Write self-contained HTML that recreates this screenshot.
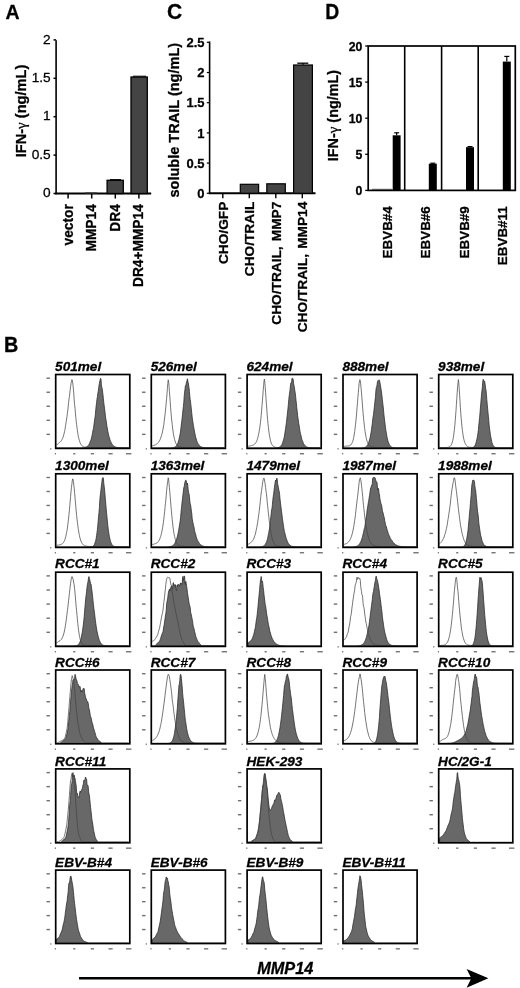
<!DOCTYPE html>
<html><head><meta charset="utf-8"><title>Figure</title>
<style>
html,body{margin:0;padding:0;background:#fff;}
body{width:520px;height:988px;overflow:hidden;}
svg{display:block;will-change:transform;}
svg text{font-family:"Liberation Sans",sans-serif;fill:#000;stroke:#000;stroke-width:0.28px;stroke-linejoin:round;}
</style></head><body>
<svg width="520" height="988" viewBox="0 0 520 988">
<rect width="520" height="988" fill="#fff"/>
<text x="0" y="0" font-size="19.5" font-weight="bold" font-style="normal" text-anchor="start" transform="translate(5.5 19.3) scale(1 1.0)" >A</text>
<text x="0" y="0" font-size="19.8" font-weight="bold" font-style="normal" text-anchor="start" transform="translate(3.9 352.2) scale(1 1.1)" >B</text>
<text x="0" y="0" font-size="21" font-weight="bold" font-style="normal" text-anchor="start" transform="translate(167 18.9) scale(1 1.07)" >C</text>
<text x="0" y="0" font-size="19.4" font-weight="bold" font-style="normal" text-anchor="start" transform="translate(325.2 18.7) scale(1 1.12)" >D</text>
<line x1="56.1" y1="40.2" x2="56.1" y2="194.25" stroke="#000" stroke-width="1.6" stroke-linecap="butt"/>
<line x1="55.300000000000004" y1="193.5" x2="151.2" y2="193.5" stroke="#000" stroke-width="1.9" stroke-linecap="butt"/>
<line x1="53.5" y1="193.5" x2="56.1" y2="193.5" stroke="#000" stroke-width="1.5" stroke-linecap="butt"/>
<text x="0" y="0" font-size="13.7" font-weight="normal" font-style="normal" text-anchor="end" transform="translate(50.7 197.2) scale(1 1.0)" fill="#111">0</text>
<line x1="53.5" y1="155.1" x2="56.1" y2="155.1" stroke="#000" stroke-width="1.5" stroke-linecap="butt"/>
<text x="0" y="0" font-size="13.7" font-weight="normal" font-style="normal" text-anchor="end" transform="translate(50.7 158.79999999999998) scale(1 1.0)" fill="#111">0.5</text>
<line x1="53.5" y1="116.7" x2="56.1" y2="116.7" stroke="#000" stroke-width="1.5" stroke-linecap="butt"/>
<text x="0" y="0" font-size="13.7" font-weight="normal" font-style="normal" text-anchor="end" transform="translate(50.7 120.4) scale(1 1.0)" fill="#111">1</text>
<line x1="53.5" y1="78.30000000000001" x2="56.1" y2="78.30000000000001" stroke="#000" stroke-width="1.5" stroke-linecap="butt"/>
<text x="0" y="0" font-size="13.7" font-weight="normal" font-style="normal" text-anchor="end" transform="translate(50.7 82.00000000000001) scale(1 1.0)" fill="#111">1.5</text>
<line x1="53.5" y1="39.900000000000006" x2="56.1" y2="39.900000000000006" stroke="#000" stroke-width="1.5" stroke-linecap="butt"/>
<text x="0" y="0" font-size="13.7" font-weight="normal" font-style="normal" text-anchor="end" transform="translate(50.7 43.60000000000001) scale(1 1.0)" fill="#111">2</text>
<line x1="68.1" y1="193.5" x2="68.1" y2="198.5" stroke="#000" stroke-width="1.5" stroke-linecap="butt"/>
<text x="0" y="0" font-size="13.75" font-weight="bold" font-style="normal" text-anchor="end" transform="rotate(-90 72.6 204.2) translate(72.6 204.2) scale(1 1.04)" >vector</text>
<line x1="91.69999999999999" y1="193.5" x2="91.69999999999999" y2="198.5" stroke="#000" stroke-width="1.5" stroke-linecap="butt"/>
<text x="0" y="0" font-size="13.75" font-weight="bold" font-style="normal" text-anchor="end" transform="rotate(-90 96.19999999999999 204.2) translate(96.19999999999999 204.2) scale(1 1.04)" >MMP14</text>
<line x1="115.3" y1="193.5" x2="115.3" y2="198.5" stroke="#000" stroke-width="1.5" stroke-linecap="butt"/>
<text x="0" y="0" font-size="13.75" font-weight="bold" font-style="normal" text-anchor="end" transform="rotate(-90 119.8 204.2) translate(119.8 204.2) scale(1 1.04)" >DR4</text>
<line x1="138.9" y1="193.5" x2="138.9" y2="198.5" stroke="#000" stroke-width="1.5" stroke-linecap="butt"/>
<text x="0" y="0" font-size="13.75" font-weight="bold" font-style="normal" text-anchor="end" transform="rotate(-90 143.4 204.2) translate(143.4 204.2) scale(1 1.04)" >DR4+MMP14</text>
<rect x="107.1" y="180.3" width="16.2" height="13.2" fill="#444" stroke="#000" stroke-width="1.3"/>
<line x1="110" y1="179.6" x2="121" y2="179.6" stroke="#000" stroke-width="1" stroke-linecap="butt"/>
<rect x="131.0" y="77" width="16.3" height="116.5" fill="#444" stroke="#000" stroke-width="1.3"/>
<line x1="133" y1="76.2" x2="146" y2="76.2" stroke="#000" stroke-width="1" stroke-linecap="butt"/>
<line x1="85" y1="193" x2="97" y2="193" stroke="#333" stroke-width="1.2" stroke-linecap="butt"/>
<text x="0" y="0" font-size="14.6" font-weight="bold" text-anchor="middle" transform="rotate(-90 25.9 111) translate(25.9 111) scale(1 1.03)">IFN-<tspan font-family="Liberation Serif, serif" font-weight="normal" font-size="15">γ</tspan> (ng/mL)</text>
<line x1="209.6" y1="41.5" x2="209.6" y2="194.05" stroke="#000" stroke-width="1.6" stroke-linecap="butt"/>
<line x1="208.79999999999998" y1="193.3" x2="315.5" y2="193.3" stroke="#000" stroke-width="1.9" stroke-linecap="butt"/>
<line x1="206.79999999999998" y1="193.3" x2="209.6" y2="193.3" stroke="#000" stroke-width="1.2" stroke-linecap="butt"/>
<text x="0" y="0" font-size="13" font-weight="bold" font-style="normal" text-anchor="end" transform="translate(204.6 198.0) scale(1 1.02)" >0</text>
<line x1="206.79999999999998" y1="163.10000000000002" x2="209.6" y2="163.10000000000002" stroke="#000" stroke-width="1.2" stroke-linecap="butt"/>
<text x="0" y="0" font-size="13" font-weight="bold" font-style="normal" text-anchor="end" transform="translate(204.6 167.8) scale(1 1.02)" >0.5</text>
<line x1="206.79999999999998" y1="132.9" x2="209.6" y2="132.9" stroke="#000" stroke-width="1.2" stroke-linecap="butt"/>
<text x="0" y="0" font-size="13" font-weight="bold" font-style="normal" text-anchor="end" transform="translate(204.6 137.6) scale(1 1.02)" >1</text>
<line x1="206.79999999999998" y1="102.70000000000002" x2="209.6" y2="102.70000000000002" stroke="#000" stroke-width="1.2" stroke-linecap="butt"/>
<text x="0" y="0" font-size="13" font-weight="bold" font-style="normal" text-anchor="end" transform="translate(204.6 107.40000000000002) scale(1 1.02)" >1.5</text>
<line x1="206.79999999999998" y1="72.50000000000001" x2="209.6" y2="72.50000000000001" stroke="#000" stroke-width="1.2" stroke-linecap="butt"/>
<text x="0" y="0" font-size="13" font-weight="bold" font-style="normal" text-anchor="end" transform="translate(204.6 77.20000000000002) scale(1 1.02)" >2</text>
<line x1="206.79999999999998" y1="42.30000000000001" x2="209.6" y2="42.30000000000001" stroke="#000" stroke-width="1.2" stroke-linecap="butt"/>
<text x="0" y="0" font-size="13" font-weight="bold" font-style="normal" text-anchor="end" transform="translate(204.6 47.000000000000014) scale(1 1.02)" >2.5</text>
<line x1="222.8" y1="193.3" x2="222.8" y2="198.3" stroke="#000" stroke-width="1.4" stroke-linecap="butt"/>
<text x="0" y="0" font-size="13.7" font-weight="bold" font-style="normal" text-anchor="end" transform="rotate(-90 227.60000000000002 201.7) translate(227.60000000000002 201.7) scale(1 1.0)" word-spacing="1.3">CHO/GFP</text>
<line x1="249.3" y1="193.3" x2="249.3" y2="198.3" stroke="#000" stroke-width="1.4" stroke-linecap="butt"/>
<text x="0" y="0" font-size="13.7" font-weight="bold" font-style="normal" text-anchor="end" transform="rotate(-90 254.10000000000002 201.7) translate(254.10000000000002 201.7) scale(1 1.0)" word-spacing="1.3">CHO/TRAIL</text>
<line x1="275.8" y1="193.3" x2="275.8" y2="198.3" stroke="#000" stroke-width="1.4" stroke-linecap="butt"/>
<text x="0" y="0" font-size="13.7" font-weight="bold" font-style="normal" text-anchor="end" transform="rotate(-90 280.6 201.7) translate(280.6 201.7) scale(1 1.0)" word-spacing="1.3">CHO/TRAIL, MMP7</text>
<line x1="302.3" y1="193.3" x2="302.3" y2="198.3" stroke="#000" stroke-width="1.4" stroke-linecap="butt"/>
<text x="0" y="0" font-size="13.7" font-weight="bold" font-style="normal" text-anchor="end" transform="rotate(-90 307.1 201.7) translate(307.1 201.7) scale(1 1.0)" word-spacing="1.3">CHO/TRAIL, MMP14</text>
<rect x="240.3" y="184.3" width="18.3" height="9.0" fill="#444" stroke="#000" stroke-width="1.2"/>
<rect x="266.8" y="183.8" width="18.5" height="9.5" fill="#444" stroke="#000" stroke-width="1.2"/>
<rect x="293.6" y="65" width="18.8" height="128.3" fill="#444" stroke="#000" stroke-width="1.2"/>
<line x1="297.3" y1="63.2" x2="308.3" y2="63.2" stroke="#000" stroke-width="1.3" stroke-linecap="butt"/>
<line x1="303" y1="63" x2="303" y2="65" stroke="#000" stroke-width="1" stroke-linecap="butt"/>
<text x="0" y="0" font-size="14.55" font-weight="bold" text-anchor="middle" transform="rotate(-90 178.6 120.2) translate(178.6 120.2) scale(1 1.04)">soluble TRAIL (ng/mL)</text>
<rect x="368.2" y="46" width="147.09999999999997" height="144.4" fill="none" stroke="#000" stroke-width="1.7"/>
<line x1="404.7" y1="46" x2="404.7" y2="190.4" stroke="#000" stroke-width="1.6" stroke-linecap="butt"/>
<line x1="441.6" y1="46" x2="441.6" y2="190.4" stroke="#000" stroke-width="1.6" stroke-linecap="butt"/>
<line x1="478.2" y1="46" x2="478.2" y2="190.4" stroke="#000" stroke-width="1.6" stroke-linecap="butt"/>
<line x1="365.2" y1="190.4" x2="368.2" y2="190.4" stroke="#000" stroke-width="1.3" stroke-linecap="butt"/>
<text x="0" y="0" font-size="12.3" font-weight="bold" font-style="normal" text-anchor="end" transform="translate(362.3 195.0) scale(1 1.06)" >0</text>
<line x1="365.2" y1="154.3" x2="368.2" y2="154.3" stroke="#000" stroke-width="1.3" stroke-linecap="butt"/>
<text x="0" y="0" font-size="12.3" font-weight="bold" font-style="normal" text-anchor="end" transform="translate(362.3 158.9) scale(1 1.06)" >5</text>
<line x1="365.2" y1="118.2" x2="368.2" y2="118.2" stroke="#000" stroke-width="1.3" stroke-linecap="butt"/>
<text x="0" y="0" font-size="12.3" font-weight="bold" font-style="normal" text-anchor="end" transform="translate(362.3 122.8) scale(1 1.06)" >10</text>
<line x1="365.2" y1="82.1" x2="368.2" y2="82.1" stroke="#000" stroke-width="1.3" stroke-linecap="butt"/>
<text x="0" y="0" font-size="12.3" font-weight="bold" font-style="normal" text-anchor="end" transform="translate(362.3 86.69999999999999) scale(1 1.06)" >15</text>
<line x1="365.2" y1="46.0" x2="368.2" y2="46.0" stroke="#000" stroke-width="1.3" stroke-linecap="butt"/>
<text x="0" y="0" font-size="12.3" font-weight="bold" font-style="normal" text-anchor="end" transform="translate(362.3 50.6) scale(1 1.06)" >20</text>
<rect x="392.7" y="135.3" width="7.900000000000034" height="55.099999999999994" fill="#000"/>
<line x1="396.65" y1="132.8" x2="396.65" y2="135.3" stroke="#000" stroke-width="1.2" stroke-linecap="butt"/>
<line x1="394.2" y1="132.8" x2="399.1" y2="132.8" stroke="#000" stroke-width="1.2" stroke-linecap="butt"/>
<rect x="428.8" y="163.7" width="8.0" height="26.700000000000017" fill="#000"/>
<line x1="432.8" y1="163.2" x2="432.8" y2="163.7" stroke="#000" stroke-width="1.2" stroke-linecap="butt"/>
<line x1="430.3" y1="163.2" x2="435.3" y2="163.2" stroke="#000" stroke-width="1.2" stroke-linecap="butt"/>
<rect x="466" y="147.2" width="8" height="43.20000000000002" fill="#000"/>
<line x1="470.0" y1="146.6" x2="470.0" y2="147.2" stroke="#000" stroke-width="1.2" stroke-linecap="butt"/>
<line x1="467.5" y1="146.6" x2="472.5" y2="146.6" stroke="#000" stroke-width="1.2" stroke-linecap="butt"/>
<rect x="502.8" y="61.6" width="8.0" height="128.8" fill="#000"/>
<line x1="506.8" y1="56.4" x2="506.8" y2="61.6" stroke="#000" stroke-width="1.2" stroke-linecap="butt"/>
<line x1="504.3" y1="56.4" x2="509.3" y2="56.4" stroke="#000" stroke-width="1.2" stroke-linecap="butt"/>
<line x1="372" y1="189.3" x2="392" y2="189.3" stroke="#222" stroke-width="0.7" stroke-linecap="butt"/>
<text x="0" y="0" font-size="13.45" font-weight="bold" font-style="normal" text-anchor="end" transform="rotate(-90 392.1 206.2) translate(392.1 206.2) scale(1 1.0)" >EBVB#4</text>
<text x="0" y="0" font-size="13.45" font-weight="bold" font-style="normal" text-anchor="end" transform="rotate(-90 430.35 206.2) translate(430.35 206.2) scale(1 1.0)" >EBVB#6</text>
<text x="0" y="0" font-size="13.45" font-weight="bold" font-style="normal" text-anchor="end" transform="rotate(-90 468.6 206.2) translate(468.6 206.2) scale(1 1.0)" >EBVB#9</text>
<text x="0" y="0" font-size="13.45" font-weight="bold" font-style="normal" text-anchor="end" transform="rotate(-90 506.85 206.2) translate(506.85 206.2) scale(1 1.0)" >EBVB#11</text>
<text x="0" y="0" font-size="14.35" font-weight="bold" text-anchor="middle" transform="rotate(-90 337.7 115.6) translate(337.7 115.6) scale(1 1.0)">IFN-<tspan font-family="Liberation Serif, serif" font-weight="normal" font-size="15">γ</tspan> (ng/mL)</text>
<clipPath id="cl00"><rect x="55.7" y="374.5" width="74.1" height="73.9"/></clipPath>
<g clip-path="url(#cl00)">
<path d="M56.6,448.4 L56.6,447.9 L57.0,447.9 L57.4,447.9 L57.8,447.9 L58.2,447.9 L58.6,447.9 L59.0,447.9 L59.4,447.9 L59.8,447.9 L60.2,447.9 L60.6,447.9 L61.0,447.9 L61.4,447.9 L61.8,447.9 L62.2,447.9 L62.6,447.9 L63.0,447.9 L63.4,447.9 L63.8,447.9 L64.2,447.9 L64.6,447.9 L65.0,447.9 L65.4,447.9 L65.8,447.9 L66.2,447.9 L66.6,447.9 L67.0,447.9 L67.4,447.9 L67.8,447.9 L68.2,447.9 L68.6,447.9 L69.0,447.9 L69.4,447.9 L69.8,447.9 L70.2,447.9 L70.6,447.9 L71.0,447.9 L71.4,447.9 L71.8,447.9 L72.2,447.9 L72.6,447.9 L73.0,447.9 L73.4,447.9 L73.8,447.9 L74.2,447.9 L74.6,447.9 L75.0,447.9 L75.4,447.9 L75.8,447.9 L76.2,447.9 L76.6,447.9 L77.0,447.9 L77.4,447.9 L77.8,447.9 L78.2,447.9 L78.6,447.9 L79.0,447.9 L79.4,447.9 L79.8,447.9 L80.2,447.9 L80.6,447.9 L81.0,447.9 L81.4,447.9 L81.8,447.8 L82.2,447.8 L82.6,447.8 L83.0,447.8 L83.4,447.7 L83.8,447.7 L84.2,447.6 L84.6,447.6 L85.0,447.5 L85.4,447.3 L85.8,447.2 L86.2,447.0 L86.6,446.8 L87.0,446.5 L87.4,446.2 L87.8,445.9 L88.2,445.4 L88.6,445.0 L89.0,444.5 L89.4,443.6 L89.8,442.8 L90.2,441.7 L90.6,440.6 L91.0,439.7 L91.4,438.3 L91.8,436.7 L92.2,434.9 L92.6,432.5 L93.0,430.3 L93.4,428.7 L93.8,426.2 L94.2,423.0 L94.6,420.1 L95.0,417.5 L95.4,414.4 L95.8,409.3 L96.2,405.8 L96.6,402.5 L97.0,399.1 L97.4,396.8 L97.8,393.5 L98.2,391.5 L98.6,388.8 L99.0,385.3 L99.4,383.6 L99.8,381.0 L100.2,380.0 L100.6,378.2 L101.0,379.4 L101.4,384.8 L101.8,387.4 L102.2,388.7 L102.6,392.0 L103.0,395.1 L103.4,398.7 L103.8,402.7 L104.2,406.0 L104.6,408.8 L105.0,412.2 L105.4,416.1 L105.8,418.9 L106.2,421.1 L106.6,424.0 L107.0,426.8 L107.4,429.0 L107.8,431.2 L108.2,433.1 L108.6,435.0 L109.0,436.6 L109.4,437.8 L109.8,439.2 L110.2,440.3 L110.6,441.4 L111.0,442.2 L111.4,443.0 L111.8,443.7 L112.2,444.3 L112.6,444.9 L113.0,445.3 L113.4,445.7 L113.8,446.0 L114.2,446.3 L114.6,446.5 L115.0,446.7 L115.4,446.9 L115.8,447.1 L116.2,447.2 L116.6,447.4 L117.0,447.4 L117.4,447.5 L117.8,447.6 L118.2,447.6 L118.6,447.7 L119.0,447.7 L119.4,447.8 L119.8,447.8 L120.2,447.8 L120.6,447.8 L121.0,447.8 L121.4,447.8 L121.8,447.9 L122.2,447.9 L122.6,447.9 L123.0,447.9 L123.4,447.9 L123.8,447.9 L124.2,447.9 L124.6,447.9 L125.0,447.9 L125.4,447.9 L125.8,447.9 L126.2,447.9 L126.6,447.9 L127.0,447.9 L127.4,447.9 L127.8,447.9 L128.2,447.9 L128.6,447.9 L128.6,448.4 Z" fill="#686868" stroke="#2e2e2e" stroke-width="0.8" stroke-linejoin="round"/>
<path d="M56.6,445.1 L57.0,444.7 L57.4,444.3 L57.8,443.9 L58.2,443.6 L58.6,443.2 L59.0,442.9 L59.4,442.6 L59.8,442.3 L60.2,442.0 L60.6,441.6 L61.0,441.2 L61.4,440.6 L61.8,439.9 L62.2,439.2 L62.6,438.3 L63.0,437.4 L63.4,436.1 L63.8,434.6 L64.2,433.0 L64.6,431.4 L65.0,429.5 L65.4,426.7 L65.8,424.3 L66.2,421.7 L66.6,418.9 L67.0,416.5 L67.4,413.4 L67.8,410.2 L68.2,406.7 L68.6,402.7 L69.0,399.1 L69.4,396.5 L69.8,393.1 L70.2,389.7 L70.6,386.7 L71.0,383.7 L71.4,381.6 L71.8,379.7 L72.2,379.9 L72.6,381.9 L73.0,385.4 L73.4,389.1 L73.8,393.8 L74.2,399.8 L74.6,404.6 L75.0,408.3 L75.4,412.8 L75.8,417.3 L76.2,421.2 L76.6,424.5 L77.0,427.7 L77.4,430.7 L77.8,433.2 L78.2,435.7 L78.6,437.6 L79.0,439.2 L79.4,440.6 L79.8,441.9 L80.2,442.9 L80.6,443.8 L81.0,444.5 L81.4,445.1 L81.8,445.5 L82.2,445.9 L82.6,446.2 L83.0,446.5 L83.4,446.7 L83.8,446.9 L84.2,447.0 L84.6,447.1 L85.0,447.2 L85.4,447.3 L85.8,447.3 L86.2,447.4 L86.6,447.4 L87.0,447.4 L87.4,447.4 L87.8,447.5 L88.2,447.5 L88.6,447.5 L89.0,447.5 L89.4,447.5 L89.8,447.5 L90.2,447.5 L90.6,447.5 L91.0,447.5 L91.4,447.5 L91.8,447.5 L92.2,447.5 L92.6,447.5 L93.0,447.5 L93.4,447.5 L93.8,447.5 L94.2,447.5 L94.6,447.5 L95.0,447.5 L95.4,447.5 L95.8,447.5 L96.2,447.5 L96.6,447.5 L97.0,447.5 L97.4,447.5 L97.8,447.5 L98.2,447.5 L98.6,447.5 L99.0,447.5 L99.4,447.5 L99.8,447.5 L100.2,447.5 L100.6,447.5 L101.0,447.5 L101.4,447.5 L101.8,447.5 L102.2,447.5 L102.6,447.5 L103.0,447.5 L103.4,447.5 L103.8,447.5 L104.2,447.5 L104.6,447.5 L105.0,447.5 L105.4,447.5 L105.8,447.5 L106.2,447.5 L106.6,447.5 L107.0,447.5 L107.4,447.5 L107.8,447.5 L108.2,447.5 L108.6,447.5 L109.0,447.5 L109.4,447.5 L109.8,447.5 L110.2,447.5 L110.6,447.5 L111.0,447.5 L111.4,447.5 L111.8,447.5 L112.2,447.5 L112.6,447.5 L113.0,447.5 L113.4,447.5 L113.8,447.5 L114.2,447.5 L114.6,447.5 L115.0,447.5 L115.4,447.5 L115.8,447.5 L116.2,447.5 L116.6,447.5 L117.0,447.5 L117.4,447.5 L117.8,447.5 L118.2,447.5 L118.6,447.5 L119.0,447.5 L119.4,447.5 L119.8,447.5 L120.2,447.5 L120.6,447.5 L121.0,447.5 L121.4,447.5 L121.8,447.5 L122.2,447.5 L122.6,447.5 L123.0,447.5 L123.4,447.5 L123.8,447.5 L124.2,447.5 L124.6,447.5 L125.0,447.5 L125.4,447.5 L125.8,447.5 L126.2,447.5 L126.6,447.5 L127.0,447.5 L127.4,447.5 L127.8,447.5 L128.2,447.5 L128.6,447.5" fill="none" stroke="#474747" stroke-width="0.75" stroke-linejoin="round"/>
</g>
<rect x="55.7" y="374.5" width="74.1" height="73.9" fill="none" stroke="#000" stroke-width="1.7"/>
<text x="0" y="0" font-size="13.6" font-weight="bold" font-style="italic" text-anchor="start" transform="translate(55.1 370.6) scale(1 0.98)" >501mel</text>
<rect x="46.5" y="377.50" width="3.4" height="1.4" fill="#6e6e6e"/>
<rect x="46.5" y="391.54" width="3.4" height="1.4" fill="#6e6e6e"/>
<rect x="46.5" y="405.58" width="3.4" height="1.4" fill="#6e6e6e"/>
<rect x="46.5" y="419.62" width="3.4" height="1.4" fill="#6e6e6e"/>
<rect x="46.5" y="433.66" width="3.4" height="1.4" fill="#6e6e6e"/>
<rect x="50.1" y="448.20" width="1.3" height="1.3" fill="#777"/>
<rect x="54.80" y="453.10" width="1.2" height="1.3" fill="#6a6a6a"/>
<rect x="73.15" y="453.10" width="2.2" height="1.3" fill="#6a6a6a"/>
<rect x="90.80" y="453.10" width="3.2" height="1.3" fill="#6a6a6a"/>
<rect x="108.45" y="453.10" width="4.2" height="1.3" fill="#6a6a6a"/>
<rect x="126.00" y="453.10" width="5.4" height="1.3" fill="#6a6a6a"/>
<clipPath id="cl01"><rect x="151.3" y="374.5" width="74.1" height="73.9"/></clipPath>
<g clip-path="url(#cl01)">
<path d="M152.2,448.4 L152.2,447.9 L152.6,447.9 L153.0,447.9 L153.4,447.9 L153.8,447.9 L154.2,447.9 L154.6,447.9 L155.0,447.9 L155.4,447.9 L155.8,447.9 L156.2,447.9 L156.6,447.9 L157.0,447.9 L157.4,447.9 L157.8,447.9 L158.2,447.9 L158.6,447.9 L159.0,447.9 L159.4,447.9 L159.8,447.9 L160.2,447.9 L160.6,447.9 L161.0,447.9 L161.4,447.9 L161.8,447.9 L162.2,447.9 L162.6,447.9 L163.0,447.9 L163.4,447.9 L163.8,447.9 L164.2,447.9 L164.6,447.9 L165.0,447.9 L165.4,447.9 L165.8,447.9 L166.2,447.9 L166.6,447.9 L167.0,447.9 L167.4,447.9 L167.8,447.9 L168.2,447.9 L168.6,447.9 L169.0,447.9 L169.4,447.9 L169.8,447.9 L170.2,447.9 L170.6,447.9 L171.0,447.9 L171.4,447.8 L171.8,447.8 L172.2,447.8 L172.6,447.7 L173.0,447.7 L173.4,447.6 L173.8,447.5 L174.2,447.4 L174.6,447.2 L175.0,447.0 L175.4,446.8 L175.8,446.4 L176.2,446.0 L176.6,445.5 L177.0,444.9 L177.4,444.1 L177.8,443.2 L178.2,442.1 L178.6,440.8 L179.0,439.2 L179.4,437.5 L179.8,435.5 L180.2,433.6 L180.6,431.0 L181.0,427.3 L181.4,424.0 L181.8,421.1 L182.2,417.4 L182.6,413.6 L183.0,409.6 L183.4,406.4 L183.8,402.5 L184.2,396.4 L184.6,392.2 L185.0,389.3 L185.4,385.7 L185.8,385.8 L186.2,383.8 L186.6,381.4 L187.0,380.7 L187.4,378.8 L187.8,380.8 L188.2,382.5 L188.6,385.2 L189.0,387.7 L189.4,391.3 L189.8,396.2 L190.2,399.7 L190.6,402.3 L191.0,406.1 L191.4,410.0 L191.8,413.4 L192.2,417.4 L192.6,420.3 L193.0,422.8 L193.4,425.6 L193.8,427.7 L194.2,430.0 L194.6,432.2 L195.0,434.1 L195.4,436.1 L195.8,437.6 L196.2,438.9 L196.6,440.2 L197.0,441.5 L197.4,442.4 L197.8,443.2 L198.2,443.9 L198.6,444.4 L199.0,444.9 L199.4,445.5 L199.8,445.9 L200.2,446.2 L200.6,446.5 L201.0,446.7 L201.4,446.9 L201.8,447.1 L202.2,447.2 L202.6,447.4 L203.0,447.5 L203.4,447.5 L203.8,447.6 L204.2,447.7 L204.6,447.7 L205.0,447.7 L205.4,447.8 L205.8,447.8 L206.2,447.8 L206.6,447.8 L207.0,447.9 L207.4,447.9 L207.8,447.9 L208.2,447.9 L208.6,447.9 L209.0,447.9 L209.4,447.9 L209.8,447.9 L210.2,447.9 L210.6,447.9 L211.0,447.9 L211.4,447.9 L211.8,447.9 L212.2,447.9 L212.6,447.9 L213.0,447.9 L213.4,447.9 L213.8,447.9 L214.2,447.9 L214.6,447.9 L215.0,447.9 L215.4,447.9 L215.8,447.9 L216.2,447.9 L216.6,447.9 L217.0,447.9 L217.4,447.9 L217.8,447.9 L218.2,447.9 L218.6,447.9 L219.0,447.9 L219.4,447.9 L219.8,447.9 L220.2,447.9 L220.6,447.9 L221.0,447.9 L221.4,447.9 L221.8,447.9 L222.2,447.9 L222.6,447.9 L223.0,447.9 L223.4,447.9 L223.8,447.9 L224.2,447.9 L224.2,448.4 Z" fill="#686868" stroke="#2e2e2e" stroke-width="0.8" stroke-linejoin="round"/>
<path d="M152.2,446.0 L152.6,445.8 L153.0,445.7 L153.4,445.6 L153.8,445.4 L154.2,445.3 L154.6,445.1 L155.0,445.0 L155.4,444.8 L155.8,444.6 L156.2,444.3 L156.6,444.1 L157.0,443.8 L157.4,443.5 L157.8,443.1 L158.2,442.7 L158.6,442.2 L159.0,441.6 L159.4,440.9 L159.8,440.1 L160.2,439.4 L160.6,438.4 L161.0,437.0 L161.4,435.8 L161.8,434.7 L162.2,433.1 L162.6,431.2 L163.0,429.2 L163.4,427.0 L163.8,424.5 L164.2,421.1 L164.6,418.0 L165.0,414.9 L165.4,411.2 L165.8,407.1 L166.2,402.9 L166.6,398.5 L167.0,393.7 L167.4,388.4 L167.8,383.5 L168.2,379.8 L168.6,381.1 L169.0,385.8 L169.4,391.2 L169.8,396.2 L170.2,401.7 L170.6,407.2 L171.0,412.3 L171.4,417.1 L171.8,421.1 L172.2,424.5 L172.6,427.9 L173.0,431.0 L173.4,433.7 L173.8,435.9 L174.2,437.8 L174.6,439.5 L175.0,440.9 L175.4,442.2 L175.8,443.1 L176.2,444.0 L176.6,444.6 L177.0,445.2 L177.4,445.7 L177.8,446.0 L178.2,446.3 L178.6,446.6 L179.0,446.8 L179.4,446.9 L179.8,447.0 L180.2,447.1 L180.6,447.2 L181.0,447.3 L181.4,447.3 L181.8,447.4 L182.2,447.4 L182.6,447.4 L183.0,447.4 L183.4,447.5 L183.8,447.5 L184.2,447.5 L184.6,447.5 L185.0,447.5 L185.4,447.5 L185.8,447.5 L186.2,447.5 L186.6,447.5 L187.0,447.5 L187.4,447.5 L187.8,447.5 L188.2,447.5 L188.6,447.5 L189.0,447.5 L189.4,447.5 L189.8,447.5 L190.2,447.5 L190.6,447.5 L191.0,447.5 L191.4,447.5 L191.8,447.5 L192.2,447.5 L192.6,447.5 L193.0,447.5 L193.4,447.5 L193.8,447.5 L194.2,447.5 L194.6,447.5 L195.0,447.5 L195.4,447.5 L195.8,447.5 L196.2,447.5 L196.6,447.5 L197.0,447.5 L197.4,447.5 L197.8,447.5 L198.2,447.5 L198.6,447.5 L199.0,447.5 L199.4,447.5 L199.8,447.5 L200.2,447.5 L200.6,447.5 L201.0,447.5 L201.4,447.5 L201.8,447.5 L202.2,447.5 L202.6,447.5 L203.0,447.5 L203.4,447.5 L203.8,447.5 L204.2,447.5 L204.6,447.5 L205.0,447.5 L205.4,447.5 L205.8,447.5 L206.2,447.5 L206.6,447.5 L207.0,447.5 L207.4,447.5 L207.8,447.5 L208.2,447.5 L208.6,447.5 L209.0,447.5 L209.4,447.5 L209.8,447.5 L210.2,447.5 L210.6,447.5 L211.0,447.5 L211.4,447.5 L211.8,447.5 L212.2,447.5 L212.6,447.5 L213.0,447.5 L213.4,447.5 L213.8,447.5 L214.2,447.5 L214.6,447.5 L215.0,447.5 L215.4,447.5 L215.8,447.5 L216.2,447.5 L216.6,447.5 L217.0,447.5 L217.4,447.5 L217.8,447.5 L218.2,447.5 L218.6,447.5 L219.0,447.5 L219.4,447.5 L219.8,447.5 L220.2,447.5 L220.6,447.5 L221.0,447.5 L221.4,447.5 L221.8,447.5 L222.2,447.5 L222.6,447.5 L223.0,447.5 L223.4,447.5 L223.8,447.5 L224.2,447.5" fill="none" stroke="#474747" stroke-width="0.75" stroke-linejoin="round"/>
</g>
<rect x="151.3" y="374.5" width="74.1" height="73.9" fill="none" stroke="#000" stroke-width="1.7"/>
<text x="0" y="0" font-size="13.6" font-weight="bold" font-style="italic" text-anchor="start" transform="translate(150.70000000000002 370.6) scale(1 0.98)" >526mel</text>
<rect x="142.1" y="377.50" width="3.4" height="1.4" fill="#6e6e6e"/>
<rect x="142.1" y="391.54" width="3.4" height="1.4" fill="#6e6e6e"/>
<rect x="142.1" y="405.58" width="3.4" height="1.4" fill="#6e6e6e"/>
<rect x="142.1" y="419.62" width="3.4" height="1.4" fill="#6e6e6e"/>
<rect x="142.1" y="433.66" width="3.4" height="1.4" fill="#6e6e6e"/>
<rect x="145.7" y="448.20" width="1.3" height="1.3" fill="#777"/>
<rect x="150.40" y="453.10" width="1.2" height="1.3" fill="#6a6a6a"/>
<rect x="168.75" y="453.10" width="2.2" height="1.3" fill="#6a6a6a"/>
<rect x="186.40" y="453.10" width="3.2" height="1.3" fill="#6a6a6a"/>
<rect x="204.05" y="453.10" width="4.2" height="1.3" fill="#6a6a6a"/>
<rect x="221.60" y="453.10" width="5.4" height="1.3" fill="#6a6a6a"/>
<clipPath id="cl02"><rect x="247.1" y="374.5" width="74.1" height="73.9"/></clipPath>
<g clip-path="url(#cl02)">
<path d="M248.0,448.4 L248.0,447.9 L248.4,447.9 L248.8,447.9 L249.2,447.9 L249.6,447.9 L250.0,447.9 L250.4,447.9 L250.8,447.9 L251.2,447.9 L251.6,447.9 L252.0,447.9 L252.4,447.9 L252.8,447.9 L253.2,447.9 L253.6,447.9 L254.0,447.9 L254.4,447.9 L254.8,447.9 L255.2,447.9 L255.6,447.9 L256.0,447.9 L256.4,447.9 L256.8,447.9 L257.2,447.9 L257.6,447.9 L258.0,447.9 L258.4,447.9 L258.8,447.9 L259.2,447.9 L259.6,447.9 L260.0,447.9 L260.4,447.9 L260.8,447.9 L261.2,447.9 L261.6,447.9 L262.0,447.9 L262.4,447.9 L262.8,447.9 L263.2,447.9 L263.6,447.9 L264.0,447.9 L264.4,447.9 L264.8,447.9 L265.2,447.9 L265.6,447.9 L266.0,447.9 L266.4,447.9 L266.8,447.9 L267.2,447.9 L267.6,447.9 L268.0,447.9 L268.4,447.9 L268.8,447.9 L269.2,447.9 L269.6,447.9 L270.0,447.9 L270.4,447.9 L270.8,447.9 L271.2,447.9 L271.6,447.9 L272.0,447.9 L272.4,447.9 L272.8,447.9 L273.2,447.9 L273.6,447.9 L274.0,447.9 L274.4,447.9 L274.8,447.9 L275.2,447.9 L275.6,447.9 L276.0,447.9 L276.4,447.8 L276.8,447.8 L277.2,447.8 L277.6,447.7 L278.0,447.6 L278.4,447.6 L278.8,447.4 L279.2,447.3 L279.6,447.1 L280.0,446.8 L280.4,446.5 L280.8,446.1 L281.2,445.6 L281.6,445.0 L282.0,444.3 L282.4,443.3 L282.8,442.2 L283.2,440.9 L283.6,439.4 L284.0,438.1 L284.4,436.2 L284.8,433.6 L285.2,431.1 L285.6,428.4 L286.0,425.4 L286.4,422.6 L286.8,419.2 L287.2,415.5 L287.6,412.0 L288.0,408.1 L288.4,404.3 L288.8,399.4 L289.2,395.7 L289.6,393.2 L290.0,390.2 L290.4,386.0 L290.8,383.2 L291.2,383.1 L291.6,381.8 L292.0,378.2 L292.4,378.2 L292.8,378.6 L293.2,379.4 L293.6,383.3 L294.0,385.5 L294.4,387.5 L294.8,390.6 L295.2,393.0 L295.6,396.2 L296.0,400.3 L296.4,403.8 L296.8,408.0 L297.2,411.3 L297.6,415.3 L298.0,418.3 L298.4,421.1 L298.8,423.8 L299.2,426.1 L299.6,428.5 L300.0,431.4 L300.4,433.4 L300.8,434.7 L301.2,436.4 L301.6,438.3 L302.0,439.7 L302.4,440.6 L302.8,441.7 L303.2,442.8 L303.6,443.6 L304.0,444.2 L304.4,444.8 L304.8,445.3 L305.2,445.8 L305.6,446.2 L306.0,446.5 L306.4,446.7 L306.8,447.0 L307.2,447.1 L307.6,447.3 L308.0,447.4 L308.4,447.5 L308.8,447.6 L309.2,447.6 L309.6,447.7 L310.0,447.7 L310.4,447.8 L310.8,447.8 L311.2,447.8 L311.6,447.8 L312.0,447.9 L312.4,447.9 L312.8,447.9 L313.2,447.9 L313.6,447.9 L314.0,447.9 L314.4,447.9 L314.8,447.9 L315.2,447.9 L315.6,447.9 L316.0,447.9 L316.4,447.9 L316.8,447.9 L317.2,447.9 L317.6,447.9 L318.0,447.9 L318.4,447.9 L318.8,447.9 L319.2,447.9 L319.6,447.9 L320.0,447.9 L320.0,448.4 Z" fill="#686868" stroke="#2e2e2e" stroke-width="0.8" stroke-linejoin="round"/>
<path d="M248.0,446.3 L248.4,446.2 L248.8,446.1 L249.2,446.1 L249.6,446.0 L250.0,445.9 L250.4,445.8 L250.8,445.8 L251.2,445.7 L251.6,445.6 L252.0,445.5 L252.4,445.4 L252.8,445.2 L253.2,445.1 L253.6,444.9 L254.0,444.6 L254.4,444.4 L254.8,444.0 L255.2,443.5 L255.6,443.0 L256.0,442.4 L256.4,441.6 L256.8,440.7 L257.2,439.7 L257.6,438.3 L258.0,436.9 L258.4,435.3 L258.8,433.3 L259.2,431.2 L259.6,428.8 L260.0,426.0 L260.4,422.8 L260.8,419.3 L261.2,415.6 L261.6,410.6 L262.0,405.7 L262.4,401.1 L262.8,395.8 L263.2,390.6 L263.6,385.6 L264.0,381.2 L264.4,379.1 L264.8,382.3 L265.2,387.0 L265.6,392.6 L266.0,398.4 L266.4,403.7 L266.8,409.3 L267.2,414.9 L267.6,419.6 L268.0,423.6 L268.4,427.4 L268.8,430.8 L269.2,433.8 L269.6,436.3 L270.0,438.4 L270.4,440.3 L270.8,441.8 L271.2,443.0 L271.6,443.9 L272.0,444.7 L272.4,445.3 L272.8,445.8 L273.2,446.2 L273.6,446.5 L274.0,446.8 L274.4,446.9 L274.8,447.1 L275.2,447.2 L275.6,447.3 L276.0,447.3 L276.4,447.4 L276.8,447.4 L277.2,447.4 L277.6,447.5 L278.0,447.5 L278.4,447.5 L278.8,447.5 L279.2,447.5 L279.6,447.5 L280.0,447.5 L280.4,447.5 L280.8,447.5 L281.2,447.5 L281.6,447.5 L282.0,447.5 L282.4,447.5 L282.8,447.5 L283.2,447.5 L283.6,447.5 L284.0,447.5 L284.4,447.5 L284.8,447.5 L285.2,447.5 L285.6,447.5 L286.0,447.5 L286.4,447.5 L286.8,447.5 L287.2,447.5 L287.6,447.5 L288.0,447.5 L288.4,447.5 L288.8,447.5 L289.2,447.5 L289.6,447.5 L290.0,447.5 L290.4,447.5 L290.8,447.5 L291.2,447.5 L291.6,447.5 L292.0,447.5 L292.4,447.5 L292.8,447.5 L293.2,447.5 L293.6,447.5 L294.0,447.5 L294.4,447.5 L294.8,447.5 L295.2,447.5 L295.6,447.5 L296.0,447.5 L296.4,447.5 L296.8,447.5 L297.2,447.5 L297.6,447.5 L298.0,447.5 L298.4,447.5 L298.8,447.5 L299.2,447.5 L299.6,447.5 L300.0,447.5 L300.4,447.5 L300.8,447.5 L301.2,447.5 L301.6,447.5 L302.0,447.5 L302.4,447.5 L302.8,447.5 L303.2,447.5 L303.6,447.5 L304.0,447.5 L304.4,447.5 L304.8,447.5 L305.2,447.5 L305.6,447.5 L306.0,447.5 L306.4,447.5 L306.8,447.5 L307.2,447.5 L307.6,447.5 L308.0,447.5 L308.4,447.5 L308.8,447.5 L309.2,447.5 L309.6,447.5 L310.0,447.5 L310.4,447.5 L310.8,447.5 L311.2,447.5 L311.6,447.5 L312.0,447.5 L312.4,447.5 L312.8,447.5 L313.2,447.5 L313.6,447.5 L314.0,447.5 L314.4,447.5 L314.8,447.5 L315.2,447.5 L315.6,447.5 L316.0,447.5 L316.4,447.5 L316.8,447.5 L317.2,447.5 L317.6,447.5 L318.0,447.5 L318.4,447.5 L318.8,447.5 L319.2,447.5 L319.6,447.5 L320.0,447.5" fill="none" stroke="#474747" stroke-width="0.75" stroke-linejoin="round"/>
</g>
<rect x="247.1" y="374.5" width="74.1" height="73.9" fill="none" stroke="#000" stroke-width="1.7"/>
<text x="0" y="0" font-size="13.6" font-weight="bold" font-style="italic" text-anchor="start" transform="translate(246.5 370.6) scale(1 0.98)" >624mel</text>
<rect x="237.9" y="377.50" width="3.4" height="1.4" fill="#6e6e6e"/>
<rect x="237.9" y="391.54" width="3.4" height="1.4" fill="#6e6e6e"/>
<rect x="237.9" y="405.58" width="3.4" height="1.4" fill="#6e6e6e"/>
<rect x="237.9" y="419.62" width="3.4" height="1.4" fill="#6e6e6e"/>
<rect x="237.9" y="433.66" width="3.4" height="1.4" fill="#6e6e6e"/>
<rect x="241.5" y="448.20" width="1.3" height="1.3" fill="#777"/>
<rect x="246.20" y="453.10" width="1.2" height="1.3" fill="#6a6a6a"/>
<rect x="264.55" y="453.10" width="2.2" height="1.3" fill="#6a6a6a"/>
<rect x="282.20" y="453.10" width="3.2" height="1.3" fill="#6a6a6a"/>
<rect x="299.85" y="453.10" width="4.2" height="1.3" fill="#6a6a6a"/>
<rect x="317.40" y="453.10" width="5.4" height="1.3" fill="#6a6a6a"/>
<clipPath id="cl03"><rect x="343.0" y="374.5" width="74.1" height="73.9"/></clipPath>
<g clip-path="url(#cl03)">
<path d="M343.9,448.4 L343.9,447.9 L344.3,447.9 L344.7,447.9 L345.1,447.9 L345.5,447.9 L345.9,447.9 L346.3,447.9 L346.7,447.9 L347.1,447.9 L347.5,447.9 L347.9,447.9 L348.3,447.9 L348.7,447.9 L349.1,447.9 L349.5,447.9 L349.9,447.9 L350.3,447.9 L350.7,447.9 L351.1,447.9 L351.5,447.9 L351.9,447.9 L352.3,447.9 L352.7,447.9 L353.1,447.9 L353.5,447.9 L353.9,447.9 L354.3,447.9 L354.7,447.9 L355.1,447.9 L355.5,447.9 L355.9,447.9 L356.3,447.9 L356.7,447.9 L357.1,447.9 L357.5,447.9 L357.9,447.9 L358.3,447.9 L358.7,447.9 L359.1,447.9 L359.5,447.9 L359.9,447.9 L360.3,447.9 L360.7,447.9 L361.1,447.9 L361.5,447.9 L361.9,447.8 L362.3,447.8 L362.7,447.8 L363.1,447.8 L363.5,447.7 L363.9,447.7 L364.3,447.6 L364.7,447.4 L365.1,447.3 L365.5,447.1 L365.9,446.9 L366.3,446.5 L366.7,446.1 L367.1,445.6 L367.5,445.1 L367.9,444.4 L368.3,443.5 L368.7,442.4 L369.1,441.2 L369.5,440.0 L369.9,438.5 L370.3,436.4 L370.7,434.3 L371.1,432.3 L371.5,429.8 L371.9,426.4 L372.3,423.4 L372.7,420.1 L373.1,416.7 L373.5,414.5 L373.9,410.9 L374.3,407.4 L374.7,403.8 L375.1,399.8 L375.5,396.4 L375.9,390.5 L376.3,387.7 L376.7,387.0 L377.1,384.6 L377.5,381.6 L377.9,380.5 L378.3,380.9 L378.7,380.5 L379.1,379.8 L379.5,380.6 L379.9,382.2 L380.3,384.5 L380.7,387.1 L381.1,389.4 L381.5,391.8 L381.9,395.3 L382.3,399.2 L382.7,402.8 L383.1,405.9 L383.5,410.1 L383.9,414.2 L384.3,417.9 L384.7,421.0 L385.1,424.4 L385.5,427.6 L385.9,430.4 L386.3,432.9 L386.7,435.2 L387.1,437.4 L387.5,439.1 L387.9,440.9 L388.3,442.2 L388.7,443.0 L389.1,444.0 L389.5,444.7 L389.9,445.4 L390.3,445.9 L390.7,446.4 L391.1,446.7 L391.5,447.0 L391.9,447.2 L392.3,447.4 L392.7,447.5 L393.1,447.6 L393.5,447.7 L393.9,447.7 L394.3,447.8 L394.7,447.8 L395.1,447.8 L395.5,447.9 L395.9,447.9 L396.3,447.9 L396.7,447.9 L397.1,447.9 L397.5,447.9 L397.9,447.9 L398.3,447.9 L398.7,447.9 L399.1,447.9 L399.5,447.9 L399.9,447.9 L400.3,447.9 L400.7,447.9 L401.1,447.9 L401.5,447.9 L401.9,447.9 L402.3,447.9 L402.7,447.9 L403.1,447.9 L403.5,447.9 L403.9,447.9 L404.3,447.9 L404.7,447.9 L405.1,447.9 L405.5,447.9 L405.9,447.9 L406.3,447.9 L406.7,447.9 L407.1,447.9 L407.5,447.9 L407.9,447.9 L408.3,447.9 L408.7,447.9 L409.1,447.9 L409.5,447.9 L409.9,447.9 L410.3,447.9 L410.7,447.9 L411.1,447.9 L411.5,447.9 L411.9,447.9 L412.3,447.9 L412.7,447.9 L413.1,447.9 L413.5,447.9 L413.9,447.9 L414.3,447.9 L414.7,447.9 L415.1,447.9 L415.5,447.9 L415.9,447.9 L415.9,448.4 Z" fill="#686868" stroke="#2e2e2e" stroke-width="0.8" stroke-linejoin="round"/>
<path d="M343.9,446.3 L344.3,446.3 L344.7,446.3 L345.1,446.2 L345.5,446.2 L345.9,446.1 L346.3,446.1 L346.7,446.1 L347.1,446.1 L347.5,446.0 L347.9,446.0 L348.3,445.9 L348.7,445.9 L349.1,445.8 L349.5,445.7 L349.9,445.5 L350.3,445.3 L350.7,445.0 L351.1,444.5 L351.5,444.0 L351.9,443.3 L352.3,442.4 L352.7,441.4 L353.1,440.1 L353.5,438.5 L353.9,436.5 L354.3,434.1 L354.7,431.5 L355.1,428.1 L355.5,424.4 L355.9,421.1 L356.3,416.9 L356.7,412.1 L357.1,407.2 L357.5,402.3 L357.9,397.6 L358.3,392.6 L358.7,388.3 L359.1,383.6 L359.5,380.7 L359.9,379.6 L360.3,380.9 L360.7,383.9 L361.1,388.4 L361.5,392.9 L361.9,397.8 L362.3,403.1 L362.7,408.2 L363.1,413.3 L363.5,417.8 L363.9,421.4 L364.3,425.2 L364.7,428.6 L365.1,431.6 L365.5,434.0 L365.9,436.3 L366.3,438.4 L366.7,440.0 L367.1,441.3 L367.5,442.5 L367.9,443.4 L368.3,444.2 L368.7,444.8 L369.1,445.4 L369.5,445.8 L369.9,446.2 L370.3,446.5 L370.7,446.7 L371.1,446.9 L371.5,447.0 L371.9,447.1 L372.3,447.2 L372.7,447.3 L373.1,447.3 L373.5,447.4 L373.9,447.4 L374.3,447.4 L374.7,447.4 L375.1,447.5 L375.5,447.5 L375.9,447.5 L376.3,447.5 L376.7,447.5 L377.1,447.5 L377.5,447.5 L377.9,447.5 L378.3,447.5 L378.7,447.5 L379.1,447.5 L379.5,447.5 L379.9,447.5 L380.3,447.5 L380.7,447.5 L381.1,447.5 L381.5,447.5 L381.9,447.5 L382.3,447.5 L382.7,447.5 L383.1,447.5 L383.5,447.5 L383.9,447.5 L384.3,447.5 L384.7,447.5 L385.1,447.5 L385.5,447.5 L385.9,447.5 L386.3,447.5 L386.7,447.5 L387.1,447.5 L387.5,447.5 L387.9,447.5 L388.3,447.5 L388.7,447.5 L389.1,447.5 L389.5,447.5 L389.9,447.5 L390.3,447.5 L390.7,447.5 L391.1,447.5 L391.5,447.5 L391.9,447.5 L392.3,447.5 L392.7,447.5 L393.1,447.5 L393.5,447.5 L393.9,447.5 L394.3,447.5 L394.7,447.5 L395.1,447.5 L395.5,447.5 L395.9,447.5 L396.3,447.5 L396.7,447.5 L397.1,447.5 L397.5,447.5 L397.9,447.5 L398.3,447.5 L398.7,447.5 L399.1,447.5 L399.5,447.5 L399.9,447.5 L400.3,447.5 L400.7,447.5 L401.1,447.5 L401.5,447.5 L401.9,447.5 L402.3,447.5 L402.7,447.5 L403.1,447.5 L403.5,447.5 L403.9,447.5 L404.3,447.5 L404.7,447.5 L405.1,447.5 L405.5,447.5 L405.9,447.5 L406.3,447.5 L406.7,447.5 L407.1,447.5 L407.5,447.5 L407.9,447.5 L408.3,447.5 L408.7,447.5 L409.1,447.5 L409.5,447.5 L409.9,447.5 L410.3,447.5 L410.7,447.5 L411.1,447.5 L411.5,447.5 L411.9,447.5 L412.3,447.5 L412.7,447.5 L413.1,447.5 L413.5,447.5 L413.9,447.5 L414.3,447.5 L414.7,447.5 L415.1,447.5 L415.5,447.5 L415.9,447.5" fill="none" stroke="#474747" stroke-width="0.75" stroke-linejoin="round"/>
</g>
<rect x="343.0" y="374.5" width="74.1" height="73.9" fill="none" stroke="#000" stroke-width="1.7"/>
<text x="0" y="0" font-size="13.6" font-weight="bold" font-style="italic" text-anchor="start" transform="translate(342.4 370.6) scale(1 0.98)" >888mel</text>
<rect x="333.8" y="377.50" width="3.4" height="1.4" fill="#6e6e6e"/>
<rect x="333.8" y="391.54" width="3.4" height="1.4" fill="#6e6e6e"/>
<rect x="333.8" y="405.58" width="3.4" height="1.4" fill="#6e6e6e"/>
<rect x="333.8" y="419.62" width="3.4" height="1.4" fill="#6e6e6e"/>
<rect x="333.8" y="433.66" width="3.4" height="1.4" fill="#6e6e6e"/>
<rect x="337.4" y="448.20" width="1.3" height="1.3" fill="#777"/>
<rect x="342.10" y="453.10" width="1.2" height="1.3" fill="#6a6a6a"/>
<rect x="360.45" y="453.10" width="2.2" height="1.3" fill="#6a6a6a"/>
<rect x="378.10" y="453.10" width="3.2" height="1.3" fill="#6a6a6a"/>
<rect x="395.75" y="453.10" width="4.2" height="1.3" fill="#6a6a6a"/>
<rect x="413.30" y="453.10" width="5.4" height="1.3" fill="#6a6a6a"/>
<clipPath id="cl04"><rect x="438.7" y="374.5" width="74.1" height="73.9"/></clipPath>
<g clip-path="url(#cl04)">
<path d="M439.6,448.4 L439.6,447.9 L440.0,447.9 L440.4,447.9 L440.8,447.9 L441.2,447.9 L441.6,447.9 L442.0,447.9 L442.4,447.9 L442.8,447.9 L443.2,447.9 L443.6,447.9 L444.0,447.9 L444.4,447.9 L444.8,447.9 L445.2,447.9 L445.6,447.9 L446.0,447.9 L446.4,447.9 L446.8,447.9 L447.2,447.9 L447.6,447.9 L448.0,447.9 L448.4,447.9 L448.8,447.9 L449.2,447.9 L449.6,447.9 L450.0,447.9 L450.4,447.9 L450.8,447.9 L451.2,447.9 L451.6,447.9 L452.0,447.9 L452.4,447.9 L452.8,447.9 L453.2,447.9 L453.6,447.9 L454.0,447.9 L454.4,447.9 L454.8,447.9 L455.2,447.9 L455.6,447.9 L456.0,447.9 L456.4,447.9 L456.8,447.9 L457.2,447.9 L457.6,447.9 L458.0,447.9 L458.4,447.9 L458.8,447.9 L459.2,447.9 L459.6,447.9 L460.0,447.9 L460.4,447.9 L460.8,447.9 L461.2,447.9 L461.6,447.9 L462.0,447.9 L462.4,447.9 L462.8,447.9 L463.2,447.9 L463.6,447.9 L464.0,447.9 L464.4,447.9 L464.8,447.9 L465.2,447.9 L465.6,447.9 L466.0,447.9 L466.4,447.9 L466.8,447.9 L467.2,447.9 L467.6,447.9 L468.0,447.9 L468.4,447.9 L468.8,447.9 L469.2,447.9 L469.6,447.9 L470.0,447.9 L470.4,447.9 L470.8,447.8 L471.2,447.8 L471.6,447.8 L472.0,447.7 L472.4,447.6 L472.8,447.5 L473.2,447.3 L473.6,447.1 L474.0,446.7 L474.4,446.3 L474.8,445.8 L475.2,445.1 L475.6,444.1 L476.0,443.0 L476.4,441.3 L476.8,439.6 L477.2,437.9 L477.6,435.6 L478.0,432.7 L478.4,429.6 L478.8,425.2 L479.2,421.2 L479.6,417.6 L480.0,413.0 L480.4,408.0 L480.8,403.2 L481.2,398.4 L481.6,394.0 L482.0,390.2 L482.4,386.8 L482.8,381.6 L483.2,379.3 L483.6,381.0 L484.0,380.9 L484.4,380.9 L484.8,381.9 L485.2,385.0 L485.6,388.4 L486.0,390.1 L486.4,394.2 L486.8,399.5 L487.2,404.1 L487.6,408.5 L488.0,412.9 L488.4,416.5 L488.8,420.9 L489.2,425.5 L489.6,428.9 L490.0,431.8 L490.4,434.7 L490.8,436.9 L491.2,439.1 L491.6,441.2 L492.0,442.7 L492.4,443.8 L492.8,444.8 L493.2,445.5 L493.6,446.1 L494.0,446.6 L494.4,446.9 L494.8,447.2 L495.2,447.4 L495.6,447.6 L496.0,447.7 L496.4,447.7 L496.8,447.8 L497.2,447.8 L497.6,447.9 L498.0,447.9 L498.4,447.9 L498.8,447.9 L499.2,447.9 L499.6,447.9 L500.0,447.9 L500.4,447.9 L500.8,447.9 L501.2,447.9 L501.6,447.9 L502.0,447.9 L502.4,447.9 L502.8,447.9 L503.2,447.9 L503.6,447.9 L504.0,447.9 L504.4,447.9 L504.8,447.9 L505.2,447.9 L505.6,447.9 L506.0,447.9 L506.4,447.9 L506.8,447.9 L507.2,447.9 L507.6,447.9 L508.0,447.9 L508.4,447.9 L508.8,447.9 L509.2,447.9 L509.6,447.9 L510.0,447.9 L510.4,447.9 L510.8,447.9 L511.2,447.9 L511.6,447.9 L511.6,448.4 Z" fill="#686868" stroke="#2e2e2e" stroke-width="0.8" stroke-linejoin="round"/>
<path d="M439.6,447.5 L440.0,447.5 L440.4,447.5 L440.8,447.5 L441.2,447.5 L441.6,447.5 L442.0,447.5 L442.4,447.5 L442.8,447.5 L443.2,447.5 L443.6,447.5 L444.0,447.5 L444.4,447.5 L444.8,447.5 L445.2,447.5 L445.6,447.5 L446.0,447.5 L446.4,447.5 L446.8,447.4 L447.2,447.4 L447.6,447.4 L448.0,447.3 L448.4,447.2 L448.8,447.1 L449.2,447.0 L449.6,446.7 L450.0,446.5 L450.4,446.1 L450.8,445.6 L451.2,444.9 L451.6,444.2 L452.0,443.1 L452.4,441.8 L452.8,440.2 L453.2,438.3 L453.6,435.9 L454.0,432.8 L454.4,429.4 L454.8,425.5 L455.2,420.9 L455.6,415.9 L456.0,410.6 L456.4,404.6 L456.8,398.6 L457.2,392.3 L457.6,386.9 L458.0,382.6 L458.4,379.6 L458.8,382.8 L459.2,388.7 L459.6,394.7 L460.0,401.1 L460.4,407.9 L460.8,413.6 L461.2,418.3 L461.6,422.9 L462.0,426.9 L462.4,430.4 L462.8,433.3 L463.2,435.9 L463.6,438.2 L464.0,439.9 L464.4,441.3 L464.8,442.6 L465.2,443.5 L465.6,444.3 L466.0,445.0 L466.4,445.5 L466.8,445.9 L467.2,446.3 L467.6,446.6 L468.0,446.8 L468.4,446.9 L468.8,447.0 L469.2,447.2 L469.6,447.2 L470.0,447.3 L470.4,447.3 L470.8,447.4 L471.2,447.4 L471.6,447.4 L472.0,447.4 L472.4,447.5 L472.8,447.5 L473.2,447.5 L473.6,447.5 L474.0,447.5 L474.4,447.5 L474.8,447.5 L475.2,447.5 L475.6,447.5 L476.0,447.5 L476.4,447.5 L476.8,447.5 L477.2,447.5 L477.6,447.5 L478.0,447.5 L478.4,447.5 L478.8,447.5 L479.2,447.5 L479.6,447.5 L480.0,447.5 L480.4,447.5 L480.8,447.5 L481.2,447.5 L481.6,447.5 L482.0,447.5 L482.4,447.5 L482.8,447.5 L483.2,447.5 L483.6,447.5 L484.0,447.5 L484.4,447.5 L484.8,447.5 L485.2,447.5 L485.6,447.5 L486.0,447.5 L486.4,447.5 L486.8,447.5 L487.2,447.5 L487.6,447.5 L488.0,447.5 L488.4,447.5 L488.8,447.5 L489.2,447.5 L489.6,447.5 L490.0,447.5 L490.4,447.5 L490.8,447.5 L491.2,447.5 L491.6,447.5 L492.0,447.5 L492.4,447.5 L492.8,447.5 L493.2,447.5 L493.6,447.5 L494.0,447.5 L494.4,447.5 L494.8,447.5 L495.2,447.5 L495.6,447.5 L496.0,447.5 L496.4,447.5 L496.8,447.5 L497.2,447.5 L497.6,447.5 L498.0,447.5 L498.4,447.5 L498.8,447.5 L499.2,447.5 L499.6,447.5 L500.0,447.5 L500.4,447.5 L500.8,447.5 L501.2,447.5 L501.6,447.5 L502.0,447.5 L502.4,447.5 L502.8,447.5 L503.2,447.5 L503.6,447.5 L504.0,447.5 L504.4,447.5 L504.8,447.5 L505.2,447.5 L505.6,447.5 L506.0,447.5 L506.4,447.5 L506.8,447.5 L507.2,447.5 L507.6,447.5 L508.0,447.5 L508.4,447.5 L508.8,447.5 L509.2,447.5 L509.6,447.5 L510.0,447.5 L510.4,447.5 L510.8,447.5 L511.2,447.5 L511.6,447.5" fill="none" stroke="#474747" stroke-width="0.75" stroke-linejoin="round"/>
</g>
<rect x="438.7" y="374.5" width="74.1" height="73.9" fill="none" stroke="#000" stroke-width="1.7"/>
<text x="0" y="0" font-size="13.6" font-weight="bold" font-style="italic" text-anchor="start" transform="translate(438.09999999999997 370.6) scale(1 0.98)" >938mel</text>
<rect x="429.5" y="377.50" width="3.4" height="1.4" fill="#6e6e6e"/>
<rect x="429.5" y="391.54" width="3.4" height="1.4" fill="#6e6e6e"/>
<rect x="429.5" y="405.58" width="3.4" height="1.4" fill="#6e6e6e"/>
<rect x="429.5" y="419.62" width="3.4" height="1.4" fill="#6e6e6e"/>
<rect x="429.5" y="433.66" width="3.4" height="1.4" fill="#6e6e6e"/>
<rect x="433.1" y="448.20" width="1.3" height="1.3" fill="#777"/>
<rect x="437.80" y="453.10" width="1.2" height="1.3" fill="#6a6a6a"/>
<rect x="456.15" y="453.10" width="2.2" height="1.3" fill="#6a6a6a"/>
<rect x="473.80" y="453.10" width="3.2" height="1.3" fill="#6a6a6a"/>
<rect x="491.45" y="453.10" width="4.2" height="1.3" fill="#6a6a6a"/>
<rect x="509.00" y="453.10" width="5.4" height="1.3" fill="#6a6a6a"/>
<clipPath id="cl10"><rect x="55.7" y="473.8" width="74.1" height="73.6"/></clipPath>
<g clip-path="url(#cl10)">
<path d="M56.6,547.4 L56.6,546.9 L57.0,546.9 L57.4,546.9 L57.8,546.9 L58.2,546.9 L58.6,546.9 L59.0,546.9 L59.4,546.9 L59.8,546.9 L60.2,546.9 L60.6,546.9 L61.0,546.9 L61.4,546.9 L61.8,546.9 L62.2,546.9 L62.6,546.9 L63.0,546.9 L63.4,546.9 L63.8,546.9 L64.2,546.9 L64.6,546.9 L65.0,546.9 L65.4,546.9 L65.8,546.9 L66.2,546.9 L66.6,546.9 L67.0,546.9 L67.4,546.9 L67.8,546.9 L68.2,546.9 L68.6,546.9 L69.0,546.9 L69.4,546.9 L69.8,546.9 L70.2,546.9 L70.6,546.9 L71.0,546.9 L71.4,546.9 L71.8,546.9 L72.2,546.9 L72.6,546.9 L73.0,546.9 L73.4,546.9 L73.8,546.9 L74.2,546.9 L74.6,546.9 L75.0,546.9 L75.4,546.9 L75.8,546.9 L76.2,546.9 L76.6,546.9 L77.0,546.9 L77.4,546.9 L77.8,546.9 L78.2,546.9 L78.6,546.9 L79.0,546.9 L79.4,546.9 L79.8,546.9 L80.2,546.9 L80.6,546.9 L81.0,546.9 L81.4,546.9 L81.8,546.9 L82.2,546.9 L82.6,546.9 L83.0,546.9 L83.4,546.9 L83.8,546.9 L84.2,546.9 L84.6,546.9 L85.0,546.9 L85.4,546.9 L85.8,546.9 L86.2,546.9 L86.6,546.9 L87.0,546.9 L87.4,546.9 L87.8,546.9 L88.2,546.9 L88.6,546.9 L89.0,546.9 L89.4,546.9 L89.8,546.9 L90.2,546.9 L90.6,546.8 L91.0,546.8 L91.4,546.8 L91.8,546.7 L92.2,546.6 L92.6,546.4 L93.0,546.2 L93.4,545.9 L93.8,545.4 L94.2,544.9 L94.6,544.1 L95.0,543.0 L95.4,541.6 L95.8,540.2 L96.2,538.3 L96.6,535.5 L97.0,532.6 L97.4,529.4 L97.8,525.6 L98.2,521.1 L98.6,516.3 L99.0,512.4 L99.4,507.7 L99.8,500.8 L100.2,495.9 L100.6,493.2 L101.0,489.3 L101.4,485.8 L101.8,483.2 L102.2,478.9 L102.6,478.0 L103.0,477.5 L103.4,478.5 L103.8,483.4 L104.2,486.4 L104.6,490.2 L105.0,494.8 L105.4,499.7 L105.8,504.3 L106.2,508.7 L106.6,513.2 L107.0,517.2 L107.4,521.2 L107.8,525.4 L108.2,528.8 L108.6,531.8 L109.0,534.4 L109.4,536.5 L109.8,538.4 L110.2,540.2 L110.6,541.6 L111.0,542.6 L111.4,543.6 L111.8,544.3 L112.2,544.9 L112.6,545.4 L113.0,545.8 L113.4,546.1 L113.8,546.3 L114.2,546.5 L114.6,546.6 L115.0,546.7 L115.4,546.7 L115.8,546.8 L116.2,546.8 L116.6,546.8 L117.0,546.9 L117.4,546.9 L117.8,546.9 L118.2,546.9 L118.6,546.9 L119.0,546.9 L119.4,546.9 L119.8,546.9 L120.2,546.9 L120.6,546.9 L121.0,546.9 L121.4,546.9 L121.8,546.9 L122.2,546.9 L122.6,546.9 L123.0,546.9 L123.4,546.9 L123.8,546.9 L124.2,546.9 L124.6,546.9 L125.0,546.9 L125.4,546.9 L125.8,546.9 L126.2,546.9 L126.6,546.9 L127.0,546.9 L127.4,546.9 L127.8,546.9 L128.2,546.9 L128.6,546.9 L128.6,547.4 Z" fill="#686868" stroke="#2e2e2e" stroke-width="0.8" stroke-linejoin="round"/>
<path d="M56.6,545.3 L57.0,545.2 L57.4,545.2 L57.8,545.1 L58.2,545.1 L58.6,545.0 L59.0,544.9 L59.4,544.9 L59.8,544.8 L60.2,544.7 L60.6,544.6 L61.0,544.5 L61.4,544.3 L61.8,544.1 L62.2,543.8 L62.6,543.5 L63.0,543.1 L63.4,542.6 L63.8,542.0 L64.2,541.2 L64.6,540.4 L65.0,539.3 L65.4,537.8 L65.8,536.3 L66.2,534.6 L66.6,532.5 L67.0,530.5 L67.4,527.9 L67.8,524.7 L68.2,521.5 L68.6,518.0 L69.0,514.2 L69.4,510.2 L69.8,505.7 L70.2,501.0 L70.6,496.7 L71.0,491.9 L71.4,487.6 L71.8,484.6 L72.2,481.3 L72.6,479.0 L73.0,479.1 L73.4,481.2 L73.8,484.9 L74.2,488.1 L74.6,492.6 L75.0,497.3 L75.4,501.9 L75.8,506.6 L76.2,511.0 L76.6,515.4 L77.0,519.1 L77.4,522.3 L77.8,525.5 L78.2,528.4 L78.6,530.9 L79.0,533.3 L79.4,535.3 L79.8,537.3 L80.2,538.8 L80.6,540.0 L81.0,541.1 L81.4,542.1 L81.8,542.9 L82.2,543.5 L82.6,544.0 L83.0,544.5 L83.4,544.9 L83.8,545.2 L84.2,545.5 L84.6,545.7 L85.0,545.8 L85.4,546.0 L85.8,546.1 L86.2,546.2 L86.6,546.2 L87.0,546.3 L87.4,546.3 L87.8,546.4 L88.2,546.4 L88.6,546.4 L89.0,546.4 L89.4,546.5 L89.8,546.5 L90.2,546.5 L90.6,546.5 L91.0,546.5 L91.4,546.5 L91.8,546.5 L92.2,546.5 L92.6,546.5 L93.0,546.5 L93.4,546.5 L93.8,546.5 L94.2,546.5 L94.6,546.5 L95.0,546.5 L95.4,546.5 L95.8,546.5 L96.2,546.5 L96.6,546.5 L97.0,546.5 L97.4,546.5 L97.8,546.5 L98.2,546.5 L98.6,546.5 L99.0,546.5 L99.4,546.5 L99.8,546.5 L100.2,546.5 L100.6,546.5 L101.0,546.5 L101.4,546.5 L101.8,546.5 L102.2,546.5 L102.6,546.5 L103.0,546.5 L103.4,546.5 L103.8,546.5 L104.2,546.5 L104.6,546.5 L105.0,546.5 L105.4,546.5 L105.8,546.5 L106.2,546.5 L106.6,546.5 L107.0,546.5 L107.4,546.5 L107.8,546.5 L108.2,546.5 L108.6,546.5 L109.0,546.5 L109.4,546.5 L109.8,546.5 L110.2,546.5 L110.6,546.5 L111.0,546.5 L111.4,546.5 L111.8,546.5 L112.2,546.5 L112.6,546.5 L113.0,546.5 L113.4,546.5 L113.8,546.5 L114.2,546.5 L114.6,546.5 L115.0,546.5 L115.4,546.5 L115.8,546.5 L116.2,546.5 L116.6,546.5 L117.0,546.5 L117.4,546.5 L117.8,546.5 L118.2,546.5 L118.6,546.5 L119.0,546.5 L119.4,546.5 L119.8,546.5 L120.2,546.5 L120.6,546.5 L121.0,546.5 L121.4,546.5 L121.8,546.5 L122.2,546.5 L122.6,546.5 L123.0,546.5 L123.4,546.5 L123.8,546.5 L124.2,546.5 L124.6,546.5 L125.0,546.5 L125.4,546.5 L125.8,546.5 L126.2,546.5 L126.6,546.5 L127.0,546.5 L127.4,546.5 L127.8,546.5 L128.2,546.5 L128.6,546.5" fill="none" stroke="#474747" stroke-width="0.75" stroke-linejoin="round"/>
</g>
<rect x="55.7" y="473.8" width="74.1" height="73.6" fill="none" stroke="#000" stroke-width="1.7"/>
<text x="0" y="0" font-size="13.6" font-weight="bold" font-style="italic" text-anchor="start" transform="translate(55.1 469.9) scale(1 0.98)" >1300mel</text>
<rect x="46.5" y="476.80" width="3.4" height="1.4" fill="#6e6e6e"/>
<rect x="46.5" y="490.78" width="3.4" height="1.4" fill="#6e6e6e"/>
<rect x="46.5" y="504.76" width="3.4" height="1.4" fill="#6e6e6e"/>
<rect x="46.5" y="518.74" width="3.4" height="1.4" fill="#6e6e6e"/>
<rect x="46.5" y="532.72" width="3.4" height="1.4" fill="#6e6e6e"/>
<rect x="50.1" y="547.20" width="1.3" height="1.3" fill="#777"/>
<rect x="54.80" y="552.10" width="1.2" height="1.3" fill="#6a6a6a"/>
<rect x="73.15" y="552.10" width="2.2" height="1.3" fill="#6a6a6a"/>
<rect x="90.80" y="552.10" width="3.2" height="1.3" fill="#6a6a6a"/>
<rect x="108.45" y="552.10" width="4.2" height="1.3" fill="#6a6a6a"/>
<rect x="126.00" y="552.10" width="5.4" height="1.3" fill="#6a6a6a"/>
<clipPath id="cl11"><rect x="151.3" y="473.8" width="74.1" height="73.6"/></clipPath>
<g clip-path="url(#cl11)">
<path d="M152.2,547.4 L152.2,546.9 L152.6,546.9 L153.0,546.9 L153.4,546.9 L153.8,546.9 L154.2,546.9 L154.6,546.9 L155.0,546.9 L155.4,546.9 L155.8,546.9 L156.2,546.9 L156.6,546.9 L157.0,546.9 L157.4,546.9 L157.8,546.9 L158.2,546.9 L158.6,546.9 L159.0,546.9 L159.4,546.9 L159.8,546.9 L160.2,546.9 L160.6,546.9 L161.0,546.9 L161.4,546.9 L161.8,546.9 L162.2,546.9 L162.6,546.9 L163.0,546.9 L163.4,546.9 L163.8,546.9 L164.2,546.9 L164.6,546.9 L165.0,546.9 L165.4,546.9 L165.8,546.9 L166.2,546.9 L166.6,546.9 L167.0,546.9 L167.4,546.8 L167.8,546.8 L168.2,546.8 L168.6,546.8 L169.0,546.7 L169.4,546.7 L169.8,546.6 L170.2,546.6 L170.6,546.5 L171.0,546.4 L171.4,546.3 L171.8,546.1 L172.2,545.9 L172.6,545.7 L173.0,545.5 L173.4,545.2 L173.8,544.7 L174.2,544.2 L174.6,543.7 L175.0,543.0 L175.4,542.1 L175.8,541.2 L176.2,540.4 L176.6,539.2 L177.0,537.8 L177.4,536.2 L177.8,534.7 L178.2,532.8 L178.6,530.6 L179.0,528.2 L179.4,526.0 L179.8,523.2 L180.2,520.8 L180.6,517.4 L181.0,512.6 L181.4,508.8 L181.8,505.0 L182.2,501.1 L182.6,497.9 L183.0,494.2 L183.4,491.0 L183.8,487.5 L184.2,486.7 L184.6,483.8 L185.0,482.0 L185.4,480.5 L185.8,480.2 L186.2,480.5 L186.6,482.9 L187.0,484.7 L187.4,483.1 L187.8,485.7 L188.2,489.8 L188.6,492.4 L189.0,493.7 L189.4,496.3 L189.8,500.8 L190.2,503.8 L190.6,504.9 L191.0,508.1 L191.4,511.1 L191.8,514.0 L192.2,518.7 L192.6,521.0 L193.0,523.1 L193.4,525.1 L193.8,526.3 L194.2,528.2 L194.6,530.7 L195.0,532.4 L195.4,533.4 L195.8,534.9 L196.2,536.7 L196.6,537.9 L197.0,539.2 L197.4,540.2 L197.8,540.7 L198.2,541.5 L198.6,542.1 L199.0,542.8 L199.4,543.4 L199.8,543.9 L200.2,544.4 L200.6,544.7 L201.0,545.0 L201.4,545.3 L201.8,545.5 L202.2,545.7 L202.6,545.9 L203.0,546.0 L203.4,546.2 L203.8,546.3 L204.2,546.4 L204.6,546.5 L205.0,546.6 L205.4,546.6 L205.8,546.7 L206.2,546.7 L206.6,546.7 L207.0,546.8 L207.4,546.8 L207.8,546.8 L208.2,546.8 L208.6,546.8 L209.0,546.9 L209.4,546.9 L209.8,546.9 L210.2,546.9 L210.6,546.9 L211.0,546.9 L211.4,546.9 L211.8,546.9 L212.2,546.9 L212.6,546.9 L213.0,546.9 L213.4,546.9 L213.8,546.9 L214.2,546.9 L214.6,546.9 L215.0,546.9 L215.4,546.9 L215.8,546.9 L216.2,546.9 L216.6,546.9 L217.0,546.9 L217.4,546.9 L217.8,546.9 L218.2,546.9 L218.6,546.9 L219.0,546.9 L219.4,546.9 L219.8,546.9 L220.2,546.9 L220.6,546.9 L221.0,546.9 L221.4,546.9 L221.8,546.9 L222.2,546.9 L222.6,546.9 L223.0,546.9 L223.4,546.9 L223.8,546.9 L224.2,546.9 L224.2,547.4 Z" fill="#686868" stroke="#2e2e2e" stroke-width="0.8" stroke-linejoin="round"/>
<path d="M152.2,544.7 L152.6,544.5 L153.0,544.4 L153.4,544.3 L153.8,544.2 L154.2,544.0 L154.6,543.9 L155.0,543.8 L155.4,543.6 L155.8,543.5 L156.2,543.3 L156.6,543.0 L157.0,542.8 L157.4,542.5 L157.8,542.1 L158.2,541.7 L158.6,541.1 L159.0,540.5 L159.4,539.8 L159.8,538.9 L160.2,537.8 L160.6,536.6 L161.0,535.3 L161.4,533.7 L161.8,531.9 L162.2,529.9 L162.6,527.7 L163.0,525.0 L163.4,522.3 L163.8,519.2 L164.2,515.4 L164.6,511.8 L165.0,507.6 L165.4,503.7 L165.8,500.2 L166.2,495.9 L166.6,490.8 L167.0,486.8 L167.4,483.9 L167.8,480.9 L168.2,477.8 L168.6,478.9 L169.0,483.4 L169.4,487.6 L169.8,491.7 L170.2,496.7 L170.6,501.9 L171.0,506.7 L171.4,510.8 L171.8,515.2 L172.2,519.4 L172.6,523.2 L173.0,526.9 L173.4,529.8 L173.8,532.4 L174.2,534.7 L174.6,536.5 L175.0,538.2 L175.4,539.7 L175.8,541.0 L176.2,542.0 L176.6,542.8 L177.0,543.5 L177.4,544.1 L177.8,544.6 L178.2,545.0 L178.6,545.3 L179.0,545.6 L179.4,545.8 L179.8,545.9 L180.2,546.0 L180.6,546.1 L181.0,546.2 L181.4,546.3 L181.8,546.3 L182.2,546.4 L182.6,546.4 L183.0,546.4 L183.4,546.4 L183.8,546.5 L184.2,546.5 L184.6,546.5 L185.0,546.5 L185.4,546.5 L185.8,546.5 L186.2,546.5 L186.6,546.5 L187.0,546.5 L187.4,546.5 L187.8,546.5 L188.2,546.5 L188.6,546.5 L189.0,546.5 L189.4,546.5 L189.8,546.5 L190.2,546.5 L190.6,546.5 L191.0,546.5 L191.4,546.5 L191.8,546.5 L192.2,546.5 L192.6,546.5 L193.0,546.5 L193.4,546.5 L193.8,546.5 L194.2,546.5 L194.6,546.5 L195.0,546.5 L195.4,546.5 L195.8,546.5 L196.2,546.5 L196.6,546.5 L197.0,546.5 L197.4,546.5 L197.8,546.5 L198.2,546.5 L198.6,546.5 L199.0,546.5 L199.4,546.5 L199.8,546.5 L200.2,546.5 L200.6,546.5 L201.0,546.5 L201.4,546.5 L201.8,546.5 L202.2,546.5 L202.6,546.5 L203.0,546.5 L203.4,546.5 L203.8,546.5 L204.2,546.5 L204.6,546.5 L205.0,546.5 L205.4,546.5 L205.8,546.5 L206.2,546.5 L206.6,546.5 L207.0,546.5 L207.4,546.5 L207.8,546.5 L208.2,546.5 L208.6,546.5 L209.0,546.5 L209.4,546.5 L209.8,546.5 L210.2,546.5 L210.6,546.5 L211.0,546.5 L211.4,546.5 L211.8,546.5 L212.2,546.5 L212.6,546.5 L213.0,546.5 L213.4,546.5 L213.8,546.5 L214.2,546.5 L214.6,546.5 L215.0,546.5 L215.4,546.5 L215.8,546.5 L216.2,546.5 L216.6,546.5 L217.0,546.5 L217.4,546.5 L217.8,546.5 L218.2,546.5 L218.6,546.5 L219.0,546.5 L219.4,546.5 L219.8,546.5 L220.2,546.5 L220.6,546.5 L221.0,546.5 L221.4,546.5 L221.8,546.5 L222.2,546.5 L222.6,546.5 L223.0,546.5 L223.4,546.5 L223.8,546.5 L224.2,546.5" fill="none" stroke="#474747" stroke-width="0.75" stroke-linejoin="round"/>
</g>
<rect x="151.3" y="473.8" width="74.1" height="73.6" fill="none" stroke="#000" stroke-width="1.7"/>
<text x="0" y="0" font-size="13.6" font-weight="bold" font-style="italic" text-anchor="start" transform="translate(150.70000000000002 469.9) scale(1 0.98)" >1363mel</text>
<rect x="142.1" y="476.80" width="3.4" height="1.4" fill="#6e6e6e"/>
<rect x="142.1" y="490.78" width="3.4" height="1.4" fill="#6e6e6e"/>
<rect x="142.1" y="504.76" width="3.4" height="1.4" fill="#6e6e6e"/>
<rect x="142.1" y="518.74" width="3.4" height="1.4" fill="#6e6e6e"/>
<rect x="142.1" y="532.72" width="3.4" height="1.4" fill="#6e6e6e"/>
<rect x="145.7" y="547.20" width="1.3" height="1.3" fill="#777"/>
<rect x="150.40" y="552.10" width="1.2" height="1.3" fill="#6a6a6a"/>
<rect x="168.75" y="552.10" width="2.2" height="1.3" fill="#6a6a6a"/>
<rect x="186.40" y="552.10" width="3.2" height="1.3" fill="#6a6a6a"/>
<rect x="204.05" y="552.10" width="4.2" height="1.3" fill="#6a6a6a"/>
<rect x="221.60" y="552.10" width="5.4" height="1.3" fill="#6a6a6a"/>
<clipPath id="cl12"><rect x="247.1" y="473.8" width="74.1" height="73.6"/></clipPath>
<g clip-path="url(#cl12)">
<path d="M248.0,547.4 L248.0,546.9 L248.4,546.9 L248.8,546.9 L249.2,546.9 L249.6,546.9 L250.0,546.9 L250.4,546.9 L250.8,546.9 L251.2,546.9 L251.6,546.9 L252.0,546.9 L252.4,546.9 L252.8,546.9 L253.2,546.9 L253.6,546.9 L254.0,546.9 L254.4,546.9 L254.8,546.9 L255.2,546.9 L255.6,546.9 L256.0,546.9 L256.4,546.9 L256.8,546.9 L257.2,546.9 L257.6,546.9 L258.0,546.9 L258.4,546.9 L258.8,546.9 L259.2,546.9 L259.6,546.9 L260.0,546.8 L260.4,546.8 L260.8,546.8 L261.2,546.7 L261.6,546.7 L262.0,546.6 L262.4,546.5 L262.8,546.4 L263.2,546.2 L263.6,546.0 L264.0,545.7 L264.4,545.4 L264.8,544.9 L265.2,544.4 L265.6,543.7 L266.0,542.9 L266.4,542.2 L266.8,541.2 L267.2,539.9 L267.6,538.5 L268.0,536.4 L268.4,534.4 L268.8,532.5 L269.2,530.1 L269.6,528.0 L270.0,525.1 L270.4,520.6 L270.8,517.3 L271.2,513.7 L271.6,510.0 L272.0,508.3 L272.4,504.6 L272.8,500.2 L273.2,496.8 L273.6,494.2 L274.0,491.1 L274.4,487.3 L274.8,485.0 L275.2,481.8 L275.6,480.1 L276.0,481.1 L276.4,480.3 L276.8,478.1 L277.2,479.3 L277.6,483.6 L278.0,485.5 L278.4,487.5 L278.8,490.1 L279.2,491.2 L279.6,494.5 L280.0,499.0 L280.4,502.2 L280.8,505.6 L281.2,508.9 L281.6,511.8 L282.0,515.1 L282.4,518.5 L282.8,521.2 L283.2,524.1 L283.6,526.6 L284.0,529.2 L284.4,531.4 L284.8,532.7 L285.2,534.5 L285.6,535.9 L286.0,537.5 L286.4,538.7 L286.8,539.9 L287.2,541.1 L287.6,541.9 L288.0,542.8 L288.4,543.4 L288.8,544.0 L289.2,544.5 L289.6,544.8 L290.0,545.2 L290.4,545.5 L290.8,545.7 L291.2,546.0 L291.6,546.2 L292.0,546.3 L292.4,546.4 L292.8,546.5 L293.2,546.6 L293.6,546.6 L294.0,546.7 L294.4,546.7 L294.8,546.8 L295.2,546.8 L295.6,546.8 L296.0,546.8 L296.4,546.9 L296.8,546.9 L297.2,546.9 L297.6,546.9 L298.0,546.9 L298.4,546.9 L298.8,546.9 L299.2,546.9 L299.6,546.9 L300.0,546.9 L300.4,546.9 L300.8,546.9 L301.2,546.9 L301.6,546.9 L302.0,546.9 L302.4,546.9 L302.8,546.9 L303.2,546.9 L303.6,546.9 L304.0,546.9 L304.4,546.9 L304.8,546.9 L305.2,546.9 L305.6,546.9 L306.0,546.9 L306.4,546.9 L306.8,546.9 L307.2,546.9 L307.6,546.9 L308.0,546.9 L308.4,546.9 L308.8,546.9 L309.2,546.9 L309.6,546.9 L310.0,546.9 L310.4,546.9 L310.8,546.9 L311.2,546.9 L311.6,546.9 L312.0,546.9 L312.4,546.9 L312.8,546.9 L313.2,546.9 L313.6,546.9 L314.0,546.9 L314.4,546.9 L314.8,546.9 L315.2,546.9 L315.6,546.9 L316.0,546.9 L316.4,546.9 L316.8,546.9 L317.2,546.9 L317.6,546.9 L318.0,546.9 L318.4,546.9 L318.8,546.9 L319.2,546.9 L319.6,546.9 L320.0,546.9 L320.0,547.4 Z" fill="#686868" stroke="#2e2e2e" stroke-width="0.8" stroke-linejoin="round"/>
<path d="M248.0,544.3 L248.4,544.2 L248.8,544.0 L249.2,543.7 L249.6,543.5 L250.0,543.2 L250.4,543.0 L250.8,542.6 L251.2,542.3 L251.6,541.8 L252.0,541.4 L252.4,540.9 L252.8,540.4 L253.2,539.7 L253.6,538.9 L254.0,538.0 L254.4,536.9 L254.8,535.8 L255.2,534.5 L255.6,533.0 L256.0,531.1 L256.4,529.2 L256.8,527.3 L257.2,525.0 L257.6,522.7 L258.0,520.1 L258.4,517.4 L258.8,514.3 L259.2,511.3 L259.6,508.0 L260.0,504.1 L260.4,500.5 L260.8,496.5 L261.2,492.9 L261.6,490.7 L262.0,487.6 L262.4,484.2 L262.8,481.6 L263.2,479.7 L263.6,478.4 L264.0,478.1 L264.4,479.2 L264.8,482.0 L265.2,484.4 L265.6,487.5 L266.0,490.9 L266.4,493.5 L266.8,497.2 L267.2,501.9 L267.6,505.7 L268.0,509.3 L268.4,513.1 L268.8,516.6 L269.2,520.1 L269.6,523.7 L270.0,526.7 L270.4,529.3 L270.8,531.8 L271.2,534.0 L271.6,536.1 L272.0,538.0 L272.4,539.4 L272.8,540.7 L273.2,541.7 L273.6,542.6 L274.0,543.4 L274.4,544.0 L274.8,544.5 L275.2,545.0 L275.6,545.3 L276.0,545.5 L276.4,545.8 L276.8,545.9 L277.2,546.1 L277.6,546.2 L278.0,546.3 L278.4,546.3 L278.8,546.4 L279.2,546.4 L279.6,546.4 L280.0,546.4 L280.4,546.5 L280.8,546.5 L281.2,546.5 L281.6,546.5 L282.0,546.5 L282.4,546.5 L282.8,546.5 L283.2,546.5 L283.6,546.5 L284.0,546.5 L284.4,546.5 L284.8,546.5 L285.2,546.5 L285.6,546.5 L286.0,546.5 L286.4,546.5 L286.8,546.5 L287.2,546.5 L287.6,546.5 L288.0,546.5 L288.4,546.5 L288.8,546.5 L289.2,546.5 L289.6,546.5 L290.0,546.5 L290.4,546.5 L290.8,546.5 L291.2,546.5 L291.6,546.5 L292.0,546.5 L292.4,546.5 L292.8,546.5 L293.2,546.5 L293.6,546.5 L294.0,546.5 L294.4,546.5 L294.8,546.5 L295.2,546.5 L295.6,546.5 L296.0,546.5 L296.4,546.5 L296.8,546.5 L297.2,546.5 L297.6,546.5 L298.0,546.5 L298.4,546.5 L298.8,546.5 L299.2,546.5 L299.6,546.5 L300.0,546.5 L300.4,546.5 L300.8,546.5 L301.2,546.5 L301.6,546.5 L302.0,546.5 L302.4,546.5 L302.8,546.5 L303.2,546.5 L303.6,546.5 L304.0,546.5 L304.4,546.5 L304.8,546.5 L305.2,546.5 L305.6,546.5 L306.0,546.5 L306.4,546.5 L306.8,546.5 L307.2,546.5 L307.6,546.5 L308.0,546.5 L308.4,546.5 L308.8,546.5 L309.2,546.5 L309.6,546.5 L310.0,546.5 L310.4,546.5 L310.8,546.5 L311.2,546.5 L311.6,546.5 L312.0,546.5 L312.4,546.5 L312.8,546.5 L313.2,546.5 L313.6,546.5 L314.0,546.5 L314.4,546.5 L314.8,546.5 L315.2,546.5 L315.6,546.5 L316.0,546.5 L316.4,546.5 L316.8,546.5 L317.2,546.5 L317.6,546.5 L318.0,546.5 L318.4,546.5 L318.8,546.5 L319.2,546.5 L319.6,546.5 L320.0,546.5" fill="none" stroke="#474747" stroke-width="0.75" stroke-linejoin="round"/>
</g>
<rect x="247.1" y="473.8" width="74.1" height="73.6" fill="none" stroke="#000" stroke-width="1.7"/>
<text x="0" y="0" font-size="13.6" font-weight="bold" font-style="italic" text-anchor="start" transform="translate(246.5 469.9) scale(1 0.98)" >1479mel</text>
<rect x="237.9" y="476.80" width="3.4" height="1.4" fill="#6e6e6e"/>
<rect x="237.9" y="490.78" width="3.4" height="1.4" fill="#6e6e6e"/>
<rect x="237.9" y="504.76" width="3.4" height="1.4" fill="#6e6e6e"/>
<rect x="237.9" y="518.74" width="3.4" height="1.4" fill="#6e6e6e"/>
<rect x="237.9" y="532.72" width="3.4" height="1.4" fill="#6e6e6e"/>
<rect x="241.5" y="547.20" width="1.3" height="1.3" fill="#777"/>
<rect x="246.20" y="552.10" width="1.2" height="1.3" fill="#6a6a6a"/>
<rect x="264.55" y="552.10" width="2.2" height="1.3" fill="#6a6a6a"/>
<rect x="282.20" y="552.10" width="3.2" height="1.3" fill="#6a6a6a"/>
<rect x="299.85" y="552.10" width="4.2" height="1.3" fill="#6a6a6a"/>
<rect x="317.40" y="552.10" width="5.4" height="1.3" fill="#6a6a6a"/>
<clipPath id="cl13"><rect x="343.0" y="473.8" width="74.1" height="73.6"/></clipPath>
<g clip-path="url(#cl13)">
<path d="M343.9,547.4 L343.9,546.9 L344.3,546.9 L344.7,546.9 L345.1,546.9 L345.5,546.9 L345.9,546.9 L346.3,546.9 L346.7,546.9 L347.1,546.9 L347.5,546.9 L347.9,546.9 L348.3,546.9 L348.7,546.9 L349.1,546.9 L349.5,546.9 L349.9,546.9 L350.3,546.9 L350.7,546.9 L351.1,546.9 L351.5,546.9 L351.9,546.9 L352.3,546.9 L352.7,546.9 L353.1,546.8 L353.5,546.8 L353.9,546.8 L354.3,546.7 L354.7,546.7 L355.1,546.6 L355.5,546.6 L355.9,546.5 L356.3,546.4 L356.7,546.3 L357.1,546.1 L357.5,545.9 L357.9,545.6 L358.3,545.4 L358.7,545.0 L359.1,544.4 L359.5,543.9 L359.9,543.3 L360.3,542.6 L360.7,541.9 L361.1,540.9 L361.5,539.9 L361.9,538.6 L362.3,537.4 L362.7,536.1 L363.1,534.1 L363.5,532.4 L363.9,530.6 L364.3,528.5 L364.7,527.6 L365.1,525.3 L365.5,521.3 L365.9,518.8 L366.3,516.9 L366.7,514.5 L367.1,510.3 L367.5,507.8 L367.9,505.6 L368.3,502.7 L368.7,500.9 L369.1,498.1 L369.5,495.7 L369.9,493.2 L370.3,490.1 L370.7,487.8 L371.1,487.6 L371.5,485.4 L371.9,485.7 L372.3,483.8 L372.7,478.3 L373.1,477.5 L373.5,477.5 L373.9,477.5 L374.3,477.5 L374.7,477.5 L375.1,477.8 L375.5,479.3 L375.9,480.9 L376.3,482.0 L376.7,481.9 L377.1,482.8 L377.5,489.0 L377.9,490.1 L378.3,488.3 L378.7,489.9 L379.1,493.5 L379.5,495.0 L379.9,498.8 L380.3,500.6 L380.7,502.4 L381.1,504.2 L381.5,504.6 L381.9,507.2 L382.3,510.3 L382.7,511.9 L383.1,512.9 L383.5,514.9 L383.9,516.4 L384.3,517.9 L384.7,520.6 L385.1,522.3 L385.5,524.6 L385.9,526.1 L386.3,526.5 L386.7,528.1 L387.1,529.8 L387.5,531.0 L387.9,532.2 L388.3,533.4 L388.7,534.6 L389.1,535.5 L389.5,536.2 L389.9,537.2 L390.3,538.4 L390.7,539.0 L391.1,539.3 L391.5,540.0 L391.9,540.4 L392.3,541.0 L392.7,541.9 L393.1,542.4 L393.5,542.7 L393.9,543.1 L394.3,543.4 L394.7,543.8 L395.1,544.4 L395.5,544.6 L395.9,544.9 L396.3,545.1 L396.7,545.2 L397.1,545.4 L397.5,545.5 L397.9,545.7 L398.3,545.9 L398.7,546.0 L399.1,546.1 L399.5,546.2 L399.9,546.3 L400.3,546.4 L400.7,546.4 L401.1,546.5 L401.5,546.5 L401.9,546.6 L402.3,546.6 L402.7,546.7 L403.1,546.7 L403.5,546.7 L403.9,546.7 L404.3,546.8 L404.7,546.8 L405.1,546.8 L405.5,546.8 L405.9,546.8 L406.3,546.8 L406.7,546.9 L407.1,546.9 L407.5,546.9 L407.9,546.9 L408.3,546.9 L408.7,546.9 L409.1,546.9 L409.5,546.9 L409.9,546.9 L410.3,546.9 L410.7,546.9 L411.1,546.9 L411.5,546.9 L411.9,546.9 L412.3,546.9 L412.7,546.9 L413.1,546.9 L413.5,546.9 L413.9,546.9 L414.3,546.9 L414.7,546.9 L415.1,546.9 L415.5,546.9 L415.9,546.9 L415.9,547.4 Z" fill="#686868" stroke="#2e2e2e" stroke-width="0.8" stroke-linejoin="round"/>
<path d="M343.9,544.6 L344.3,544.4 L344.7,544.2 L345.1,544.1 L345.5,543.9 L345.9,543.7 L346.3,543.6 L346.7,543.4 L347.1,543.1 L347.5,542.8 L347.9,542.5 L348.3,542.2 L348.7,541.6 L349.1,541.2 L349.5,540.6 L349.9,539.9 L350.3,539.3 L350.7,538.4 L351.1,537.3 L351.5,536.2 L351.9,534.9 L352.3,533.4 L352.7,531.9 L353.1,530.0 L353.5,527.9 L353.9,525.6 L354.3,523.2 L354.7,520.5 L355.1,517.5 L355.5,514.4 L355.9,510.6 L356.3,507.1 L356.7,503.9 L357.1,500.2 L357.5,497.4 L357.9,494.0 L358.3,490.1 L358.7,486.7 L359.1,482.6 L359.5,480.1 L359.9,478.6 L360.3,477.8 L360.7,479.5 L361.1,482.0 L361.5,485.3 L361.9,488.8 L362.3,492.6 L362.7,496.7 L363.1,501.5 L363.5,505.4 L363.9,508.7 L364.3,512.5 L364.7,516.1 L365.1,519.2 L365.5,522.3 L365.9,525.1 L366.3,527.3 L366.7,529.7 L367.1,532.1 L367.5,533.9 L367.9,535.5 L368.3,537.0 L368.7,538.2 L369.1,539.4 L369.5,540.3 L369.9,541.3 L370.3,542.1 L370.7,542.8 L371.1,543.3 L371.5,543.8 L371.9,544.3 L372.3,544.6 L372.7,545.0 L373.1,545.2 L373.5,545.4 L373.9,545.6 L374.3,545.8 L374.7,545.9 L375.1,546.0 L375.5,546.1 L375.9,546.2 L376.3,546.2 L376.7,546.3 L377.1,546.3 L377.5,546.4 L377.9,546.4 L378.3,546.4 L378.7,546.4 L379.1,546.4 L379.5,546.5 L379.9,546.5 L380.3,546.5 L380.7,546.5 L381.1,546.5 L381.5,546.5 L381.9,546.5 L382.3,546.5 L382.7,546.5 L383.1,546.5 L383.5,546.5 L383.9,546.5 L384.3,546.5 L384.7,546.5 L385.1,546.5 L385.5,546.5 L385.9,546.5 L386.3,546.5 L386.7,546.5 L387.1,546.5 L387.5,546.5 L387.9,546.5 L388.3,546.5 L388.7,546.5 L389.1,546.5 L389.5,546.5 L389.9,546.5 L390.3,546.5 L390.7,546.5 L391.1,546.5 L391.5,546.5 L391.9,546.5 L392.3,546.5 L392.7,546.5 L393.1,546.5 L393.5,546.5 L393.9,546.5 L394.3,546.5 L394.7,546.5 L395.1,546.5 L395.5,546.5 L395.9,546.5 L396.3,546.5 L396.7,546.5 L397.1,546.5 L397.5,546.5 L397.9,546.5 L398.3,546.5 L398.7,546.5 L399.1,546.5 L399.5,546.5 L399.9,546.5 L400.3,546.5 L400.7,546.5 L401.1,546.5 L401.5,546.5 L401.9,546.5 L402.3,546.5 L402.7,546.5 L403.1,546.5 L403.5,546.5 L403.9,546.5 L404.3,546.5 L404.7,546.5 L405.1,546.5 L405.5,546.5 L405.9,546.5 L406.3,546.5 L406.7,546.5 L407.1,546.5 L407.5,546.5 L407.9,546.5 L408.3,546.5 L408.7,546.5 L409.1,546.5 L409.5,546.5 L409.9,546.5 L410.3,546.5 L410.7,546.5 L411.1,546.5 L411.5,546.5 L411.9,546.5 L412.3,546.5 L412.7,546.5 L413.1,546.5 L413.5,546.5 L413.9,546.5 L414.3,546.5 L414.7,546.5 L415.1,546.5 L415.5,546.5 L415.9,546.5" fill="none" stroke="#474747" stroke-width="0.75" stroke-linejoin="round"/>
</g>
<rect x="343.0" y="473.8" width="74.1" height="73.6" fill="none" stroke="#000" stroke-width="1.7"/>
<text x="0" y="0" font-size="13.6" font-weight="bold" font-style="italic" text-anchor="start" transform="translate(342.4 469.9) scale(1 0.98)" >1987mel</text>
<rect x="333.8" y="476.80" width="3.4" height="1.4" fill="#6e6e6e"/>
<rect x="333.8" y="490.78" width="3.4" height="1.4" fill="#6e6e6e"/>
<rect x="333.8" y="504.76" width="3.4" height="1.4" fill="#6e6e6e"/>
<rect x="333.8" y="518.74" width="3.4" height="1.4" fill="#6e6e6e"/>
<rect x="333.8" y="532.72" width="3.4" height="1.4" fill="#6e6e6e"/>
<rect x="337.4" y="547.20" width="1.3" height="1.3" fill="#777"/>
<rect x="342.10" y="552.10" width="1.2" height="1.3" fill="#6a6a6a"/>
<rect x="360.45" y="552.10" width="2.2" height="1.3" fill="#6a6a6a"/>
<rect x="378.10" y="552.10" width="3.2" height="1.3" fill="#6a6a6a"/>
<rect x="395.75" y="552.10" width="4.2" height="1.3" fill="#6a6a6a"/>
<rect x="413.30" y="552.10" width="5.4" height="1.3" fill="#6a6a6a"/>
<clipPath id="cl14"><rect x="438.7" y="473.8" width="74.1" height="73.6"/></clipPath>
<g clip-path="url(#cl14)">
<path d="M439.6,547.4 L439.6,546.9 L440.0,546.9 L440.4,546.9 L440.8,546.9 L441.2,546.9 L441.6,546.9 L442.0,546.9 L442.4,546.9 L442.8,546.9 L443.2,546.9 L443.6,546.9 L444.0,546.9 L444.4,546.9 L444.8,546.9 L445.2,546.9 L445.6,546.9 L446.0,546.9 L446.4,546.9 L446.8,546.9 L447.2,546.9 L447.6,546.9 L448.0,546.9 L448.4,546.9 L448.8,546.9 L449.2,546.9 L449.6,546.9 L450.0,546.9 L450.4,546.9 L450.8,546.9 L451.2,546.9 L451.6,546.9 L452.0,546.9 L452.4,546.9 L452.8,546.9 L453.2,546.9 L453.6,546.9 L454.0,546.9 L454.4,546.9 L454.8,546.9 L455.2,546.9 L455.6,546.9 L456.0,546.9 L456.4,546.9 L456.8,546.9 L457.2,546.9 L457.6,546.9 L458.0,546.9 L458.4,546.9 L458.8,546.9 L459.2,546.9 L459.6,546.9 L460.0,546.9 L460.4,546.9 L460.8,546.9 L461.2,546.9 L461.6,546.8 L462.0,546.8 L462.4,546.7 L462.8,546.6 L463.2,546.5 L463.6,546.3 L464.0,546.0 L464.4,545.6 L464.8,545.0 L465.2,544.3 L465.6,543.3 L466.0,542.0 L466.4,540.4 L466.8,538.5 L467.2,536.1 L467.6,533.8 L468.0,530.5 L468.4,526.3 L468.8,522.1 L469.2,517.4 L469.6,512.8 L470.0,508.5 L470.4,503.7 L470.8,499.2 L471.2,494.5 L471.6,487.5 L472.0,484.1 L472.4,482.3 L472.8,480.0 L473.2,480.4 L473.6,480.2 L474.0,480.2 L474.4,481.6 L474.8,485.4 L475.2,488.2 L475.6,489.7 L476.0,493.9 L476.4,498.4 L476.8,502.8 L477.2,507.6 L477.6,511.6 L478.0,514.1 L478.4,518.0 L478.8,522.7 L479.2,525.9 L479.6,528.6 L480.0,531.2 L480.4,533.9 L480.8,535.9 L481.2,537.2 L481.6,538.9 L482.0,540.6 L482.4,541.7 L482.8,542.6 L483.2,543.4 L483.6,544.2 L484.0,544.8 L484.4,545.2 L484.8,545.6 L485.2,545.8 L485.6,546.1 L486.0,546.3 L486.4,546.4 L486.8,546.5 L487.2,546.6 L487.6,546.7 L488.0,546.8 L488.4,546.8 L488.8,546.8 L489.2,546.8 L489.6,546.9 L490.0,546.9 L490.4,546.9 L490.8,546.9 L491.2,546.9 L491.6,546.9 L492.0,546.9 L492.4,546.9 L492.8,546.9 L493.2,546.9 L493.6,546.9 L494.0,546.9 L494.4,546.9 L494.8,546.9 L495.2,546.9 L495.6,546.9 L496.0,546.9 L496.4,546.9 L496.8,546.9 L497.2,546.9 L497.6,546.9 L498.0,546.9 L498.4,546.9 L498.8,546.9 L499.2,546.9 L499.6,546.9 L500.0,546.9 L500.4,546.9 L500.8,546.9 L501.2,546.9 L501.6,546.9 L502.0,546.9 L502.4,546.9 L502.8,546.9 L503.2,546.9 L503.6,546.9 L504.0,546.9 L504.4,546.9 L504.8,546.9 L505.2,546.9 L505.6,546.9 L506.0,546.9 L506.4,546.9 L506.8,546.9 L507.2,546.9 L507.6,546.9 L508.0,546.9 L508.4,546.9 L508.8,546.9 L509.2,546.9 L509.6,546.9 L510.0,546.9 L510.4,546.9 L510.8,546.9 L511.2,546.9 L511.6,546.9 L511.6,547.4 Z" fill="#686868" stroke="#2e2e2e" stroke-width="0.8" stroke-linejoin="round"/>
<path d="M439.6,543.8 L440.0,543.5 L440.4,543.1 L440.8,542.7 L441.2,542.2 L441.6,541.7 L442.0,541.2 L442.4,540.5 L442.8,539.7 L443.2,538.9 L443.6,538.2 L444.0,537.2 L444.4,535.9 L444.8,534.6 L445.2,533.4 L445.6,531.9 L446.0,530.5 L446.4,528.7 L446.8,526.9 L447.2,524.9 L447.6,522.1 L448.0,519.6 L448.4,517.1 L448.8,514.3 L449.2,511.9 L449.6,508.9 L450.0,506.1 L450.4,503.0 L450.8,498.6 L451.2,495.4 L451.6,492.1 L452.0,489.1 L452.4,487.0 L452.8,484.1 L453.2,482.4 L453.6,480.4 L454.0,477.9 L454.4,477.9 L454.8,478.9 L455.2,481.2 L455.6,485.2 L456.0,488.1 L456.4,491.3 L456.8,494.8 L457.2,497.7 L457.6,501.4 L458.0,505.2 L458.4,508.6 L458.8,512.0 L459.2,515.2 L459.6,518.5 L460.0,521.5 L460.4,524.4 L460.8,526.9 L461.2,528.8 L461.6,530.9 L462.0,532.9 L462.4,534.6 L462.8,536.1 L463.2,537.5 L463.6,538.9 L464.0,539.9 L464.4,540.9 L464.8,541.7 L465.2,542.4 L465.6,543.0 L466.0,543.6 L466.4,544.0 L466.8,544.5 L467.2,544.8 L467.6,545.1 L468.0,545.3 L468.4,545.5 L468.8,545.7 L469.2,545.8 L469.6,546.0 L470.0,546.1 L470.4,546.1 L470.8,546.2 L471.2,546.3 L471.6,546.3 L472.0,546.3 L472.4,546.4 L472.8,546.4 L473.2,546.4 L473.6,546.4 L474.0,546.5 L474.4,546.5 L474.8,546.5 L475.2,546.5 L475.6,546.5 L476.0,546.5 L476.4,546.5 L476.8,546.5 L477.2,546.5 L477.6,546.5 L478.0,546.5 L478.4,546.5 L478.8,546.5 L479.2,546.5 L479.6,546.5 L480.0,546.5 L480.4,546.5 L480.8,546.5 L481.2,546.5 L481.6,546.5 L482.0,546.5 L482.4,546.5 L482.8,546.5 L483.2,546.5 L483.6,546.5 L484.0,546.5 L484.4,546.5 L484.8,546.5 L485.2,546.5 L485.6,546.5 L486.0,546.5 L486.4,546.5 L486.8,546.5 L487.2,546.5 L487.6,546.5 L488.0,546.5 L488.4,546.5 L488.8,546.5 L489.2,546.5 L489.6,546.5 L490.0,546.5 L490.4,546.5 L490.8,546.5 L491.2,546.5 L491.6,546.5 L492.0,546.5 L492.4,546.5 L492.8,546.5 L493.2,546.5 L493.6,546.5 L494.0,546.5 L494.4,546.5 L494.8,546.5 L495.2,546.5 L495.6,546.5 L496.0,546.5 L496.4,546.5 L496.8,546.5 L497.2,546.5 L497.6,546.5 L498.0,546.5 L498.4,546.5 L498.8,546.5 L499.2,546.5 L499.6,546.5 L500.0,546.5 L500.4,546.5 L500.8,546.5 L501.2,546.5 L501.6,546.5 L502.0,546.5 L502.4,546.5 L502.8,546.5 L503.2,546.5 L503.6,546.5 L504.0,546.5 L504.4,546.5 L504.8,546.5 L505.2,546.5 L505.6,546.5 L506.0,546.5 L506.4,546.5 L506.8,546.5 L507.2,546.5 L507.6,546.5 L508.0,546.5 L508.4,546.5 L508.8,546.5 L509.2,546.5 L509.6,546.5 L510.0,546.5 L510.4,546.5 L510.8,546.5 L511.2,546.5 L511.6,546.5" fill="none" stroke="#474747" stroke-width="0.75" stroke-linejoin="round"/>
</g>
<rect x="438.7" y="473.8" width="74.1" height="73.6" fill="none" stroke="#000" stroke-width="1.7"/>
<text x="0" y="0" font-size="13.6" font-weight="bold" font-style="italic" text-anchor="start" transform="translate(438.09999999999997 469.9) scale(1 0.98)" >1988mel</text>
<rect x="429.5" y="476.80" width="3.4" height="1.4" fill="#6e6e6e"/>
<rect x="429.5" y="490.78" width="3.4" height="1.4" fill="#6e6e6e"/>
<rect x="429.5" y="504.76" width="3.4" height="1.4" fill="#6e6e6e"/>
<rect x="429.5" y="518.74" width="3.4" height="1.4" fill="#6e6e6e"/>
<rect x="429.5" y="532.72" width="3.4" height="1.4" fill="#6e6e6e"/>
<rect x="433.1" y="547.20" width="1.3" height="1.3" fill="#777"/>
<rect x="437.80" y="552.10" width="1.2" height="1.3" fill="#6a6a6a"/>
<rect x="456.15" y="552.10" width="2.2" height="1.3" fill="#6a6a6a"/>
<rect x="473.80" y="552.10" width="3.2" height="1.3" fill="#6a6a6a"/>
<rect x="491.45" y="552.10" width="4.2" height="1.3" fill="#6a6a6a"/>
<rect x="509.00" y="552.10" width="5.4" height="1.3" fill="#6a6a6a"/>
<clipPath id="cl20"><rect x="55.7" y="572.2" width="74.1" height="74.2"/></clipPath>
<g clip-path="url(#cl20)">
<path d="M56.6,646.4 L56.6,645.9 L57.0,645.9 L57.4,645.9 L57.8,645.9 L58.2,645.9 L58.6,645.9 L59.0,645.9 L59.4,645.9 L59.8,645.9 L60.2,645.9 L60.6,645.9 L61.0,645.9 L61.4,645.9 L61.8,645.9 L62.2,645.9 L62.6,645.9 L63.0,645.9 L63.4,645.9 L63.8,645.9 L64.2,645.9 L64.6,645.9 L65.0,645.9 L65.4,645.9 L65.8,645.9 L66.2,645.9 L66.6,645.9 L67.0,645.9 L67.4,645.9 L67.8,645.9 L68.2,645.9 L68.6,645.9 L69.0,645.9 L69.4,645.9 L69.8,645.9 L70.2,645.9 L70.6,645.9 L71.0,645.9 L71.4,645.9 L71.8,645.9 L72.2,645.9 L72.6,645.9 L73.0,645.9 L73.4,645.9 L73.8,645.9 L74.2,645.9 L74.6,645.8 L75.0,645.8 L75.4,645.8 L75.8,645.7 L76.2,645.7 L76.6,645.6 L77.0,645.4 L77.4,645.3 L77.8,645.0 L78.2,644.7 L78.6,644.3 L79.0,643.8 L79.4,643.2 L79.8,642.3 L80.2,641.3 L80.6,640.2 L81.0,638.7 L81.4,636.8 L81.8,634.8 L82.2,632.7 L82.6,630.2 L83.0,627.2 L83.4,624.0 L83.8,620.4 L84.2,616.7 L84.6,611.3 L85.0,606.9 L85.4,602.0 L85.8,597.6 L86.2,594.9 L86.6,591.3 L87.0,587.6 L87.4,584.4 L87.8,582.7 L88.2,580.5 L88.6,577.3 L89.0,576.6 L89.4,578.7 L89.8,579.8 L90.2,581.8 L90.6,583.5 L91.0,584.0 L91.4,586.7 L91.8,589.8 L92.2,593.0 L92.6,596.7 L93.0,600.4 L93.4,604.5 L93.8,608.0 L94.2,610.5 L94.6,613.8 L95.0,617.4 L95.4,620.4 L95.8,623.6 L96.2,626.3 L96.6,629.0 L97.0,631.3 L97.4,632.8 L97.8,634.7 L98.2,636.4 L98.6,637.9 L99.0,639.3 L99.4,640.4 L99.8,641.3 L100.2,642.1 L100.6,642.9 L101.0,643.5 L101.4,644.0 L101.8,644.3 L102.2,644.7 L102.6,644.9 L103.0,645.1 L103.4,645.3 L103.8,645.4 L104.2,645.5 L104.6,645.6 L105.0,645.7 L105.4,645.7 L105.8,645.8 L106.2,645.8 L106.6,645.8 L107.0,645.9 L107.4,645.9 L107.8,645.9 L108.2,645.9 L108.6,645.9 L109.0,645.9 L109.4,645.9 L109.8,645.9 L110.2,645.9 L110.6,645.9 L111.0,645.9 L111.4,645.9 L111.8,645.9 L112.2,645.9 L112.6,645.9 L113.0,645.9 L113.4,645.9 L113.8,645.9 L114.2,645.9 L114.6,645.9 L115.0,645.9 L115.4,645.9 L115.8,645.9 L116.2,645.9 L116.6,645.9 L117.0,645.9 L117.4,645.9 L117.8,645.9 L118.2,645.9 L118.6,645.9 L119.0,645.9 L119.4,645.9 L119.8,645.9 L120.2,645.9 L120.6,645.9 L121.0,645.9 L121.4,645.9 L121.8,645.9 L122.2,645.9 L122.6,645.9 L123.0,645.9 L123.4,645.9 L123.8,645.9 L124.2,645.9 L124.6,645.9 L125.0,645.9 L125.4,645.9 L125.8,645.9 L126.2,645.9 L126.6,645.9 L127.0,645.9 L127.4,645.9 L127.8,645.9 L128.2,645.9 L128.6,645.9 L128.6,646.4 Z" fill="#686868" stroke="#2e2e2e" stroke-width="0.8" stroke-linejoin="round"/>
<path d="M56.6,642.9 L57.0,642.6 L57.4,642.4 L57.8,642.1 L58.2,641.8 L58.6,641.5 L59.0,641.3 L59.4,641.0 L59.8,640.8 L60.2,640.5 L60.6,640.1 L61.0,639.7 L61.4,639.4 L61.8,638.8 L62.2,637.9 L62.6,637.1 L63.0,636.2 L63.4,635.0 L63.8,633.6 L64.2,632.0 L64.6,630.1 L65.0,628.1 L65.4,625.6 L65.8,623.1 L66.2,620.1 L66.6,617.1 L67.0,614.1 L67.4,610.7 L67.8,607.8 L68.2,604.1 L68.6,600.8 L69.0,597.1 L69.4,593.3 L69.8,589.8 L70.2,586.5 L70.6,583.4 L71.0,580.3 L71.4,578.3 L71.8,576.8 L72.2,576.7 L72.6,577.9 L73.0,579.1 L73.4,580.8 L73.8,583.1 L74.2,584.9 L74.6,588.5 L75.0,592.9 L75.4,597.1 L75.8,602.4 L76.2,607.0 L76.6,610.7 L77.0,615.2 L77.4,619.7 L77.8,623.7 L78.2,627.3 L78.6,630.4 L79.0,633.1 L79.4,635.6 L79.8,637.7 L80.2,639.4 L80.6,640.8 L81.0,642.0 L81.4,642.9 L81.8,643.6 L82.2,644.1 L82.6,644.5 L83.0,644.8 L83.4,645.0 L83.8,645.2 L84.2,645.3 L84.6,645.4 L85.0,645.4 L85.4,645.4 L85.8,645.5 L86.2,645.5 L86.6,645.5 L87.0,645.5 L87.4,645.5 L87.8,645.5 L88.2,645.5 L88.6,645.5 L89.0,645.5 L89.4,645.5 L89.8,645.5 L90.2,645.5 L90.6,645.5 L91.0,645.5 L91.4,645.5 L91.8,645.5 L92.2,645.5 L92.6,645.5 L93.0,645.5 L93.4,645.5 L93.8,645.5 L94.2,645.5 L94.6,645.5 L95.0,645.5 L95.4,645.5 L95.8,645.5 L96.2,645.5 L96.6,645.5 L97.0,645.5 L97.4,645.5 L97.8,645.5 L98.2,645.5 L98.6,645.5 L99.0,645.5 L99.4,645.5 L99.8,645.5 L100.2,645.5 L100.6,645.5 L101.0,645.5 L101.4,645.5 L101.8,645.5 L102.2,645.5 L102.6,645.5 L103.0,645.5 L103.4,645.5 L103.8,645.5 L104.2,645.5 L104.6,645.5 L105.0,645.5 L105.4,645.5 L105.8,645.5 L106.2,645.5 L106.6,645.5 L107.0,645.5 L107.4,645.5 L107.8,645.5 L108.2,645.5 L108.6,645.5 L109.0,645.5 L109.4,645.5 L109.8,645.5 L110.2,645.5 L110.6,645.5 L111.0,645.5 L111.4,645.5 L111.8,645.5 L112.2,645.5 L112.6,645.5 L113.0,645.5 L113.4,645.5 L113.8,645.5 L114.2,645.5 L114.6,645.5 L115.0,645.5 L115.4,645.5 L115.8,645.5 L116.2,645.5 L116.6,645.5 L117.0,645.5 L117.4,645.5 L117.8,645.5 L118.2,645.5 L118.6,645.5 L119.0,645.5 L119.4,645.5 L119.8,645.5 L120.2,645.5 L120.6,645.5 L121.0,645.5 L121.4,645.5 L121.8,645.5 L122.2,645.5 L122.6,645.5 L123.0,645.5 L123.4,645.5 L123.8,645.5 L124.2,645.5 L124.6,645.5 L125.0,645.5 L125.4,645.5 L125.8,645.5 L126.2,645.5 L126.6,645.5 L127.0,645.5 L127.4,645.5 L127.8,645.5 L128.2,645.5 L128.6,645.5" fill="none" stroke="#474747" stroke-width="0.75" stroke-linejoin="round"/>
</g>
<rect x="55.7" y="572.2" width="74.1" height="74.2" fill="none" stroke="#000" stroke-width="1.7"/>
<text x="0" y="0" font-size="13.6" font-weight="bold" font-style="italic" text-anchor="start" transform="translate(55.1 568.4) scale(1 0.98)" >RCC#1</text>
<rect x="46.5" y="575.20" width="3.4" height="1.4" fill="#6e6e6e"/>
<rect x="46.5" y="589.30" width="3.4" height="1.4" fill="#6e6e6e"/>
<rect x="46.5" y="603.40" width="3.4" height="1.4" fill="#6e6e6e"/>
<rect x="46.5" y="617.50" width="3.4" height="1.4" fill="#6e6e6e"/>
<rect x="46.5" y="631.60" width="3.4" height="1.4" fill="#6e6e6e"/>
<rect x="50.1" y="646.20" width="1.3" height="1.3" fill="#777"/>
<rect x="54.80" y="651.10" width="1.2" height="1.3" fill="#6a6a6a"/>
<rect x="73.15" y="651.10" width="2.2" height="1.3" fill="#6a6a6a"/>
<rect x="90.80" y="651.10" width="3.2" height="1.3" fill="#6a6a6a"/>
<rect x="108.45" y="651.10" width="4.2" height="1.3" fill="#6a6a6a"/>
<rect x="126.00" y="651.10" width="5.4" height="1.3" fill="#6a6a6a"/>
<clipPath id="cl21"><rect x="151.3" y="572.2" width="74.1" height="74.2"/></clipPath>
<g clip-path="url(#cl21)">
<path d="M152.2,646.4 L152.2,645.9 L152.6,645.9 L153.0,645.9 L153.4,645.9 L153.8,645.9 L154.2,645.9 L154.6,645.9 L155.0,645.9 L155.4,645.7 L155.8,645.1 L156.2,644.4 L156.6,644.0 L157.0,643.6 L157.4,643.2 L157.8,642.9 L158.2,642.5 L158.6,642.1 L159.0,641.7 L159.4,641.3 L159.8,640.5 L160.2,639.6 L160.6,638.5 L161.0,637.1 L161.4,635.9 L161.8,634.6 L162.2,633.4 L162.6,633.1 L163.0,632.0 L163.4,629.1 L163.8,626.4 L164.2,624.6 L164.6,621.8 L165.0,618.9 L165.4,616.0 L165.8,613.6 L166.2,611.0 L166.6,604.4 L167.0,601.8 L167.4,599.8 L167.8,597.6 L168.2,593.9 L168.6,591.3 L169.0,591.4 L169.4,589.1 L169.8,591.0 L170.2,589.9 L170.6,587.6 L171.0,587.3 L171.4,586.0 L171.8,585.8 L172.2,588.4 L172.6,589.1 L173.0,583.5 L173.4,582.6 L173.8,585.3 L174.2,584.6 L174.6,586.9 L175.0,587.3 L175.4,584.6 L175.8,585.9 L176.2,590.1 L176.6,590.6 L177.0,585.6 L177.4,584.7 L177.8,586.2 L178.2,585.3 L178.6,584.4 L179.0,584.4 L179.4,586.0 L179.8,586.2 L180.2,584.0 L180.6,582.9 L181.0,584.1 L181.4,583.4 L181.8,584.5 L182.2,583.5 L182.6,577.8 L183.0,576.3 L183.4,580.4 L183.8,579.1 L184.2,575.9 L184.6,576.6 L185.0,582.5 L185.4,584.5 L185.8,581.4 L186.2,583.6 L186.6,585.8 L187.0,589.0 L187.4,592.3 L187.8,595.0 L188.2,597.3 L188.6,600.1 L189.0,602.7 L189.4,604.7 L189.8,605.8 L190.2,607.5 L190.6,611.9 L191.0,613.8 L191.4,615.1 L191.8,617.5 L192.2,619.3 L192.6,621.4 L193.0,624.9 L193.4,627.1 L193.8,627.7 L194.2,629.5 L194.6,631.4 L195.0,632.9 L195.4,635.0 L195.8,636.3 L196.2,637.5 L196.6,638.6 L197.0,639.4 L197.4,640.4 L197.8,641.3 L198.2,642.0 L198.6,642.2 L199.0,642.7 L199.4,643.3 L199.8,643.7 L200.2,644.2 L200.6,644.6 L201.0,645.1 L201.4,645.7 L201.8,645.9 L202.2,645.9 L202.6,645.9 L203.0,645.9 L203.4,645.9 L203.8,645.9 L204.2,645.9 L204.6,645.9 L205.0,645.9 L205.4,645.9 L205.8,645.9 L206.2,645.9 L206.6,645.9 L207.0,645.9 L207.4,645.9 L207.8,645.9 L208.2,645.9 L208.6,645.9 L209.0,645.9 L209.4,645.9 L209.8,645.9 L210.2,645.9 L210.6,645.9 L211.0,645.9 L211.4,645.9 L211.8,645.9 L212.2,645.9 L212.6,645.9 L213.0,645.9 L213.4,645.9 L213.8,645.9 L214.2,645.9 L214.6,645.9 L215.0,645.9 L215.4,645.9 L215.8,645.9 L216.2,645.9 L216.6,645.9 L217.0,645.9 L217.4,645.9 L217.8,645.9 L218.2,645.9 L218.6,645.9 L219.0,645.9 L219.4,645.9 L219.8,645.9 L220.2,645.9 L220.6,645.9 L221.0,645.9 L221.4,645.9 L221.8,645.9 L222.2,645.9 L222.6,645.9 L223.0,645.9 L223.4,645.9 L223.8,645.9 L224.2,645.9 L224.2,646.4 Z" fill="#686868" stroke="#2e2e2e" stroke-width="0.8" stroke-linejoin="round"/>
<path d="M152.2,641.4 L152.6,641.2 L153.0,641.0 L153.4,640.8 L153.8,640.7 L154.2,640.3 L154.6,639.7 L155.0,639.1 L155.4,638.6 L155.8,638.0 L156.2,637.4 L156.6,636.8 L157.0,636.0 L157.4,635.1 L157.8,634.2 L158.2,632.9 L158.6,631.2 L159.0,629.9 L159.4,628.7 L159.8,626.9 L160.2,624.6 L160.6,622.5 L161.0,620.0 L161.4,617.9 L161.8,616.0 L162.2,614.2 L162.6,612.5 L163.0,610.1 L163.4,606.5 L163.8,602.6 L164.2,600.0 L164.6,596.3 L165.0,592.0 L165.4,588.9 L165.8,584.6 L166.2,581.7 L166.6,579.7 L167.0,577.8 L167.4,577.5 L167.8,577.2 L168.2,577.5 L168.6,577.8 L169.0,577.3 L169.4,577.6 L169.8,578.4 L170.2,580.3 L170.6,583.0 L171.0,585.2 L171.4,585.5 L171.8,587.8 L172.2,590.9 L172.6,593.7 L173.0,596.7 L173.4,599.3 L173.8,602.4 L174.2,604.3 L174.6,606.5 L175.0,608.5 L175.4,610.4 L175.8,612.2 L176.2,614.2 L176.6,616.0 L177.0,617.7 L177.4,619.8 L177.8,621.8 L178.2,623.9 L178.6,625.7 L179.0,627.7 L179.4,629.7 L179.8,631.7 L180.2,633.9 L180.6,635.5 L181.0,636.8 L181.4,638.1 L181.8,639.2 L182.2,640.3 L182.6,641.3 L183.0,641.9 L183.4,642.4 L183.8,643.1 L184.2,643.6 L184.6,644.4 L185.0,645.2 L185.4,645.5 L185.8,645.5 L186.2,645.5 L186.6,645.5 L187.0,645.5 L187.4,645.5 L187.8,645.5 L188.2,645.5 L188.6,645.5 L189.0,645.5 L189.4,645.5 L189.8,645.5 L190.2,645.5 L190.6,645.5 L191.0,645.5 L191.4,645.5 L191.8,645.5 L192.2,645.5 L192.6,645.5 L193.0,645.5 L193.4,645.5 L193.8,645.5 L194.2,645.5 L194.6,645.5 L195.0,645.5 L195.4,645.5 L195.8,645.5 L196.2,645.5 L196.6,645.5 L197.0,645.5 L197.4,645.5 L197.8,645.5 L198.2,645.5 L198.6,645.5 L199.0,645.5 L199.4,645.5 L199.8,645.5 L200.2,645.5 L200.6,645.5 L201.0,645.5 L201.4,645.5 L201.8,645.5 L202.2,645.5 L202.6,645.5 L203.0,645.5 L203.4,645.5 L203.8,645.5 L204.2,645.5 L204.6,645.5 L205.0,645.5 L205.4,645.5 L205.8,645.5 L206.2,645.5 L206.6,645.5 L207.0,645.5 L207.4,645.5 L207.8,645.5 L208.2,645.5 L208.6,645.5 L209.0,645.5 L209.4,645.5 L209.8,645.5 L210.2,645.5 L210.6,645.5 L211.0,645.5 L211.4,645.5 L211.8,645.5 L212.2,645.5 L212.6,645.5 L213.0,645.5 L213.4,645.5 L213.8,645.5 L214.2,645.5 L214.6,645.5 L215.0,645.5 L215.4,645.5 L215.8,645.5 L216.2,645.5 L216.6,645.5 L217.0,645.5 L217.4,645.5 L217.8,645.5 L218.2,645.5 L218.6,645.5 L219.0,645.5 L219.4,645.5 L219.8,645.5 L220.2,645.5 L220.6,645.5 L221.0,645.5 L221.4,645.5 L221.8,645.5 L222.2,645.5 L222.6,645.5 L223.0,645.5 L223.4,645.5 L223.8,645.5 L224.2,645.5" fill="none" stroke="#474747" stroke-width="0.75" stroke-linejoin="round"/>
</g>
<rect x="151.3" y="572.2" width="74.1" height="74.2" fill="none" stroke="#000" stroke-width="1.7"/>
<text x="0" y="0" font-size="13.6" font-weight="bold" font-style="italic" text-anchor="start" transform="translate(150.70000000000002 568.4) scale(1 0.98)" >RCC#2</text>
<rect x="142.1" y="575.20" width="3.4" height="1.4" fill="#6e6e6e"/>
<rect x="142.1" y="589.30" width="3.4" height="1.4" fill="#6e6e6e"/>
<rect x="142.1" y="603.40" width="3.4" height="1.4" fill="#6e6e6e"/>
<rect x="142.1" y="617.50" width="3.4" height="1.4" fill="#6e6e6e"/>
<rect x="142.1" y="631.60" width="3.4" height="1.4" fill="#6e6e6e"/>
<rect x="145.7" y="646.20" width="1.3" height="1.3" fill="#777"/>
<rect x="150.40" y="651.10" width="1.2" height="1.3" fill="#6a6a6a"/>
<rect x="168.75" y="651.10" width="2.2" height="1.3" fill="#6a6a6a"/>
<rect x="186.40" y="651.10" width="3.2" height="1.3" fill="#6a6a6a"/>
<rect x="204.05" y="651.10" width="4.2" height="1.3" fill="#6a6a6a"/>
<rect x="221.60" y="651.10" width="5.4" height="1.3" fill="#6a6a6a"/>
<clipPath id="cl22"><rect x="247.1" y="572.2" width="74.1" height="74.2"/></clipPath>
<g clip-path="url(#cl22)">
<path d="M248.0,646.4 L248.0,642.7 L248.4,642.4 L248.8,642.4 L249.2,642.2 L249.6,641.9 L250.0,641.6 L250.4,641.0 L250.8,640.5 L251.2,640.3 L251.6,639.7 L252.0,639.1 L252.4,638.3 L252.8,637.2 L253.2,636.0 L253.6,635.0 L254.0,633.6 L254.4,631.6 L254.8,629.6 L255.2,628.3 L255.6,626.1 L256.0,622.6 L256.4,619.8 L256.8,617.6 L257.2,614.5 L257.6,610.4 L258.0,606.7 L258.4,601.8 L258.8,597.7 L259.2,594.1 L259.6,589.7 L260.0,584.7 L260.4,580.8 L260.8,578.8 L261.2,576.5 L261.6,579.9 L262.0,582.2 L262.4,581.2 L262.8,583.7 L263.2,587.7 L263.6,590.6 L264.0,594.6 L264.4,597.8 L264.8,601.3 L265.2,604.4 L265.6,605.8 L266.0,608.8 L266.4,612.1 L266.8,615.0 L267.2,616.8 L267.6,619.3 L268.0,622.1 L268.4,624.2 L268.8,626.0 L269.2,628.0 L269.6,630.1 L270.0,631.8 L270.4,633.0 L270.8,634.5 L271.2,635.7 L271.6,636.8 L272.0,638.0 L272.4,638.9 L272.8,639.5 L273.2,640.3 L273.6,641.1 L274.0,641.7 L274.4,642.1 L274.8,642.6 L275.2,643.0 L275.6,643.3 L276.0,643.7 L276.4,644.0 L276.8,644.3 L277.2,644.5 L277.6,644.7 L278.0,644.8 L278.4,645.0 L278.8,645.1 L279.2,645.3 L279.6,645.4 L280.0,645.4 L280.4,645.5 L280.8,645.6 L281.2,645.6 L281.6,645.7 L282.0,645.7 L282.4,645.7 L282.8,645.7 L283.2,645.8 L283.6,645.8 L284.0,645.8 L284.4,645.8 L284.8,645.8 L285.2,645.8 L285.6,645.9 L286.0,645.9 L286.4,645.9 L286.8,645.9 L287.2,645.9 L287.6,645.9 L288.0,645.9 L288.4,645.9 L288.8,645.9 L289.2,645.9 L289.6,645.9 L290.0,645.9 L290.4,645.9 L290.8,645.9 L291.2,645.9 L291.6,645.9 L292.0,645.9 L292.4,645.9 L292.8,645.9 L293.2,645.9 L293.6,645.9 L294.0,645.9 L294.4,645.9 L294.8,645.9 L295.2,645.9 L295.6,645.9 L296.0,645.9 L296.4,645.9 L296.8,645.9 L297.2,645.9 L297.6,645.9 L298.0,645.9 L298.4,645.9 L298.8,645.9 L299.2,645.9 L299.6,645.9 L300.0,645.9 L300.4,645.9 L300.8,645.9 L301.2,645.9 L301.6,645.9 L302.0,645.9 L302.4,645.9 L302.8,645.9 L303.2,645.9 L303.6,645.9 L304.0,645.9 L304.4,645.9 L304.8,645.9 L305.2,645.9 L305.6,645.9 L306.0,645.9 L306.4,645.9 L306.8,645.9 L307.2,645.9 L307.6,645.9 L308.0,645.9 L308.4,645.9 L308.8,645.9 L309.2,645.9 L309.6,645.9 L310.0,645.9 L310.4,645.9 L310.8,645.9 L311.2,645.9 L311.6,645.9 L312.0,645.9 L312.4,645.9 L312.8,645.9 L313.2,645.9 L313.6,645.9 L314.0,645.9 L314.4,645.9 L314.8,645.9 L315.2,645.9 L315.6,645.9 L316.0,645.9 L316.4,645.9 L316.8,645.9 L317.2,645.9 L317.6,645.9 L318.0,645.9 L318.4,645.9 L318.8,645.9 L319.2,645.9 L319.6,645.9 L320.0,645.9 L320.0,646.4 Z" fill="#686868" stroke="#2e2e2e" stroke-width="0.8" stroke-linejoin="round"/>
</g>
<rect x="247.1" y="572.2" width="74.1" height="74.2" fill="none" stroke="#000" stroke-width="1.7"/>
<text x="0" y="0" font-size="13.6" font-weight="bold" font-style="italic" text-anchor="start" transform="translate(246.5 568.4) scale(1 0.98)" >RCC#3</text>
<rect x="237.9" y="575.20" width="3.4" height="1.4" fill="#6e6e6e"/>
<rect x="237.9" y="589.30" width="3.4" height="1.4" fill="#6e6e6e"/>
<rect x="237.9" y="603.40" width="3.4" height="1.4" fill="#6e6e6e"/>
<rect x="237.9" y="617.50" width="3.4" height="1.4" fill="#6e6e6e"/>
<rect x="237.9" y="631.60" width="3.4" height="1.4" fill="#6e6e6e"/>
<rect x="241.5" y="646.20" width="1.3" height="1.3" fill="#777"/>
<rect x="246.20" y="651.10" width="1.2" height="1.3" fill="#6a6a6a"/>
<rect x="264.55" y="651.10" width="2.2" height="1.3" fill="#6a6a6a"/>
<rect x="282.20" y="651.10" width="3.2" height="1.3" fill="#6a6a6a"/>
<rect x="299.85" y="651.10" width="4.2" height="1.3" fill="#6a6a6a"/>
<rect x="317.40" y="651.10" width="5.4" height="1.3" fill="#6a6a6a"/>
<clipPath id="cl23"><rect x="343.0" y="572.2" width="74.1" height="74.2"/></clipPath>
<g clip-path="url(#cl23)">
<path d="M343.9,646.4 L343.9,645.9 L344.3,645.9 L344.7,645.9 L345.1,645.9 L345.5,645.9 L345.9,645.9 L346.3,645.9 L346.7,645.9 L347.1,645.9 L347.5,645.9 L347.9,645.9 L348.3,645.9 L348.7,645.9 L349.1,645.9 L349.5,645.9 L349.9,645.9 L350.3,645.9 L350.7,645.9 L351.1,645.9 L351.5,645.9 L351.9,645.9 L352.3,645.9 L352.7,645.9 L353.1,645.9 L353.5,645.9 L353.9,645.9 L354.3,645.9 L354.7,645.9 L355.1,645.9 L355.5,645.9 L355.9,645.9 L356.3,645.9 L356.7,645.9 L357.1,645.8 L357.5,645.8 L357.9,645.8 L358.3,645.8 L358.7,645.7 L359.1,645.7 L359.5,645.7 L359.9,645.6 L360.3,645.5 L360.7,645.4 L361.1,645.2 L361.5,645.0 L361.9,644.8 L362.3,644.6 L362.7,644.3 L363.1,643.8 L363.5,643.4 L363.9,643.0 L364.3,642.4 L364.7,641.6 L365.1,640.7 L365.5,639.9 L365.9,638.8 L366.3,637.4 L366.7,636.1 L367.1,634.4 L367.5,632.6 L367.9,631.0 L368.3,629.0 L368.7,627.0 L369.1,624.6 L369.5,621.4 L369.9,618.4 L370.3,615.1 L370.7,611.9 L371.1,609.0 L371.5,605.6 L371.9,602.8 L372.3,599.5 L372.7,595.8 L373.1,592.7 L373.5,591.6 L373.9,588.8 L374.3,586.3 L374.7,583.8 L375.1,581.5 L375.5,580.3 L375.9,576.6 L376.3,576.2 L376.7,578.7 L377.1,579.4 L377.5,580.7 L377.9,582.8 L378.3,584.7 L378.7,587.6 L379.1,590.2 L379.5,593.5 L379.9,596.2 L380.3,599.2 L380.7,602.0 L381.1,605.4 L381.5,608.4 L381.9,611.6 L382.3,616.2 L382.7,619.1 L383.1,622.0 L383.5,624.7 L383.9,627.4 L384.3,629.7 L384.7,631.7 L385.1,633.6 L385.5,635.0 L385.9,636.5 L386.3,638.1 L386.7,639.3 L387.1,640.5 L387.5,641.3 L387.9,642.2 L388.3,642.8 L388.7,643.2 L389.1,643.7 L389.5,644.1 L389.9,644.5 L390.3,644.7 L390.7,645.0 L391.1,645.2 L391.5,645.3 L391.9,645.5 L392.3,645.5 L392.7,645.6 L393.1,645.7 L393.5,645.7 L393.9,645.8 L394.3,645.8 L394.7,645.8 L395.1,645.8 L395.5,645.9 L395.9,645.9 L396.3,645.9 L396.7,645.9 L397.1,645.9 L397.5,645.9 L397.9,645.9 L398.3,645.9 L398.7,645.9 L399.1,645.9 L399.5,645.9 L399.9,645.9 L400.3,645.9 L400.7,645.9 L401.1,645.9 L401.5,645.9 L401.9,645.9 L402.3,645.9 L402.7,645.9 L403.1,645.9 L403.5,645.9 L403.9,645.9 L404.3,645.9 L404.7,645.9 L405.1,645.9 L405.5,645.9 L405.9,645.9 L406.3,645.9 L406.7,645.9 L407.1,645.9 L407.5,645.9 L407.9,645.9 L408.3,645.9 L408.7,645.9 L409.1,645.9 L409.5,645.9 L409.9,645.9 L410.3,645.9 L410.7,645.9 L411.1,645.9 L411.5,645.9 L411.9,645.9 L412.3,645.9 L412.7,645.9 L413.1,645.9 L413.5,645.9 L413.9,645.9 L414.3,645.9 L414.7,645.9 L415.1,645.9 L415.5,645.9 L415.9,645.9 L415.9,646.4 Z" fill="#686868" stroke="#2e2e2e" stroke-width="0.8" stroke-linejoin="round"/>
<path d="M343.9,640.3 L344.3,639.8 L344.7,639.4 L345.1,638.9 L345.5,638.3 L345.9,637.6 L346.3,637.2 L346.7,636.3 L347.1,634.7 L347.5,633.6 L347.9,632.9 L348.3,631.3 L348.7,628.9 L349.1,626.8 L349.5,625.0 L349.9,622.5 L350.3,619.0 L350.7,616.2 L351.1,614.8 L351.5,612.0 L351.9,608.2 L352.3,605.5 L352.7,602.3 L353.1,599.3 L353.5,596.9 L353.9,593.9 L354.3,592.0 L354.7,589.7 L355.1,585.9 L355.5,584.0 L355.9,583.2 L356.3,582.0 L356.7,578.3 L357.1,577.2 L357.5,579.4 L357.9,579.2 L358.3,577.8 L358.7,577.5 L359.1,577.8 L359.5,578.7 L359.9,578.4 L360.3,580.4 L360.7,586.4 L361.1,589.1 L361.5,591.3 L361.9,594.6 L362.3,595.0 L362.7,597.9 L363.1,603.5 L363.5,606.6 L363.9,607.0 L364.3,610.0 L364.7,613.8 L365.1,616.4 L365.5,619.7 L365.9,622.1 L366.3,623.5 L366.7,625.8 L367.1,627.9 L367.5,629.8 L367.9,631.9 L368.3,633.6 L368.7,634.6 L369.1,636.0 L369.5,637.4 L369.9,638.5 L370.3,639.3 L370.7,640.1 L371.1,640.9 L371.5,641.5 L371.9,642.0 L372.3,642.5 L372.7,643.1 L373.1,643.4 L373.5,643.8 L373.9,644.0 L374.3,644.2 L374.7,644.4 L375.1,644.6 L375.5,644.8 L375.9,644.9 L376.3,645.0 L376.7,645.1 L377.1,645.2 L377.5,645.2 L377.9,645.3 L378.3,645.3 L378.7,645.4 L379.1,645.4 L379.5,645.4 L379.9,645.4 L380.3,645.4 L380.7,645.5 L381.1,645.5 L381.5,645.5 L381.9,645.5 L382.3,645.5 L382.7,645.5 L383.1,645.5 L383.5,645.5 L383.9,645.5 L384.3,645.5 L384.7,645.5 L385.1,645.5 L385.5,645.5 L385.9,645.5 L386.3,645.5 L386.7,645.5 L387.1,645.5 L387.5,645.5 L387.9,645.5 L388.3,645.5 L388.7,645.5 L389.1,645.5 L389.5,645.5 L389.9,645.5 L390.3,645.5 L390.7,645.5 L391.1,645.5 L391.5,645.5 L391.9,645.5 L392.3,645.5 L392.7,645.5 L393.1,645.5 L393.5,645.5 L393.9,645.5 L394.3,645.5 L394.7,645.5 L395.1,645.5 L395.5,645.5 L395.9,645.5 L396.3,645.5 L396.7,645.5 L397.1,645.5 L397.5,645.5 L397.9,645.5 L398.3,645.5 L398.7,645.5 L399.1,645.5 L399.5,645.5 L399.9,645.5 L400.3,645.5 L400.7,645.5 L401.1,645.5 L401.5,645.5 L401.9,645.5 L402.3,645.5 L402.7,645.5 L403.1,645.5 L403.5,645.5 L403.9,645.5 L404.3,645.5 L404.7,645.5 L405.1,645.5 L405.5,645.5 L405.9,645.5 L406.3,645.5 L406.7,645.5 L407.1,645.5 L407.5,645.5 L407.9,645.5 L408.3,645.5 L408.7,645.5 L409.1,645.5 L409.5,645.5 L409.9,645.5 L410.3,645.5 L410.7,645.5 L411.1,645.5 L411.5,645.5 L411.9,645.5 L412.3,645.5 L412.7,645.5 L413.1,645.5 L413.5,645.5 L413.9,645.5 L414.3,645.5 L414.7,645.5 L415.1,645.5 L415.5,645.5 L415.9,645.5" fill="none" stroke="#474747" stroke-width="0.75" stroke-linejoin="round"/>
</g>
<rect x="343.0" y="572.2" width="74.1" height="74.2" fill="none" stroke="#000" stroke-width="1.7"/>
<text x="0" y="0" font-size="13.6" font-weight="bold" font-style="italic" text-anchor="start" transform="translate(342.4 568.4) scale(1 0.98)" >RCC#4</text>
<rect x="333.8" y="575.20" width="3.4" height="1.4" fill="#6e6e6e"/>
<rect x="333.8" y="589.30" width="3.4" height="1.4" fill="#6e6e6e"/>
<rect x="333.8" y="603.40" width="3.4" height="1.4" fill="#6e6e6e"/>
<rect x="333.8" y="617.50" width="3.4" height="1.4" fill="#6e6e6e"/>
<rect x="333.8" y="631.60" width="3.4" height="1.4" fill="#6e6e6e"/>
<rect x="337.4" y="646.20" width="1.3" height="1.3" fill="#777"/>
<rect x="342.10" y="651.10" width="1.2" height="1.3" fill="#6a6a6a"/>
<rect x="360.45" y="651.10" width="2.2" height="1.3" fill="#6a6a6a"/>
<rect x="378.10" y="651.10" width="3.2" height="1.3" fill="#6a6a6a"/>
<rect x="395.75" y="651.10" width="4.2" height="1.3" fill="#6a6a6a"/>
<rect x="413.30" y="651.10" width="5.4" height="1.3" fill="#6a6a6a"/>
<clipPath id="cl24"><rect x="438.7" y="572.2" width="74.1" height="74.2"/></clipPath>
<g clip-path="url(#cl24)">
<path d="M439.6,646.4 L439.6,645.9 L440.0,645.9 L440.4,645.9 L440.8,645.9 L441.2,645.9 L441.6,645.9 L442.0,645.9 L442.4,645.9 L442.8,645.9 L443.2,645.9 L443.6,645.9 L444.0,645.9 L444.4,645.9 L444.8,645.9 L445.2,645.9 L445.6,645.9 L446.0,645.9 L446.4,645.9 L446.8,645.9 L447.2,645.9 L447.6,645.9 L448.0,645.9 L448.4,645.9 L448.8,645.9 L449.2,645.9 L449.6,645.9 L450.0,645.9 L450.4,645.9 L450.8,645.9 L451.2,645.9 L451.6,645.9 L452.0,645.9 L452.4,645.9 L452.8,645.9 L453.2,645.9 L453.6,645.9 L454.0,645.9 L454.4,645.9 L454.8,645.9 L455.2,645.9 L455.6,645.9 L456.0,645.9 L456.4,645.9 L456.8,645.9 L457.2,645.9 L457.6,645.9 L458.0,645.9 L458.4,645.9 L458.8,645.9 L459.2,645.9 L459.6,645.9 L460.0,645.9 L460.4,645.9 L460.8,645.9 L461.2,645.9 L461.6,645.9 L462.0,645.9 L462.4,645.9 L462.8,645.9 L463.2,645.9 L463.6,645.9 L464.0,645.9 L464.4,645.9 L464.8,645.9 L465.2,645.9 L465.6,645.9 L466.0,645.9 L466.4,645.9 L466.8,645.9 L467.2,645.9 L467.6,645.9 L468.0,645.9 L468.4,645.9 L468.8,645.9 L469.2,645.9 L469.6,645.9 L470.0,645.9 L470.4,645.9 L470.8,645.8 L471.2,645.7 L471.6,645.6 L472.0,645.5 L472.4,645.2 L472.8,644.8 L473.2,644.2 L473.6,643.3 L474.0,642.1 L474.4,640.4 L474.8,638.6 L475.2,636.1 L475.6,632.5 L476.0,628.5 L476.4,624.3 L476.8,619.3 L477.2,613.8 L477.6,607.9 L478.0,601.1 L478.4,595.5 L478.8,589.6 L479.2,585.1 L479.6,580.1 L480.0,577.1 L480.4,579.3 L480.8,578.8 L481.2,577.8 L481.6,579.7 L482.0,580.6 L482.4,584.0 L482.8,588.9 L483.2,593.8 L483.6,599.9 L484.0,605.0 L484.4,610.8 L484.8,615.8 L485.2,619.9 L485.6,624.2 L486.0,628.5 L486.4,631.8 L486.8,634.5 L487.2,637.0 L487.6,639.0 L488.0,640.6 L488.4,642.0 L488.8,643.0 L489.2,643.8 L489.6,644.4 L490.0,644.9 L490.4,645.2 L490.8,645.4 L491.2,645.6 L491.6,645.7 L492.0,645.8 L492.4,645.8 L492.8,645.8 L493.2,645.9 L493.6,645.9 L494.0,645.9 L494.4,645.9 L494.8,645.9 L495.2,645.9 L495.6,645.9 L496.0,645.9 L496.4,645.9 L496.8,645.9 L497.2,645.9 L497.6,645.9 L498.0,645.9 L498.4,645.9 L498.8,645.9 L499.2,645.9 L499.6,645.9 L500.0,645.9 L500.4,645.9 L500.8,645.9 L501.2,645.9 L501.6,645.9 L502.0,645.9 L502.4,645.9 L502.8,645.9 L503.2,645.9 L503.6,645.9 L504.0,645.9 L504.4,645.9 L504.8,645.9 L505.2,645.9 L505.6,645.9 L506.0,645.9 L506.4,645.9 L506.8,645.9 L507.2,645.9 L507.6,645.9 L508.0,645.9 L508.4,645.9 L508.8,645.9 L509.2,645.9 L509.6,645.9 L510.0,645.9 L510.4,645.9 L510.8,645.9 L511.2,645.9 L511.6,645.9 L511.6,646.4 Z" fill="#686868" stroke="#2e2e2e" stroke-width="0.8" stroke-linejoin="round"/>
<path d="M439.6,645.5 L440.0,645.5 L440.4,645.5 L440.8,645.5 L441.2,645.4 L441.6,645.4 L442.0,645.4 L442.4,645.4 L442.8,645.3 L443.2,645.3 L443.6,645.2 L444.0,645.1 L444.4,645.0 L444.8,644.8 L445.2,644.6 L445.6,644.4 L446.0,644.0 L446.4,643.6 L446.8,643.1 L447.2,642.5 L447.6,641.9 L448.0,641.0 L448.4,639.9 L448.8,638.6 L449.2,637.1 L449.6,635.4 L450.0,633.4 L450.4,631.1 L450.8,628.5 L451.2,625.6 L451.6,622.1 L452.0,618.4 L452.4,614.6 L452.8,610.4 L453.2,605.8 L453.6,601.1 L454.0,595.3 L454.4,590.6 L454.8,587.0 L455.2,582.9 L455.6,579.6 L456.0,577.4 L456.4,577.4 L456.8,579.8 L457.2,584.1 L457.6,588.1 L458.0,591.5 L458.4,596.3 L458.8,601.7 L459.2,606.5 L459.6,610.9 L460.0,615.2 L460.4,618.9 L460.8,622.6 L461.2,626.4 L461.6,629.3 L462.0,631.6 L462.4,633.9 L462.8,635.9 L463.2,637.5 L463.6,638.9 L464.0,640.1 L464.4,641.1 L464.8,642.0 L465.2,642.7 L465.6,643.3 L466.0,643.7 L466.4,644.1 L466.8,644.4 L467.2,644.6 L467.6,644.8 L468.0,645.0 L468.4,645.1 L468.8,645.2 L469.2,645.3 L469.6,645.3 L470.0,645.4 L470.4,645.4 L470.8,645.4 L471.2,645.4 L471.6,645.5 L472.0,645.5 L472.4,645.5 L472.8,645.5 L473.2,645.5 L473.6,645.5 L474.0,645.5 L474.4,645.5 L474.8,645.5 L475.2,645.5 L475.6,645.5 L476.0,645.5 L476.4,645.5 L476.8,645.5 L477.2,645.5 L477.6,645.5 L478.0,645.5 L478.4,645.5 L478.8,645.5 L479.2,645.5 L479.6,645.5 L480.0,645.5 L480.4,645.5 L480.8,645.5 L481.2,645.5 L481.6,645.5 L482.0,645.5 L482.4,645.5 L482.8,645.5 L483.2,645.5 L483.6,645.5 L484.0,645.5 L484.4,645.5 L484.8,645.5 L485.2,645.5 L485.6,645.5 L486.0,645.5 L486.4,645.5 L486.8,645.5 L487.2,645.5 L487.6,645.5 L488.0,645.5 L488.4,645.5 L488.8,645.5 L489.2,645.5 L489.6,645.5 L490.0,645.5 L490.4,645.5 L490.8,645.5 L491.2,645.5 L491.6,645.5 L492.0,645.5 L492.4,645.5 L492.8,645.5 L493.2,645.5 L493.6,645.5 L494.0,645.5 L494.4,645.5 L494.8,645.5 L495.2,645.5 L495.6,645.5 L496.0,645.5 L496.4,645.5 L496.8,645.5 L497.2,645.5 L497.6,645.5 L498.0,645.5 L498.4,645.5 L498.8,645.5 L499.2,645.5 L499.6,645.5 L500.0,645.5 L500.4,645.5 L500.8,645.5 L501.2,645.5 L501.6,645.5 L502.0,645.5 L502.4,645.5 L502.8,645.5 L503.2,645.5 L503.6,645.5 L504.0,645.5 L504.4,645.5 L504.8,645.5 L505.2,645.5 L505.6,645.5 L506.0,645.5 L506.4,645.5 L506.8,645.5 L507.2,645.5 L507.6,645.5 L508.0,645.5 L508.4,645.5 L508.8,645.5 L509.2,645.5 L509.6,645.5 L510.0,645.5 L510.4,645.5 L510.8,645.5 L511.2,645.5 L511.6,645.5" fill="none" stroke="#474747" stroke-width="0.75" stroke-linejoin="round"/>
</g>
<rect x="438.7" y="572.2" width="74.1" height="74.2" fill="none" stroke="#000" stroke-width="1.7"/>
<text x="0" y="0" font-size="13.6" font-weight="bold" font-style="italic" text-anchor="start" transform="translate(438.09999999999997 568.4) scale(1 0.98)" >RCC#5</text>
<rect x="429.5" y="575.20" width="3.4" height="1.4" fill="#6e6e6e"/>
<rect x="429.5" y="589.30" width="3.4" height="1.4" fill="#6e6e6e"/>
<rect x="429.5" y="603.40" width="3.4" height="1.4" fill="#6e6e6e"/>
<rect x="429.5" y="617.50" width="3.4" height="1.4" fill="#6e6e6e"/>
<rect x="429.5" y="631.60" width="3.4" height="1.4" fill="#6e6e6e"/>
<rect x="433.1" y="646.20" width="1.3" height="1.3" fill="#777"/>
<rect x="437.80" y="651.10" width="1.2" height="1.3" fill="#6a6a6a"/>
<rect x="456.15" y="651.10" width="2.2" height="1.3" fill="#6a6a6a"/>
<rect x="473.80" y="651.10" width="3.2" height="1.3" fill="#6a6a6a"/>
<rect x="491.45" y="651.10" width="4.2" height="1.3" fill="#6a6a6a"/>
<rect x="509.00" y="651.10" width="5.4" height="1.3" fill="#6a6a6a"/>
<clipPath id="cl30"><rect x="55.7" y="670.0" width="74.1" height="73.8"/></clipPath>
<g clip-path="url(#cl30)">
<path d="M56.6,743.8 L56.6,743.3 L57.0,743.3 L57.4,743.3 L57.8,743.3 L58.2,743.3 L58.6,743.3 L59.0,743.3 L59.4,743.3 L59.8,743.3 L60.2,743.2 L60.6,742.8 L61.0,742.5 L61.4,742.1 L61.8,741.8 L62.2,741.5 L62.6,741.1 L63.0,740.7 L63.4,740.4 L63.8,740.2 L64.2,739.9 L64.6,739.4 L65.0,739.1 L65.4,738.7 L65.8,738.0 L66.2,737.1 L66.6,735.2 L67.0,733.6 L67.4,731.8 L67.8,729.8 L68.2,727.5 L68.6,722.7 L69.0,718.5 L69.4,715.2 L69.8,711.4 L70.2,706.1 L70.6,701.3 L71.0,696.6 L71.4,691.7 L71.8,688.5 L72.2,685.2 L72.6,682.7 L73.0,679.7 L73.4,680.0 L73.8,679.4 L74.2,679.0 L74.6,679.3 L75.0,674.3 L75.4,675.3 L75.8,677.6 L76.2,679.2 L76.6,680.1 L77.0,681.0 L77.4,683.5 L77.8,684.5 L78.2,684.3 L78.6,685.3 L79.0,686.7 L79.4,687.2 L79.8,686.3 L80.2,687.1 L80.6,691.4 L81.0,692.1 L81.4,690.5 L81.8,690.6 L82.2,691.8 L82.6,691.3 L83.0,688.6 L83.4,688.6 L83.8,688.2 L84.2,688.7 L84.6,692.8 L85.0,694.6 L85.4,696.8 L85.8,698.4 L86.2,698.6 L86.6,700.1 L87.0,701.2 L87.4,701.8 L87.8,701.7 L88.2,703.3 L88.6,706.3 L89.0,708.9 L89.4,709.9 L89.8,712.1 L90.2,715.3 L90.6,716.6 L91.0,717.4 L91.4,719.2 L91.8,721.3 L92.2,723.0 L92.6,723.7 L93.0,725.5 L93.4,727.3 L93.8,729.0 L94.2,730.0 L94.6,731.5 L95.0,732.7 L95.4,734.2 L95.8,735.7 L96.2,736.7 L96.6,737.7 L97.0,738.3 L97.4,738.6 L97.8,739.3 L98.2,739.9 L98.6,740.4 L99.0,740.8 L99.4,741.1 L99.8,741.5 L100.2,741.8 L100.6,742.0 L101.0,742.4 L101.4,742.8 L101.8,743.2 L102.2,743.3 L102.6,743.3 L103.0,743.3 L103.4,743.3 L103.8,743.3 L104.2,743.3 L104.6,743.3 L105.0,743.3 L105.4,743.3 L105.8,743.3 L106.2,743.3 L106.6,743.3 L107.0,743.3 L107.4,743.3 L107.8,743.3 L108.2,743.3 L108.6,743.3 L109.0,743.3 L109.4,743.3 L109.8,743.3 L110.2,743.3 L110.6,743.3 L111.0,743.3 L111.4,743.3 L111.8,743.3 L112.2,743.3 L112.6,743.3 L113.0,743.3 L113.4,743.3 L113.8,743.3 L114.2,743.3 L114.6,743.3 L115.0,743.3 L115.4,743.3 L115.8,743.3 L116.2,743.3 L116.6,743.3 L117.0,743.3 L117.4,743.3 L117.8,743.3 L118.2,743.3 L118.6,743.3 L119.0,743.3 L119.4,743.3 L119.8,743.3 L120.2,743.3 L120.6,743.3 L121.0,743.3 L121.4,743.3 L121.8,743.3 L122.2,743.3 L122.6,743.3 L123.0,743.3 L123.4,743.3 L123.8,743.3 L124.2,743.3 L124.6,743.3 L125.0,743.3 L125.4,743.3 L125.8,743.3 L126.2,743.3 L126.6,743.3 L127.0,743.3 L127.4,743.3 L127.8,743.3 L128.2,743.3 L128.6,743.3 L128.6,743.8 Z" fill="#686868" stroke="#2e2e2e" stroke-width="0.8" stroke-linejoin="round"/>
<path d="M56.6,742.9 L57.0,742.9 L57.4,742.9 L57.8,742.8 L58.2,742.5 L58.6,742.2 L59.0,742.0 L59.4,741.8 L59.8,741.6 L60.2,741.4 L60.6,741.2 L61.0,741.0 L61.4,740.8 L61.8,740.6 L62.2,740.4 L62.6,740.2 L63.0,739.8 L63.4,739.5 L63.8,739.1 L64.2,738.7 L64.6,738.3 L65.0,737.6 L65.4,736.2 L65.8,734.4 L66.2,732.7 L66.6,730.9 L67.0,728.8 L67.4,726.0 L67.8,721.8 L68.2,716.8 L68.6,712.2 L69.0,707.3 L69.4,702.2 L69.8,697.5 L70.2,692.7 L70.6,688.0 L71.0,683.2 L71.4,679.8 L71.8,677.7 L72.2,675.6 L72.6,676.5 L73.0,678.6 L73.4,679.4 L73.8,681.9 L74.2,684.8 L74.6,688.8 L75.0,694.1 L75.4,699.0 L75.8,703.1 L76.2,707.3 L76.6,711.2 L77.0,715.1 L77.4,719.2 L77.8,722.0 L78.2,724.2 L78.6,726.6 L79.0,729.1 L79.4,731.4 L79.8,733.2 L80.2,734.4 L80.6,735.3 L81.0,736.2 L81.4,737.0 L81.8,737.9 L82.2,738.8 L82.6,739.6 L83.0,740.2 L83.4,740.6 L83.8,741.0 L84.2,741.3 L84.6,741.6 L85.0,742.0 L85.4,742.4 L85.8,742.8 L86.2,742.9 L86.6,742.9 L87.0,742.9 L87.4,742.9 L87.8,742.9 L88.2,742.9 L88.6,742.9 L89.0,742.9 L89.4,742.9 L89.8,742.9 L90.2,742.9 L90.6,742.9 L91.0,742.9 L91.4,742.9 L91.8,742.9 L92.2,742.9 L92.6,742.9 L93.0,742.9 L93.4,742.9 L93.8,742.9 L94.2,742.9 L94.6,742.9 L95.0,742.9 L95.4,742.9 L95.8,742.9 L96.2,742.9 L96.6,742.9 L97.0,742.9 L97.4,742.9 L97.8,742.9 L98.2,742.9 L98.6,742.9 L99.0,742.9 L99.4,742.9 L99.8,742.9 L100.2,742.9 L100.6,742.9 L101.0,742.9 L101.4,742.9 L101.8,742.9 L102.2,742.9 L102.6,742.9 L103.0,742.9 L103.4,742.9 L103.8,742.9 L104.2,742.9 L104.6,742.9 L105.0,742.9 L105.4,742.9 L105.8,742.9 L106.2,742.9 L106.6,742.9 L107.0,742.9 L107.4,742.9 L107.8,742.9 L108.2,742.9 L108.6,742.9 L109.0,742.9 L109.4,742.9 L109.8,742.9 L110.2,742.9 L110.6,742.9 L111.0,742.9 L111.4,742.9 L111.8,742.9 L112.2,742.9 L112.6,742.9 L113.0,742.9 L113.4,742.9 L113.8,742.9 L114.2,742.9 L114.6,742.9 L115.0,742.9 L115.4,742.9 L115.8,742.9 L116.2,742.9 L116.6,742.9 L117.0,742.9 L117.4,742.9 L117.8,742.9 L118.2,742.9 L118.6,742.9 L119.0,742.9 L119.4,742.9 L119.8,742.9 L120.2,742.9 L120.6,742.9 L121.0,742.9 L121.4,742.9 L121.8,742.9 L122.2,742.9 L122.6,742.9 L123.0,742.9 L123.4,742.9 L123.8,742.9 L124.2,742.9 L124.6,742.9 L125.0,742.9 L125.4,742.9 L125.8,742.9 L126.2,742.9 L126.6,742.9 L127.0,742.9 L127.4,742.9 L127.8,742.9 L128.2,742.9 L128.6,742.9" fill="none" stroke="#474747" stroke-width="0.75" stroke-linejoin="round"/>
</g>
<rect x="55.7" y="670.0" width="74.1" height="73.8" fill="none" stroke="#000" stroke-width="1.7"/>
<text x="0" y="0" font-size="13.6" font-weight="bold" font-style="italic" text-anchor="start" transform="translate(55.1 667.2) scale(1 0.98)" >RCC#6</text>
<rect x="46.5" y="673.00" width="3.4" height="1.4" fill="#6e6e6e"/>
<rect x="46.5" y="687.02" width="3.4" height="1.4" fill="#6e6e6e"/>
<rect x="46.5" y="701.04" width="3.4" height="1.4" fill="#6e6e6e"/>
<rect x="46.5" y="715.06" width="3.4" height="1.4" fill="#6e6e6e"/>
<rect x="46.5" y="729.08" width="3.4" height="1.4" fill="#6e6e6e"/>
<rect x="50.1" y="743.60" width="1.3" height="1.3" fill="#777"/>
<rect x="54.80" y="748.50" width="1.2" height="1.3" fill="#6a6a6a"/>
<rect x="73.15" y="748.50" width="2.2" height="1.3" fill="#6a6a6a"/>
<rect x="90.80" y="748.50" width="3.2" height="1.3" fill="#6a6a6a"/>
<rect x="108.45" y="748.50" width="4.2" height="1.3" fill="#6a6a6a"/>
<rect x="126.00" y="748.50" width="5.4" height="1.3" fill="#6a6a6a"/>
<clipPath id="cl31"><rect x="151.3" y="670.0" width="74.1" height="73.8"/></clipPath>
<g clip-path="url(#cl31)">
<path d="M152.2,743.8 L152.2,743.3 L152.6,743.3 L153.0,743.3 L153.4,743.3 L153.8,743.3 L154.2,743.3 L154.6,743.3 L155.0,743.3 L155.4,743.3 L155.8,743.3 L156.2,743.3 L156.6,743.3 L157.0,743.3 L157.4,743.3 L157.8,743.3 L158.2,743.3 L158.6,743.3 L159.0,743.3 L159.4,743.3 L159.8,743.3 L160.2,743.3 L160.6,743.3 L161.0,743.3 L161.4,743.3 L161.8,743.3 L162.2,743.3 L162.6,743.3 L163.0,743.3 L163.4,743.3 L163.8,743.3 L164.2,743.3 L164.6,743.3 L165.0,743.3 L165.4,743.3 L165.8,743.3 L166.2,743.3 L166.6,743.3 L167.0,743.3 L167.4,743.3 L167.8,743.2 L168.2,743.2 L168.6,743.2 L169.0,743.1 L169.4,743.0 L169.8,742.9 L170.2,742.7 L170.6,742.5 L171.0,742.2 L171.4,741.9 L171.8,741.5 L172.2,740.9 L172.6,740.1 L173.0,739.1 L173.4,737.9 L173.8,736.5 L174.2,734.7 L174.6,732.3 L175.0,729.8 L175.4,727.0 L175.8,723.5 L176.2,720.4 L176.6,716.3 L177.0,712.0 L177.4,707.4 L177.8,701.0 L178.2,695.8 L178.6,690.1 L179.0,685.0 L179.4,684.2 L179.8,680.5 L180.2,675.6 L180.6,674.3 L181.0,675.3 L181.4,678.5 L181.8,683.0 L182.2,687.0 L182.6,693.1 L183.0,697.4 L183.4,700.3 L183.8,704.5 L184.2,708.8 L184.6,712.6 L185.0,717.2 L185.4,720.4 L185.8,722.7 L186.2,725.4 L186.6,728.3 L187.0,730.3 L187.4,732.4 L187.8,734.0 L188.2,735.3 L188.6,736.6 L189.0,737.6 L189.4,738.5 L189.8,739.3 L190.2,740.0 L190.6,740.6 L191.0,741.0 L191.4,741.4 L191.8,741.8 L192.2,742.0 L192.6,742.3 L193.0,742.5 L193.4,742.6 L193.8,742.8 L194.2,742.9 L194.6,743.0 L195.0,743.0 L195.4,743.1 L195.8,743.1 L196.2,743.2 L196.6,743.2 L197.0,743.2 L197.4,743.2 L197.8,743.3 L198.2,743.3 L198.6,743.3 L199.0,743.3 L199.4,743.3 L199.8,743.3 L200.2,743.3 L200.6,743.3 L201.0,743.3 L201.4,743.3 L201.8,743.3 L202.2,743.3 L202.6,743.3 L203.0,743.3 L203.4,743.3 L203.8,743.3 L204.2,743.3 L204.6,743.3 L205.0,743.3 L205.4,743.3 L205.8,743.3 L206.2,743.3 L206.6,743.3 L207.0,743.3 L207.4,743.3 L207.8,743.3 L208.2,743.3 L208.6,743.3 L209.0,743.3 L209.4,743.3 L209.8,743.3 L210.2,743.3 L210.6,743.3 L211.0,743.3 L211.4,743.3 L211.8,743.3 L212.2,743.3 L212.6,743.3 L213.0,743.3 L213.4,743.3 L213.8,743.3 L214.2,743.3 L214.6,743.3 L215.0,743.3 L215.4,743.3 L215.8,743.3 L216.2,743.3 L216.6,743.3 L217.0,743.3 L217.4,743.3 L217.8,743.3 L218.2,743.3 L218.6,743.3 L219.0,743.3 L219.4,743.3 L219.8,743.3 L220.2,743.3 L220.6,743.3 L221.0,743.3 L221.4,743.3 L221.8,743.3 L222.2,743.3 L222.6,743.3 L223.0,743.3 L223.4,743.3 L223.8,743.3 L224.2,743.3 L224.2,743.8 Z" fill="#686868" stroke="#2e2e2e" stroke-width="0.8" stroke-linejoin="round"/>
<path d="M152.2,740.6 L152.6,740.4 L153.0,740.2 L153.4,739.9 L153.8,739.7 L154.2,739.4 L154.6,739.1 L155.0,738.8 L155.4,738.4 L155.8,737.9 L156.2,737.4 L156.6,736.8 L157.0,736.3 L157.4,735.6 L157.8,734.7 L158.2,733.8 L158.6,732.9 L159.0,731.7 L159.4,730.4 L159.8,729.0 L160.2,727.2 L160.6,725.4 L161.0,723.5 L161.4,721.4 L161.8,718.9 L162.2,716.4 L162.6,713.9 L163.0,711.1 L163.4,708.1 L163.8,705.0 L164.2,702.2 L164.6,698.9 L165.0,695.6 L165.4,692.1 L165.8,689.3 L166.2,686.0 L166.6,683.0 L167.0,680.3 L167.4,677.3 L167.8,675.6 L168.2,674.3 L168.6,674.5 L169.0,675.3 L169.4,677.0 L169.8,679.5 L170.2,682.2 L170.6,684.8 L171.0,688.0 L171.4,691.4 L171.8,694.8 L172.2,699.3 L172.6,702.5 L173.0,704.9 L173.4,708.3 L173.8,711.8 L174.2,714.8 L174.6,717.8 L175.0,720.4 L175.4,723.1 L175.8,725.4 L176.2,727.5 L176.6,729.4 L177.0,731.2 L177.4,732.7 L177.8,734.0 L178.2,735.3 L178.6,736.2 L179.0,737.2 L179.4,738.2 L179.8,738.9 L180.2,739.5 L180.6,740.0 L181.0,740.5 L181.4,740.9 L181.8,741.3 L182.2,741.6 L182.6,741.8 L183.0,742.0 L183.4,742.2 L183.8,742.3 L184.2,742.4 L184.6,742.5 L185.0,742.6 L185.4,742.7 L185.8,742.7 L186.2,742.7 L186.6,742.8 L187.0,742.8 L187.4,742.8 L187.8,742.8 L188.2,742.9 L188.6,742.9 L189.0,742.9 L189.4,742.9 L189.8,742.9 L190.2,742.9 L190.6,742.9 L191.0,742.9 L191.4,742.9 L191.8,742.9 L192.2,742.9 L192.6,742.9 L193.0,742.9 L193.4,742.9 L193.8,742.9 L194.2,742.9 L194.6,742.9 L195.0,742.9 L195.4,742.9 L195.8,742.9 L196.2,742.9 L196.6,742.9 L197.0,742.9 L197.4,742.9 L197.8,742.9 L198.2,742.9 L198.6,742.9 L199.0,742.9 L199.4,742.9 L199.8,742.9 L200.2,742.9 L200.6,742.9 L201.0,742.9 L201.4,742.9 L201.8,742.9 L202.2,742.9 L202.6,742.9 L203.0,742.9 L203.4,742.9 L203.8,742.9 L204.2,742.9 L204.6,742.9 L205.0,742.9 L205.4,742.9 L205.8,742.9 L206.2,742.9 L206.6,742.9 L207.0,742.9 L207.4,742.9 L207.8,742.9 L208.2,742.9 L208.6,742.9 L209.0,742.9 L209.4,742.9 L209.8,742.9 L210.2,742.9 L210.6,742.9 L211.0,742.9 L211.4,742.9 L211.8,742.9 L212.2,742.9 L212.6,742.9 L213.0,742.9 L213.4,742.9 L213.8,742.9 L214.2,742.9 L214.6,742.9 L215.0,742.9 L215.4,742.9 L215.8,742.9 L216.2,742.9 L216.6,742.9 L217.0,742.9 L217.4,742.9 L217.8,742.9 L218.2,742.9 L218.6,742.9 L219.0,742.9 L219.4,742.9 L219.8,742.9 L220.2,742.9 L220.6,742.9 L221.0,742.9 L221.4,742.9 L221.8,742.9 L222.2,742.9 L222.6,742.9 L223.0,742.9 L223.4,742.9 L223.8,742.9 L224.2,742.9" fill="none" stroke="#474747" stroke-width="0.75" stroke-linejoin="round"/>
</g>
<rect x="151.3" y="670.0" width="74.1" height="73.8" fill="none" stroke="#000" stroke-width="1.7"/>
<text x="0" y="0" font-size="13.6" font-weight="bold" font-style="italic" text-anchor="start" transform="translate(150.70000000000002 667.2) scale(1 0.98)" >RCC#7</text>
<rect x="142.1" y="673.00" width="3.4" height="1.4" fill="#6e6e6e"/>
<rect x="142.1" y="687.02" width="3.4" height="1.4" fill="#6e6e6e"/>
<rect x="142.1" y="701.04" width="3.4" height="1.4" fill="#6e6e6e"/>
<rect x="142.1" y="715.06" width="3.4" height="1.4" fill="#6e6e6e"/>
<rect x="142.1" y="729.08" width="3.4" height="1.4" fill="#6e6e6e"/>
<rect x="145.7" y="743.60" width="1.3" height="1.3" fill="#777"/>
<rect x="150.40" y="748.50" width="1.2" height="1.3" fill="#6a6a6a"/>
<rect x="168.75" y="748.50" width="2.2" height="1.3" fill="#6a6a6a"/>
<rect x="186.40" y="748.50" width="3.2" height="1.3" fill="#6a6a6a"/>
<rect x="204.05" y="748.50" width="4.2" height="1.3" fill="#6a6a6a"/>
<rect x="221.60" y="748.50" width="5.4" height="1.3" fill="#6a6a6a"/>
<clipPath id="cl32"><rect x="247.1" y="670.0" width="74.1" height="73.8"/></clipPath>
<g clip-path="url(#cl32)">
<path d="M248.0,743.8 L248.0,743.3 L248.4,743.3 L248.8,743.3 L249.2,743.3 L249.6,743.3 L250.0,743.3 L250.4,743.3 L250.8,743.3 L251.2,743.3 L251.6,743.3 L252.0,743.3 L252.4,743.3 L252.8,743.3 L253.2,743.3 L253.6,743.3 L254.0,743.3 L254.4,743.3 L254.8,743.3 L255.2,743.3 L255.6,743.3 L256.0,743.3 L256.4,743.3 L256.8,743.3 L257.2,743.3 L257.6,743.3 L258.0,743.3 L258.4,743.3 L258.8,743.3 L259.2,743.3 L259.6,743.3 L260.0,743.3 L260.4,743.3 L260.8,743.3 L261.2,743.3 L261.6,743.3 L262.0,743.3 L262.4,743.3 L262.8,743.3 L263.2,743.3 L263.6,743.3 L264.0,743.3 L264.4,743.3 L264.8,743.3 L265.2,743.3 L265.6,743.3 L266.0,743.3 L266.4,743.3 L266.8,743.3 L267.2,743.3 L267.6,743.3 L268.0,743.3 L268.4,743.3 L268.8,743.3 L269.2,743.3 L269.6,743.3 L270.0,743.3 L270.4,743.3 L270.8,743.3 L271.2,743.3 L271.6,743.2 L272.0,743.2 L272.4,743.2 L272.8,743.1 L273.2,743.1 L273.6,743.0 L274.0,742.9 L274.4,742.7 L274.8,742.5 L275.2,742.2 L275.6,741.9 L276.0,741.4 L276.4,740.8 L276.8,740.2 L277.2,739.3 L277.6,738.4 L278.0,737.1 L278.4,735.7 L278.8,734.0 L279.2,731.9 L279.6,729.8 L280.0,727.5 L280.4,724.6 L280.8,722.0 L281.2,718.8 L281.6,715.2 L282.0,711.4 L282.4,707.7 L282.8,703.9 L283.2,699.6 L283.6,695.5 L284.0,690.1 L284.4,686.1 L284.8,684.8 L285.2,682.3 L285.6,681.0 L286.0,679.3 L286.4,676.0 L286.8,675.4 L287.2,674.1 L287.6,674.0 L288.0,676.6 L288.4,678.1 L288.8,679.1 L289.2,681.7 L289.6,686.0 L290.0,689.3 L290.4,692.4 L290.8,695.6 L291.2,697.4 L291.6,701.1 L292.0,705.8 L292.4,709.3 L292.8,712.1 L293.2,715.2 L293.6,718.2 L294.0,721.1 L294.4,724.0 L294.8,726.5 L295.2,729.0 L295.6,730.9 L296.0,732.7 L296.4,734.3 L296.8,735.3 L297.2,736.6 L297.6,737.8 L298.0,738.8 L298.4,739.5 L298.8,740.2 L299.2,740.9 L299.6,741.4 L300.0,741.7 L300.4,742.0 L300.8,742.3 L301.2,742.5 L301.6,742.7 L302.0,742.8 L302.4,742.9 L302.8,743.0 L303.2,743.1 L303.6,743.1 L304.0,743.2 L304.4,743.2 L304.8,743.2 L305.2,743.3 L305.6,743.3 L306.0,743.3 L306.4,743.3 L306.8,743.3 L307.2,743.3 L307.6,743.3 L308.0,743.3 L308.4,743.3 L308.8,743.3 L309.2,743.3 L309.6,743.3 L310.0,743.3 L310.4,743.3 L310.8,743.3 L311.2,743.3 L311.6,743.3 L312.0,743.3 L312.4,743.3 L312.8,743.3 L313.2,743.3 L313.6,743.3 L314.0,743.3 L314.4,743.3 L314.8,743.3 L315.2,743.3 L315.6,743.3 L316.0,743.3 L316.4,743.3 L316.8,743.3 L317.2,743.3 L317.6,743.3 L318.0,743.3 L318.4,743.3 L318.8,743.3 L319.2,743.3 L319.6,743.3 L320.0,743.3 L320.0,743.8 Z" fill="#686868" stroke="#2e2e2e" stroke-width="0.8" stroke-linejoin="round"/>
<path d="M248.0,741.7 L248.4,741.6 L248.8,741.5 L249.2,741.4 L249.6,741.3 L250.0,741.2 L250.4,741.2 L250.8,741.1 L251.2,741.0 L251.6,740.9 L252.0,740.8 L252.4,740.6 L252.8,740.5 L253.2,740.3 L253.6,740.1 L254.0,739.8 L254.4,739.6 L254.8,739.3 L255.2,738.7 L255.6,738.2 L256.0,737.7 L256.4,737.0 L256.8,736.0 L257.2,735.1 L257.6,734.1 L258.0,732.8 L258.4,731.1 L258.8,729.4 L259.2,727.5 L259.6,725.2 L260.0,722.5 L260.4,719.7 L260.8,716.5 L261.2,713.0 L261.6,709.1 L262.0,705.1 L262.4,700.6 L262.8,695.9 L263.2,691.1 L263.6,686.1 L264.0,681.5 L264.4,677.2 L264.8,674.4 L265.2,678.4 L265.6,682.7 L266.0,687.9 L266.4,693.2 L266.8,697.9 L267.2,702.1 L267.6,706.4 L268.0,710.7 L268.4,714.2 L268.8,716.8 L269.2,719.9 L269.6,722.5 L270.0,724.9 L270.4,727.4 L270.8,729.3 L271.2,730.6 L271.6,732.2 L272.0,733.6 L272.4,734.8 L272.8,735.8 L273.2,736.7 L273.6,737.5 L274.0,738.2 L274.4,738.8 L274.8,739.4 L275.2,739.8 L275.6,740.3 L276.0,740.6 L276.4,740.9 L276.8,741.2 L277.2,741.5 L277.6,741.7 L278.0,741.8 L278.4,742.0 L278.8,742.1 L279.2,742.2 L279.6,742.3 L280.0,742.4 L280.4,742.5 L280.8,742.5 L281.2,742.6 L281.6,742.6 L282.0,742.7 L282.4,742.7 L282.8,742.7 L283.2,742.8 L283.6,742.8 L284.0,742.8 L284.4,742.8 L284.8,742.8 L285.2,742.8 L285.6,742.8 L286.0,742.9 L286.4,742.9 L286.8,742.9 L287.2,742.9 L287.6,742.9 L288.0,742.9 L288.4,742.9 L288.8,742.9 L289.2,742.9 L289.6,742.9 L290.0,742.9 L290.4,742.9 L290.8,742.9 L291.2,742.9 L291.6,742.9 L292.0,742.9 L292.4,742.9 L292.8,742.9 L293.2,742.9 L293.6,742.9 L294.0,742.9 L294.4,742.9 L294.8,742.9 L295.2,742.9 L295.6,742.9 L296.0,742.9 L296.4,742.9 L296.8,742.9 L297.2,742.9 L297.6,742.9 L298.0,742.9 L298.4,742.9 L298.8,742.9 L299.2,742.9 L299.6,742.9 L300.0,742.9 L300.4,742.9 L300.8,742.9 L301.2,742.9 L301.6,742.9 L302.0,742.9 L302.4,742.9 L302.8,742.9 L303.2,742.9 L303.6,742.9 L304.0,742.9 L304.4,742.9 L304.8,742.9 L305.2,742.9 L305.6,742.9 L306.0,742.9 L306.4,742.9 L306.8,742.9 L307.2,742.9 L307.6,742.9 L308.0,742.9 L308.4,742.9 L308.8,742.9 L309.2,742.9 L309.6,742.9 L310.0,742.9 L310.4,742.9 L310.8,742.9 L311.2,742.9 L311.6,742.9 L312.0,742.9 L312.4,742.9 L312.8,742.9 L313.2,742.9 L313.6,742.9 L314.0,742.9 L314.4,742.9 L314.8,742.9 L315.2,742.9 L315.6,742.9 L316.0,742.9 L316.4,742.9 L316.8,742.9 L317.2,742.9 L317.6,742.9 L318.0,742.9 L318.4,742.9 L318.8,742.9 L319.2,742.9 L319.6,742.9 L320.0,742.9" fill="none" stroke="#474747" stroke-width="0.75" stroke-linejoin="round"/>
</g>
<rect x="247.1" y="670.0" width="74.1" height="73.8" fill="none" stroke="#000" stroke-width="1.7"/>
<text x="0" y="0" font-size="13.6" font-weight="bold" font-style="italic" text-anchor="start" transform="translate(246.5 667.2) scale(1 0.98)" >RCC#8</text>
<rect x="237.9" y="673.00" width="3.4" height="1.4" fill="#6e6e6e"/>
<rect x="237.9" y="687.02" width="3.4" height="1.4" fill="#6e6e6e"/>
<rect x="237.9" y="701.04" width="3.4" height="1.4" fill="#6e6e6e"/>
<rect x="237.9" y="715.06" width="3.4" height="1.4" fill="#6e6e6e"/>
<rect x="237.9" y="729.08" width="3.4" height="1.4" fill="#6e6e6e"/>
<rect x="241.5" y="743.60" width="1.3" height="1.3" fill="#777"/>
<rect x="246.20" y="748.50" width="1.2" height="1.3" fill="#6a6a6a"/>
<rect x="264.55" y="748.50" width="2.2" height="1.3" fill="#6a6a6a"/>
<rect x="282.20" y="748.50" width="3.2" height="1.3" fill="#6a6a6a"/>
<rect x="299.85" y="748.50" width="4.2" height="1.3" fill="#6a6a6a"/>
<rect x="317.40" y="748.50" width="5.4" height="1.3" fill="#6a6a6a"/>
<clipPath id="cl33"><rect x="343.0" y="670.0" width="74.1" height="73.8"/></clipPath>
<g clip-path="url(#cl33)">
<path d="M343.9,743.8 L343.9,743.3 L344.3,743.3 L344.7,743.3 L345.1,743.3 L345.5,743.3 L345.9,743.3 L346.3,743.3 L346.7,743.3 L347.1,743.3 L347.5,743.3 L347.9,743.3 L348.3,743.3 L348.7,743.3 L349.1,743.3 L349.5,743.3 L349.9,743.3 L350.3,743.3 L350.7,743.3 L351.1,743.3 L351.5,743.3 L351.9,743.3 L352.3,743.3 L352.7,743.3 L353.1,743.3 L353.5,743.3 L353.9,743.3 L354.3,743.3 L354.7,743.3 L355.1,743.3 L355.5,743.3 L355.9,743.3 L356.3,743.3 L356.7,743.3 L357.1,743.3 L357.5,743.3 L357.9,743.3 L358.3,743.3 L358.7,743.3 L359.1,743.3 L359.5,743.3 L359.9,743.3 L360.3,743.3 L360.7,743.3 L361.1,743.3 L361.5,743.3 L361.9,743.3 L362.3,743.3 L362.7,743.3 L363.1,743.3 L363.5,743.3 L363.9,743.3 L364.3,743.3 L364.7,743.3 L365.1,743.3 L365.5,743.3 L365.9,743.3 L366.3,743.3 L366.7,743.3 L367.1,743.3 L367.5,743.3 L367.9,743.3 L368.3,743.3 L368.7,743.3 L369.1,743.3 L369.5,743.3 L369.9,743.3 L370.3,743.3 L370.7,743.3 L371.1,743.3 L371.5,743.3 L371.9,743.3 L372.3,743.3 L372.7,743.3 L373.1,743.2 L373.5,743.2 L373.9,743.1 L374.3,742.9 L374.7,742.7 L375.1,742.4 L375.5,741.8 L375.9,741.2 L376.3,740.1 L376.7,738.8 L377.1,737.0 L377.5,734.9 L377.9,732.2 L378.3,729.0 L378.7,725.3 L379.1,721.2 L379.5,716.5 L379.9,709.6 L380.3,704.4 L380.7,699.4 L381.1,693.9 L381.5,689.8 L381.9,685.4 L382.3,683.7 L382.7,680.7 L383.1,679.0 L383.5,677.5 L383.9,676.6 L384.3,676.6 L384.7,676.0 L385.1,677.0 L385.5,679.1 L385.9,681.4 L386.3,682.6 L386.7,685.5 L387.1,688.7 L387.5,691.7 L387.9,695.4 L388.3,698.8 L388.7,701.5 L389.1,705.1 L389.5,709.2 L389.9,712.8 L390.3,716.3 L390.7,719.4 L391.1,722.5 L391.5,725.3 L391.9,727.7 L392.3,730.0 L392.7,731.9 L393.1,733.7 L393.5,735.5 L393.9,736.9 L394.3,738.1 L394.7,739.1 L395.1,739.8 L395.5,740.5 L395.9,741.1 L396.3,741.6 L396.7,741.9 L397.1,742.2 L397.5,742.5 L397.9,742.7 L398.3,742.8 L398.7,742.9 L399.1,743.0 L399.5,743.1 L399.9,743.2 L400.3,743.2 L400.7,743.2 L401.1,743.2 L401.5,743.3 L401.9,743.3 L402.3,743.3 L402.7,743.3 L403.1,743.3 L403.5,743.3 L403.9,743.3 L404.3,743.3 L404.7,743.3 L405.1,743.3 L405.5,743.3 L405.9,743.3 L406.3,743.3 L406.7,743.3 L407.1,743.3 L407.5,743.3 L407.9,743.3 L408.3,743.3 L408.7,743.3 L409.1,743.3 L409.5,743.3 L409.9,743.3 L410.3,743.3 L410.7,743.3 L411.1,743.3 L411.5,743.3 L411.9,743.3 L412.3,743.3 L412.7,743.3 L413.1,743.3 L413.5,743.3 L413.9,743.3 L414.3,743.3 L414.7,743.3 L415.1,743.3 L415.5,743.3 L415.9,743.3 L415.9,743.8 Z" fill="#686868" stroke="#2e2e2e" stroke-width="0.8" stroke-linejoin="round"/>
<path d="M343.9,740.8 L344.3,740.6 L344.7,740.4 L345.1,740.2 L345.5,740.0 L345.9,739.7 L346.3,739.5 L346.7,739.1 L347.1,738.9 L347.5,738.5 L347.9,738.0 L348.3,737.5 L348.7,736.9 L349.1,736.2 L349.5,735.4 L349.9,734.5 L350.3,733.4 L350.7,732.3 L351.1,731.0 L351.5,729.6 L351.9,727.9 L352.3,726.0 L352.7,724.0 L353.1,721.9 L353.5,719.7 L353.9,717.2 L354.3,714.3 L354.7,711.4 L355.1,708.6 L355.5,705.4 L355.9,701.5 L356.3,698.1 L356.7,695.1 L357.1,691.8 L357.5,688.1 L357.9,685.2 L358.3,682.6 L358.7,679.8 L359.1,678.0 L359.5,676.4 L359.9,673.9 L360.3,674.3 L360.7,677.0 L361.1,679.5 L361.5,682.0 L361.9,685.3 L362.3,688.8 L362.7,692.7 L363.1,697.5 L363.5,701.4 L363.9,704.8 L364.3,708.5 L364.7,712.5 L365.1,715.9 L365.5,719.0 L365.9,721.8 L366.3,724.1 L366.7,726.6 L367.1,729.1 L367.5,731.0 L367.9,732.4 L368.3,734.0 L368.7,735.5 L369.1,736.7 L369.5,737.6 L369.9,738.5 L370.3,739.2 L370.7,739.8 L371.1,740.4 L371.5,740.9 L371.9,741.2 L372.3,741.6 L372.7,741.8 L373.1,742.0 L373.5,742.2 L373.9,742.3 L374.3,742.5 L374.7,742.6 L375.1,742.6 L375.5,742.7 L375.9,742.7 L376.3,742.8 L376.7,742.8 L377.1,742.8 L377.5,742.8 L377.9,742.9 L378.3,742.9 L378.7,742.9 L379.1,742.9 L379.5,742.9 L379.9,742.9 L380.3,742.9 L380.7,742.9 L381.1,742.9 L381.5,742.9 L381.9,742.9 L382.3,742.9 L382.7,742.9 L383.1,742.9 L383.5,742.9 L383.9,742.9 L384.3,742.9 L384.7,742.9 L385.1,742.9 L385.5,742.9 L385.9,742.9 L386.3,742.9 L386.7,742.9 L387.1,742.9 L387.5,742.9 L387.9,742.9 L388.3,742.9 L388.7,742.9 L389.1,742.9 L389.5,742.9 L389.9,742.9 L390.3,742.9 L390.7,742.9 L391.1,742.9 L391.5,742.9 L391.9,742.9 L392.3,742.9 L392.7,742.9 L393.1,742.9 L393.5,742.9 L393.9,742.9 L394.3,742.9 L394.7,742.9 L395.1,742.9 L395.5,742.9 L395.9,742.9 L396.3,742.9 L396.7,742.9 L397.1,742.9 L397.5,742.9 L397.9,742.9 L398.3,742.9 L398.7,742.9 L399.1,742.9 L399.5,742.9 L399.9,742.9 L400.3,742.9 L400.7,742.9 L401.1,742.9 L401.5,742.9 L401.9,742.9 L402.3,742.9 L402.7,742.9 L403.1,742.9 L403.5,742.9 L403.9,742.9 L404.3,742.9 L404.7,742.9 L405.1,742.9 L405.5,742.9 L405.9,742.9 L406.3,742.9 L406.7,742.9 L407.1,742.9 L407.5,742.9 L407.9,742.9 L408.3,742.9 L408.7,742.9 L409.1,742.9 L409.5,742.9 L409.9,742.9 L410.3,742.9 L410.7,742.9 L411.1,742.9 L411.5,742.9 L411.9,742.9 L412.3,742.9 L412.7,742.9 L413.1,742.9 L413.5,742.9 L413.9,742.9 L414.3,742.9 L414.7,742.9 L415.1,742.9 L415.5,742.9 L415.9,742.9" fill="none" stroke="#474747" stroke-width="0.75" stroke-linejoin="round"/>
</g>
<rect x="343.0" y="670.0" width="74.1" height="73.8" fill="none" stroke="#000" stroke-width="1.7"/>
<text x="0" y="0" font-size="13.6" font-weight="bold" font-style="italic" text-anchor="start" transform="translate(342.4 667.2) scale(1 0.98)" >RCC#9</text>
<rect x="333.8" y="673.00" width="3.4" height="1.4" fill="#6e6e6e"/>
<rect x="333.8" y="687.02" width="3.4" height="1.4" fill="#6e6e6e"/>
<rect x="333.8" y="701.04" width="3.4" height="1.4" fill="#6e6e6e"/>
<rect x="333.8" y="715.06" width="3.4" height="1.4" fill="#6e6e6e"/>
<rect x="333.8" y="729.08" width="3.4" height="1.4" fill="#6e6e6e"/>
<rect x="337.4" y="743.60" width="1.3" height="1.3" fill="#777"/>
<rect x="342.10" y="748.50" width="1.2" height="1.3" fill="#6a6a6a"/>
<rect x="360.45" y="748.50" width="2.2" height="1.3" fill="#6a6a6a"/>
<rect x="378.10" y="748.50" width="3.2" height="1.3" fill="#6a6a6a"/>
<rect x="395.75" y="748.50" width="4.2" height="1.3" fill="#6a6a6a"/>
<rect x="413.30" y="748.50" width="5.4" height="1.3" fill="#6a6a6a"/>
<clipPath id="cl34"><rect x="438.7" y="670.0" width="74.1" height="73.8"/></clipPath>
<g clip-path="url(#cl34)">
<path d="M439.6,743.8 L439.6,743.3 L440.0,743.3 L440.4,743.3 L440.8,743.3 L441.2,743.3 L441.6,743.3 L442.0,743.3 L442.4,743.3 L442.8,743.3 L443.2,743.3 L443.6,743.3 L444.0,743.3 L444.4,743.3 L444.8,743.3 L445.2,743.3 L445.6,743.3 L446.0,743.3 L446.4,743.3 L446.8,743.3 L447.2,743.3 L447.6,743.2 L448.0,743.2 L448.4,743.2 L448.8,743.2 L449.2,743.2 L449.6,743.1 L450.0,743.1 L450.4,743.1 L450.8,743.0 L451.2,743.0 L451.6,742.9 L452.0,742.8 L452.4,742.8 L452.8,742.7 L453.2,742.6 L453.6,742.5 L454.0,742.3 L454.4,742.2 L454.8,742.0 L455.2,741.9 L455.6,741.7 L456.0,741.5 L456.4,741.3 L456.8,741.1 L457.2,740.9 L457.6,740.6 L458.0,740.5 L458.4,740.2 L458.8,740.0 L459.2,739.8 L459.6,739.6 L460.0,739.3 L460.4,739.0 L460.8,738.8 L461.2,738.5 L461.6,738.2 L462.0,737.8 L462.4,737.4 L462.8,737.0 L463.2,736.5 L463.6,736.0 L464.0,735.4 L464.4,734.8 L464.8,734.1 L465.2,733.3 L465.6,732.3 L466.0,731.3 L466.4,730.1 L466.8,728.2 L467.2,726.6 L467.6,725.2 L468.0,723.3 L468.4,721.0 L468.8,718.7 L469.2,716.3 L469.6,713.5 L470.0,711.8 L470.4,708.8 L470.8,706.0 L471.2,702.9 L471.6,699.3 L472.0,696.4 L472.4,690.8 L472.8,687.6 L473.2,684.7 L473.6,681.9 L474.0,680.4 L474.4,678.4 L474.8,675.3 L475.2,674.0 L475.6,676.2 L476.0,677.3 L476.4,676.8 L476.8,678.6 L477.2,683.9 L477.6,686.7 L478.0,687.0 L478.4,690.3 L478.8,692.3 L479.2,695.8 L479.6,700.3 L480.0,703.5 L480.4,706.2 L480.8,709.3 L481.2,712.8 L481.6,715.3 L482.0,717.7 L482.4,720.2 L482.8,722.4 L483.2,724.5 L483.6,726.5 L484.0,728.3 L484.4,730.2 L484.8,731.7 L485.2,733.0 L485.6,734.1 L486.0,735.4 L486.4,736.4 L486.8,737.1 L487.2,738.0 L487.6,738.7 L488.0,739.4 L488.4,740.0 L488.8,740.4 L489.2,740.8 L489.6,741.1 L490.0,741.5 L490.4,741.8 L490.8,742.0 L491.2,742.2 L491.6,742.4 L492.0,742.5 L492.4,742.7 L492.8,742.8 L493.2,742.9 L493.6,742.9 L494.0,743.0 L494.4,743.1 L494.8,743.1 L495.2,743.1 L495.6,743.2 L496.0,743.2 L496.4,743.2 L496.8,743.2 L497.2,743.2 L497.6,743.3 L498.0,743.3 L498.4,743.3 L498.8,743.3 L499.2,743.3 L499.6,743.3 L500.0,743.3 L500.4,743.3 L500.8,743.3 L501.2,743.3 L501.6,743.3 L502.0,743.3 L502.4,743.3 L502.8,743.3 L503.2,743.3 L503.6,743.3 L504.0,743.3 L504.4,743.3 L504.8,743.3 L505.2,743.3 L505.6,743.3 L506.0,743.3 L506.4,743.3 L506.8,743.3 L507.2,743.3 L507.6,743.3 L508.0,743.3 L508.4,743.3 L508.8,743.3 L509.2,743.3 L509.6,743.3 L510.0,743.3 L510.4,743.3 L510.8,743.3 L511.2,743.3 L511.6,743.3 L511.6,743.8 Z" fill="#686868" stroke="#2e2e2e" stroke-width="0.8" stroke-linejoin="round"/>
<path d="M439.6,741.6 L440.0,741.4 L440.4,741.1 L440.8,740.9 L441.2,740.5 L441.6,740.2 L442.0,740.0 L442.4,739.7 L442.8,739.5 L443.2,739.3 L443.6,739.1 L444.0,738.9 L444.4,738.9 L444.8,738.7 L445.2,738.5 L445.6,738.3 L446.0,738.1 L446.4,737.8 L446.8,737.3 L447.2,736.8 L447.6,736.1 L448.0,735.2 L448.4,734.3 L448.8,733.0 L449.2,731.5 L449.6,729.8 L450.0,727.9 L450.4,725.7 L450.8,723.6 L451.2,721.0 L451.6,717.9 L452.0,714.7 L452.4,711.2 L452.8,707.7 L453.2,703.8 L453.6,699.9 L454.0,696.3 L454.4,692.3 L454.8,689.5 L455.2,686.0 L455.6,681.5 L456.0,678.6 L456.4,676.8 L456.8,675.0 L457.2,674.2 L457.6,674.7 L458.0,677.1 L458.4,679.5 L458.8,681.6 L459.2,685.0 L459.6,688.7 L460.0,692.9 L460.4,697.9 L460.8,701.8 L461.2,705.4 L461.6,709.3 L462.0,713.0 L462.4,716.4 L462.8,719.7 L463.2,722.7 L463.6,725.6 L464.0,728.1 L464.4,730.3 L464.8,732.2 L465.2,734.0 L465.6,735.5 L466.0,736.6 L466.4,737.7 L466.8,738.6 L467.2,739.4 L467.6,740.1 L468.0,740.6 L468.4,741.1 L468.8,741.4 L469.2,741.7 L469.6,742.0 L470.0,742.2 L470.4,742.3 L470.8,742.5 L471.2,742.6 L471.6,742.6 L472.0,742.7 L472.4,742.8 L472.8,742.8 L473.2,742.8 L473.6,742.8 L474.0,742.9 L474.4,742.9 L474.8,742.9 L475.2,742.9 L475.6,742.9 L476.0,742.9 L476.4,742.9 L476.8,742.9 L477.2,742.9 L477.6,742.9 L478.0,742.9 L478.4,742.9 L478.8,742.9 L479.2,742.9 L479.6,742.9 L480.0,742.9 L480.4,742.9 L480.8,742.9 L481.2,742.9 L481.6,742.9 L482.0,742.9 L482.4,742.9 L482.8,742.9 L483.2,742.9 L483.6,742.9 L484.0,742.9 L484.4,742.9 L484.8,742.9 L485.2,742.9 L485.6,742.9 L486.0,742.9 L486.4,742.9 L486.8,742.9 L487.2,742.9 L487.6,742.9 L488.0,742.9 L488.4,742.9 L488.8,742.9 L489.2,742.9 L489.6,742.9 L490.0,742.9 L490.4,742.9 L490.8,742.9 L491.2,742.9 L491.6,742.9 L492.0,742.9 L492.4,742.9 L492.8,742.9 L493.2,742.9 L493.6,742.9 L494.0,742.9 L494.4,742.9 L494.8,742.9 L495.2,742.9 L495.6,742.9 L496.0,742.9 L496.4,742.9 L496.8,742.9 L497.2,742.9 L497.6,742.9 L498.0,742.9 L498.4,742.9 L498.8,742.9 L499.2,742.9 L499.6,742.9 L500.0,742.9 L500.4,742.9 L500.8,742.9 L501.2,742.9 L501.6,742.9 L502.0,742.9 L502.4,742.9 L502.8,742.9 L503.2,742.9 L503.6,742.9 L504.0,742.9 L504.4,742.9 L504.8,742.9 L505.2,742.9 L505.6,742.9 L506.0,742.9 L506.4,742.9 L506.8,742.9 L507.2,742.9 L507.6,742.9 L508.0,742.9 L508.4,742.9 L508.8,742.9 L509.2,742.9 L509.6,742.9 L510.0,742.9 L510.4,742.9 L510.8,742.9 L511.2,742.9 L511.6,742.9" fill="none" stroke="#474747" stroke-width="0.75" stroke-linejoin="round"/>
</g>
<rect x="438.7" y="670.0" width="74.1" height="73.8" fill="none" stroke="#000" stroke-width="1.7"/>
<text x="0" y="0" font-size="13.6" font-weight="bold" font-style="italic" text-anchor="start" transform="translate(438.09999999999997 667.2) scale(1 0.98)" >RCC#10</text>
<rect x="429.5" y="673.00" width="3.4" height="1.4" fill="#6e6e6e"/>
<rect x="429.5" y="687.02" width="3.4" height="1.4" fill="#6e6e6e"/>
<rect x="429.5" y="701.04" width="3.4" height="1.4" fill="#6e6e6e"/>
<rect x="429.5" y="715.06" width="3.4" height="1.4" fill="#6e6e6e"/>
<rect x="429.5" y="729.08" width="3.4" height="1.4" fill="#6e6e6e"/>
<rect x="433.1" y="743.60" width="1.3" height="1.3" fill="#777"/>
<rect x="437.80" y="748.50" width="1.2" height="1.3" fill="#6a6a6a"/>
<rect x="456.15" y="748.50" width="2.2" height="1.3" fill="#6a6a6a"/>
<rect x="473.80" y="748.50" width="3.2" height="1.3" fill="#6a6a6a"/>
<rect x="491.45" y="748.50" width="4.2" height="1.3" fill="#6a6a6a"/>
<rect x="509.00" y="748.50" width="5.4" height="1.3" fill="#6a6a6a"/>
<clipPath id="cl40"><rect x="55.7" y="768.9" width="74.1" height="73.9"/></clipPath>
<g clip-path="url(#cl40)">
<path d="M56.6,842.8 L56.6,842.3 L57.0,842.3 L57.4,842.3 L57.8,842.3 L58.2,842.3 L58.6,842.3 L59.0,842.3 L59.4,842.3 L59.8,842.3 L60.2,842.3 L60.6,842.3 L61.0,842.1 L61.4,841.8 L61.8,841.4 L62.2,841.0 L62.6,840.6 L63.0,840.1 L63.4,839.8 L63.8,839.5 L64.2,839.1 L64.6,838.9 L65.0,838.6 L65.4,837.8 L65.8,837.2 L66.2,836.1 L66.6,834.3 L67.0,832.0 L67.4,830.2 L67.8,828.2 L68.2,825.1 L68.6,821.2 L69.0,816.1 L69.4,809.4 L69.8,804.2 L70.2,801.1 L70.6,795.7 L71.0,788.9 L71.4,784.2 L71.8,783.6 L72.2,780.4 L72.6,773.3 L73.0,772.6 L73.4,777.0 L73.8,776.6 L74.2,775.1 L74.6,777.6 L75.0,778.0 L75.4,781.2 L75.8,783.3 L76.2,786.0 L76.6,792.1 L77.0,794.3 L77.4,793.5 L77.8,796.0 L78.2,797.5 L78.6,796.9 L79.0,797.4 L79.4,795.3 L79.8,792.0 L80.2,791.1 L80.6,792.3 L81.0,791.5 L81.4,790.4 L81.8,789.2 L82.2,788.8 L82.6,787.2 L83.0,785.0 L83.4,783.9 L83.8,780.3 L84.2,779.9 L84.6,780.6 L85.0,780.2 L85.4,777.1 L85.8,777.7 L86.2,778.8 L86.6,779.2 L87.0,784.3 L87.4,785.4 L87.8,785.1 L88.2,786.6 L88.6,791.3 L89.0,794.2 L89.4,795.2 L89.8,799.6 L90.2,803.4 L90.6,807.6 L91.0,811.2 L91.4,814.2 L91.8,818.4 L92.2,821.3 L92.6,823.0 L93.0,825.9 L93.4,829.2 L93.8,831.3 L94.2,832.8 L94.6,834.7 L95.0,836.7 L95.4,837.8 L95.8,838.7 L96.2,839.4 L96.6,839.9 L97.0,840.6 L97.4,841.4 L97.8,842.0 L98.2,842.3 L98.6,842.3 L99.0,842.3 L99.4,842.3 L99.8,842.3 L100.2,842.3 L100.6,842.3 L101.0,842.3 L101.4,842.3 L101.8,842.3 L102.2,842.3 L102.6,842.3 L103.0,842.3 L103.4,842.3 L103.8,842.3 L104.2,842.3 L104.6,842.3 L105.0,842.3 L105.4,842.3 L105.8,842.3 L106.2,842.3 L106.6,842.3 L107.0,842.3 L107.4,842.3 L107.8,842.3 L108.2,842.3 L108.6,842.3 L109.0,842.3 L109.4,842.3 L109.8,842.3 L110.2,842.3 L110.6,842.3 L111.0,842.3 L111.4,842.3 L111.8,842.3 L112.2,842.3 L112.6,842.3 L113.0,842.3 L113.4,842.3 L113.8,842.3 L114.2,842.3 L114.6,842.3 L115.0,842.3 L115.4,842.3 L115.8,842.3 L116.2,842.3 L116.6,842.3 L117.0,842.3 L117.4,842.3 L117.8,842.3 L118.2,842.3 L118.6,842.3 L119.0,842.3 L119.4,842.3 L119.8,842.3 L120.2,842.3 L120.6,842.3 L121.0,842.3 L121.4,842.3 L121.8,842.3 L122.2,842.3 L122.6,842.3 L123.0,842.3 L123.4,842.3 L123.8,842.3 L124.2,842.3 L124.6,842.3 L125.0,842.3 L125.4,842.3 L125.8,842.3 L126.2,842.3 L126.6,842.3 L127.0,842.3 L127.4,842.3 L127.8,842.3 L128.2,842.3 L128.6,842.3 L128.6,842.8 Z" fill="#686868" stroke="#2e2e2e" stroke-width="0.8" stroke-linejoin="round"/>
<path d="M56.6,841.9 L57.0,841.9 L57.4,841.9 L57.8,841.9 L58.2,841.9 L58.6,841.8 L59.0,841.5 L59.4,841.2 L59.8,840.9 L60.2,840.7 L60.6,840.4 L61.0,840.2 L61.4,840.0 L61.8,839.7 L62.2,839.4 L62.6,838.9 L63.0,838.4 L63.4,837.9 L63.8,837.4 L64.2,836.7 L64.6,835.4 L65.0,833.7 L65.4,831.7 L65.8,829.8 L66.2,828.0 L66.6,825.6 L67.0,822.5 L67.4,818.6 L67.8,814.7 L68.2,810.7 L68.6,805.9 L69.0,800.6 L69.4,795.3 L69.8,789.8 L70.2,784.5 L70.6,780.6 L71.0,779.2 L71.4,776.2 L71.8,773.6 L72.2,773.2 L72.6,774.2 L73.0,774.9 L73.4,776.2 L73.8,778.1 L74.2,780.3 L74.6,784.5 L75.0,790.0 L75.4,796.0 L75.8,802.9 L76.2,809.3 L76.6,814.7 L77.0,820.5 L77.4,825.5 L77.8,828.7 L78.2,831.1 L78.6,833.5 L79.0,835.5 L79.4,836.7 L79.8,837.6 L80.2,838.5 L80.6,839.3 L81.0,840.2 L81.4,841.1 L81.8,841.7 L82.2,841.9 L82.6,841.9 L83.0,841.9 L83.4,841.9 L83.8,841.9 L84.2,841.9 L84.6,841.9 L85.0,841.9 L85.4,841.9 L85.8,841.9 L86.2,841.9 L86.6,841.9 L87.0,841.9 L87.4,841.9 L87.8,841.9 L88.2,841.9 L88.6,841.9 L89.0,841.9 L89.4,841.9 L89.8,841.9 L90.2,841.9 L90.6,841.9 L91.0,841.9 L91.4,841.9 L91.8,841.9 L92.2,841.9 L92.6,841.9 L93.0,841.9 L93.4,841.9 L93.8,841.9 L94.2,841.9 L94.6,841.9 L95.0,841.9 L95.4,841.9 L95.8,841.9 L96.2,841.9 L96.6,841.9 L97.0,841.9 L97.4,841.9 L97.8,841.9 L98.2,841.9 L98.6,841.9 L99.0,841.9 L99.4,841.9 L99.8,841.9 L100.2,841.9 L100.6,841.9 L101.0,841.9 L101.4,841.9 L101.8,841.9 L102.2,841.9 L102.6,841.9 L103.0,841.9 L103.4,841.9 L103.8,841.9 L104.2,841.9 L104.6,841.9 L105.0,841.9 L105.4,841.9 L105.8,841.9 L106.2,841.9 L106.6,841.9 L107.0,841.9 L107.4,841.9 L107.8,841.9 L108.2,841.9 L108.6,841.9 L109.0,841.9 L109.4,841.9 L109.8,841.9 L110.2,841.9 L110.6,841.9 L111.0,841.9 L111.4,841.9 L111.8,841.9 L112.2,841.9 L112.6,841.9 L113.0,841.9 L113.4,841.9 L113.8,841.9 L114.2,841.9 L114.6,841.9 L115.0,841.9 L115.4,841.9 L115.8,841.9 L116.2,841.9 L116.6,841.9 L117.0,841.9 L117.4,841.9 L117.8,841.9 L118.2,841.9 L118.6,841.9 L119.0,841.9 L119.4,841.9 L119.8,841.9 L120.2,841.9 L120.6,841.9 L121.0,841.9 L121.4,841.9 L121.8,841.9 L122.2,841.9 L122.6,841.9 L123.0,841.9 L123.4,841.9 L123.8,841.9 L124.2,841.9 L124.6,841.9 L125.0,841.9 L125.4,841.9 L125.8,841.9 L126.2,841.9 L126.6,841.9 L127.0,841.9 L127.4,841.9 L127.8,841.9 L128.2,841.9 L128.6,841.9" fill="none" stroke="#474747" stroke-width="0.75" stroke-linejoin="round"/>
</g>
<rect x="55.7" y="768.9" width="74.1" height="73.9" fill="none" stroke="#000" stroke-width="1.7"/>
<text x="0" y="0" font-size="13.6" font-weight="bold" font-style="italic" text-anchor="start" transform="translate(55.1 766.3) scale(1 0.98)" >RCC#11</text>
<rect x="46.5" y="771.90" width="3.4" height="1.4" fill="#6e6e6e"/>
<rect x="46.5" y="785.94" width="3.4" height="1.4" fill="#6e6e6e"/>
<rect x="46.5" y="799.98" width="3.4" height="1.4" fill="#6e6e6e"/>
<rect x="46.5" y="814.02" width="3.4" height="1.4" fill="#6e6e6e"/>
<rect x="46.5" y="828.06" width="3.4" height="1.4" fill="#6e6e6e"/>
<rect x="50.1" y="842.60" width="1.3" height="1.3" fill="#777"/>
<rect x="54.80" y="847.50" width="1.2" height="1.3" fill="#6a6a6a"/>
<rect x="73.15" y="847.50" width="2.2" height="1.3" fill="#6a6a6a"/>
<rect x="90.80" y="847.50" width="3.2" height="1.3" fill="#6a6a6a"/>
<rect x="108.45" y="847.50" width="4.2" height="1.3" fill="#6a6a6a"/>
<rect x="126.00" y="847.50" width="5.4" height="1.3" fill="#6a6a6a"/>
<clipPath id="cl42"><rect x="247.1" y="768.9" width="74.1" height="73.9"/></clipPath>
<g clip-path="url(#cl42)">
<path d="M248.0,842.8 L248.0,842.3 L248.4,842.3 L248.8,842.3 L249.2,842.3 L249.6,842.3 L250.0,842.3 L250.4,842.3 L250.8,842.1 L251.2,841.7 L251.6,841.4 L252.0,841.1 L252.4,840.8 L252.8,840.5 L253.2,840.3 L253.6,840.1 L254.0,839.9 L254.4,839.5 L254.8,839.3 L255.2,839.1 L255.6,838.6 L256.0,837.6 L256.4,836.6 L256.8,835.4 L257.2,834.3 L257.6,833.5 L258.0,831.8 L258.4,829.6 L258.8,827.3 L259.2,824.0 L259.6,820.6 L260.0,816.5 L260.4,812.2 L260.8,808.7 L261.2,804.3 L261.6,799.1 L262.0,794.2 L262.4,789.3 L262.8,785.8 L263.2,786.4 L263.6,783.7 L264.0,776.8 L264.4,773.8 L264.8,773.5 L265.2,774.4 L265.6,778.8 L266.0,780.7 L266.4,784.3 L266.8,788.0 L267.2,788.3 L267.6,792.0 L268.0,797.6 L268.4,800.5 L268.8,804.5 L269.2,807.5 L269.6,809.4 L270.0,810.7 L270.4,809.9 L270.8,809.6 L271.2,809.0 L271.6,808.2 L272.0,806.9 L272.4,805.9 L272.8,805.3 L273.2,804.3 L273.6,803.9 L274.0,802.8 L274.4,800.8 L274.8,799.8 L275.2,800.7 L275.6,799.5 L276.0,798.3 L276.4,797.0 L276.8,795.2 L277.2,794.8 L277.6,794.7 L278.0,793.9 L278.4,792.7 L278.8,792.2 L279.2,792.8 L279.6,793.7 L280.0,794.4 L280.4,795.2 L280.8,798.5 L281.2,800.3 L281.6,801.7 L282.0,803.5 L282.4,805.3 L282.8,807.5 L283.2,810.2 L283.6,812.5 L284.0,814.3 L284.4,816.8 L284.8,819.1 L285.2,821.2 L285.6,822.9 L286.0,825.1 L286.4,826.8 L286.8,828.6 L287.2,830.7 L287.6,832.6 L288.0,834.3 L288.4,835.7 L288.8,836.9 L289.2,837.7 L289.6,838.6 L290.0,839.3 L290.4,839.7 L290.8,840.1 L291.2,840.5 L291.6,840.8 L292.0,841.1 L292.4,841.4 L292.8,841.8 L293.2,842.2 L293.6,842.3 L294.0,842.3 L294.4,842.3 L294.8,842.3 L295.2,842.3 L295.6,842.3 L296.0,842.3 L296.4,842.3 L296.8,842.3 L297.2,842.3 L297.6,842.3 L298.0,842.3 L298.4,842.3 L298.8,842.3 L299.2,842.3 L299.6,842.3 L300.0,842.3 L300.4,842.3 L300.8,842.3 L301.2,842.3 L301.6,842.3 L302.0,842.3 L302.4,842.3 L302.8,842.3 L303.2,842.3 L303.6,842.3 L304.0,842.3 L304.4,842.3 L304.8,842.3 L305.2,842.3 L305.6,842.3 L306.0,842.3 L306.4,842.3 L306.8,842.3 L307.2,842.3 L307.6,842.3 L308.0,842.3 L308.4,842.3 L308.8,842.3 L309.2,842.3 L309.6,842.3 L310.0,842.3 L310.4,842.3 L310.8,842.3 L311.2,842.3 L311.6,842.3 L312.0,842.3 L312.4,842.3 L312.8,842.3 L313.2,842.3 L313.6,842.3 L314.0,842.3 L314.4,842.3 L314.8,842.3 L315.2,842.3 L315.6,842.3 L316.0,842.3 L316.4,842.3 L316.8,842.3 L317.2,842.3 L317.6,842.3 L318.0,842.3 L318.4,842.3 L318.8,842.3 L319.2,842.3 L319.6,842.3 L320.0,842.3 L320.0,842.8 Z" fill="#686868" stroke="#2e2e2e" stroke-width="0.8" stroke-linejoin="round"/>
<path d="M248.0,841.9 L248.4,841.9 L248.8,841.9 L249.2,841.9 L249.6,841.9 L250.0,841.9 L250.4,841.9 L250.8,841.7 L251.2,841.4 L251.6,841.0 L252.0,840.8 L252.4,840.6 L252.8,840.3 L253.2,840.1 L253.6,839.8 L254.0,839.6 L254.4,839.3 L254.8,839.1 L255.2,838.8 L255.6,838.3 L256.0,837.4 L256.4,836.2 L256.8,835.1 L257.2,834.0 L257.6,832.8 L258.0,831.1 L258.4,828.9 L258.8,826.5 L259.2,823.8 L259.6,820.3 L260.0,816.2 L260.4,811.8 L260.8,807.3 L261.2,802.9 L261.6,798.5 L262.0,794.1 L262.4,790.0 L262.8,786.6 L263.2,783.6 L263.6,780.7 L264.0,777.7 L264.4,774.9 L264.8,773.5 L265.2,774.6 L265.6,776.9 L266.0,779.5 L266.4,782.4 L266.8,785.7 L267.2,789.9 L267.6,795.4 L268.0,801.4 L268.4,807.1 L268.8,812.2 L269.2,816.5 L269.6,820.5 L270.0,824.3 L270.4,827.4 L270.8,830.0 L271.2,832.5 L271.6,834.7 L272.0,836.2 L272.4,837.2 L272.8,838.1 L273.2,839.0 L273.6,839.9 L274.0,840.8 L274.4,841.6 L274.8,841.9 L275.2,841.9 L275.6,841.9 L276.0,841.9 L276.4,841.9 L276.8,841.9 L277.2,841.9 L277.6,841.9 L278.0,841.9 L278.4,841.9 L278.8,841.9 L279.2,841.9 L279.6,841.9 L280.0,841.9 L280.4,841.9 L280.8,841.9 L281.2,841.9 L281.6,841.9 L282.0,841.9 L282.4,841.9 L282.8,841.9 L283.2,841.9 L283.6,841.9 L284.0,841.9 L284.4,841.9 L284.8,841.9 L285.2,841.9 L285.6,841.9 L286.0,841.9 L286.4,841.9 L286.8,841.9 L287.2,841.9 L287.6,841.9 L288.0,841.9 L288.4,841.9 L288.8,841.9 L289.2,841.9 L289.6,841.9 L290.0,841.9 L290.4,841.9 L290.8,841.9 L291.2,841.9 L291.6,841.9 L292.0,841.9 L292.4,841.9 L292.8,841.9 L293.2,841.9 L293.6,841.9 L294.0,841.9 L294.4,841.9 L294.8,841.9 L295.2,841.9 L295.6,841.9 L296.0,841.9 L296.4,841.9 L296.8,841.9 L297.2,841.9 L297.6,841.9 L298.0,841.9 L298.4,841.9 L298.8,841.9 L299.2,841.9 L299.6,841.9 L300.0,841.9 L300.4,841.9 L300.8,841.9 L301.2,841.9 L301.6,841.9 L302.0,841.9 L302.4,841.9 L302.8,841.9 L303.2,841.9 L303.6,841.9 L304.0,841.9 L304.4,841.9 L304.8,841.9 L305.2,841.9 L305.6,841.9 L306.0,841.9 L306.4,841.9 L306.8,841.9 L307.2,841.9 L307.6,841.9 L308.0,841.9 L308.4,841.9 L308.8,841.9 L309.2,841.9 L309.6,841.9 L310.0,841.9 L310.4,841.9 L310.8,841.9 L311.2,841.9 L311.6,841.9 L312.0,841.9 L312.4,841.9 L312.8,841.9 L313.2,841.9 L313.6,841.9 L314.0,841.9 L314.4,841.9 L314.8,841.9 L315.2,841.9 L315.6,841.9 L316.0,841.9 L316.4,841.9 L316.8,841.9 L317.2,841.9 L317.6,841.9 L318.0,841.9 L318.4,841.9 L318.8,841.9 L319.2,841.9 L319.6,841.9 L320.0,841.9" fill="none" stroke="#474747" stroke-width="0.75" stroke-linejoin="round"/>
</g>
<rect x="247.1" y="768.9" width="74.1" height="73.9" fill="none" stroke="#000" stroke-width="1.7"/>
<text x="0" y="0" font-size="13.6" font-weight="bold" font-style="italic" text-anchor="start" transform="translate(246.5 766.3) scale(1 0.98)" >HEK-293</text>
<rect x="237.9" y="771.90" width="3.4" height="1.4" fill="#6e6e6e"/>
<rect x="237.9" y="785.94" width="3.4" height="1.4" fill="#6e6e6e"/>
<rect x="237.9" y="799.98" width="3.4" height="1.4" fill="#6e6e6e"/>
<rect x="237.9" y="814.02" width="3.4" height="1.4" fill="#6e6e6e"/>
<rect x="237.9" y="828.06" width="3.4" height="1.4" fill="#6e6e6e"/>
<rect x="241.5" y="842.60" width="1.3" height="1.3" fill="#777"/>
<rect x="246.20" y="847.50" width="1.2" height="1.3" fill="#6a6a6a"/>
<rect x="264.55" y="847.50" width="2.2" height="1.3" fill="#6a6a6a"/>
<rect x="282.20" y="847.50" width="3.2" height="1.3" fill="#6a6a6a"/>
<rect x="299.85" y="847.50" width="4.2" height="1.3" fill="#6a6a6a"/>
<rect x="317.40" y="847.50" width="5.4" height="1.3" fill="#6a6a6a"/>
<clipPath id="cl44"><rect x="438.7" y="768.9" width="74.1" height="73.9"/></clipPath>
<g clip-path="url(#cl44)">
<path d="M439.6,842.8 L439.6,837.9 L440.0,837.7 L440.4,837.4 L440.8,837.1 L441.2,836.7 L441.6,836.4 L442.0,836.3 L442.4,836.0 L442.8,835.6 L443.2,835.0 L443.6,834.5 L444.0,833.9 L444.4,833.2 L444.8,832.6 L445.2,832.0 L445.6,831.4 L446.0,830.7 L446.4,829.9 L446.8,828.8 L447.2,827.9 L447.6,826.5 L448.0,825.4 L448.4,824.8 L448.8,823.7 L449.2,823.1 L449.6,822.0 L450.0,820.3 L450.4,818.4 L450.8,816.2 L451.2,814.1 L451.6,813.0 L452.0,810.9 L452.4,808.9 L452.8,806.3 L453.2,801.9 L453.6,799.2 L454.0,797.0 L454.4,793.9 L454.8,792.7 L455.2,789.2 L455.6,786.3 L456.0,783.8 L456.4,781.3 L456.8,779.2 L457.2,773.1 L457.6,772.6 L458.0,776.7 L458.4,779.3 L458.8,780.0 L459.2,782.5 L459.6,784.3 L460.0,788.3 L460.4,795.5 L460.8,800.3 L461.2,804.4 L461.6,809.2 L462.0,813.7 L462.4,818.4 L462.8,821.9 L463.2,825.0 L463.6,828.5 L464.0,831.1 L464.4,833.0 L464.8,834.4 L465.2,835.4 L465.6,836.5 L466.0,837.7 L466.4,838.7 L466.8,839.2 L467.2,839.6 L467.6,839.9 L468.0,840.2 L468.4,840.5 L468.8,840.9 L469.2,841.2 L469.6,841.5 L470.0,841.8 L470.4,842.2 L470.8,842.3 L471.2,842.3 L471.6,842.3 L472.0,842.3 L472.4,842.3 L472.8,842.3 L473.2,842.3 L473.6,842.3 L474.0,842.3 L474.4,842.3 L474.8,842.3 L475.2,842.3 L475.6,842.3 L476.0,842.3 L476.4,842.3 L476.8,842.3 L477.2,842.3 L477.6,842.3 L478.0,842.3 L478.4,842.3 L478.8,842.3 L479.2,842.3 L479.6,842.3 L480.0,842.3 L480.4,842.3 L480.8,842.3 L481.2,842.3 L481.6,842.3 L482.0,842.3 L482.4,842.3 L482.8,842.3 L483.2,842.3 L483.6,842.3 L484.0,842.3 L484.4,842.3 L484.8,842.3 L485.2,842.3 L485.6,842.3 L486.0,842.3 L486.4,842.3 L486.8,842.3 L487.2,842.3 L487.6,842.3 L488.0,842.3 L488.4,842.3 L488.8,842.3 L489.2,842.3 L489.6,842.3 L490.0,842.3 L490.4,842.3 L490.8,842.3 L491.2,842.3 L491.6,842.3 L492.0,842.3 L492.4,842.3 L492.8,842.3 L493.2,842.3 L493.6,842.3 L494.0,842.3 L494.4,842.3 L494.8,842.3 L495.2,842.3 L495.6,842.3 L496.0,842.3 L496.4,842.3 L496.8,842.3 L497.2,842.3 L497.6,842.3 L498.0,842.3 L498.4,842.3 L498.8,842.3 L499.2,842.3 L499.6,842.3 L500.0,842.3 L500.4,842.3 L500.8,842.3 L501.2,842.3 L501.6,842.3 L502.0,842.3 L502.4,842.3 L502.8,842.3 L503.2,842.3 L503.6,842.3 L504.0,842.3 L504.4,842.3 L504.8,842.3 L505.2,842.3 L505.6,842.3 L506.0,842.3 L506.4,842.3 L506.8,842.3 L507.2,842.3 L507.6,842.3 L508.0,842.3 L508.4,842.3 L508.8,842.3 L509.2,842.3 L509.6,842.3 L510.0,842.3 L510.4,842.3 L510.8,842.3 L511.2,842.3 L511.6,842.3 L511.6,842.8 Z" fill="#686868" stroke="#2e2e2e" stroke-width="0.8" stroke-linejoin="round"/>
</g>
<rect x="438.7" y="768.9" width="74.1" height="73.9" fill="none" stroke="#000" stroke-width="1.7"/>
<text x="0" y="0" font-size="13.6" font-weight="bold" font-style="italic" text-anchor="start" transform="translate(438.09999999999997 766.3) scale(1 0.98)" >HC/2G-1</text>
<rect x="429.5" y="771.90" width="3.4" height="1.4" fill="#6e6e6e"/>
<rect x="429.5" y="785.94" width="3.4" height="1.4" fill="#6e6e6e"/>
<rect x="429.5" y="799.98" width="3.4" height="1.4" fill="#6e6e6e"/>
<rect x="429.5" y="814.02" width="3.4" height="1.4" fill="#6e6e6e"/>
<rect x="429.5" y="828.06" width="3.4" height="1.4" fill="#6e6e6e"/>
<rect x="433.1" y="842.60" width="1.3" height="1.3" fill="#777"/>
<rect x="437.80" y="847.50" width="1.2" height="1.3" fill="#6a6a6a"/>
<rect x="456.15" y="847.50" width="2.2" height="1.3" fill="#6a6a6a"/>
<rect x="473.80" y="847.50" width="3.2" height="1.3" fill="#6a6a6a"/>
<rect x="491.45" y="847.50" width="4.2" height="1.3" fill="#6a6a6a"/>
<rect x="509.00" y="847.50" width="5.4" height="1.3" fill="#6a6a6a"/>
<clipPath id="cl50"><rect x="55.7" y="870.1" width="74.1" height="73.4"/></clipPath>
<g clip-path="url(#cl50)">
<path d="M56.6,943.5 L56.6,939.0 L57.0,938.8 L57.4,938.6 L57.8,938.3 L58.2,937.9 L58.6,937.6 L59.0,937.2 L59.4,936.5 L59.8,935.5 L60.2,934.6 L60.6,933.3 L61.0,932.4 L61.4,932.1 L61.8,931.1 L62.2,929.6 L62.6,927.8 L63.0,925.6 L63.4,923.8 L63.8,922.8 L64.2,920.8 L64.6,918.4 L65.0,915.9 L65.4,912.2 L65.8,909.6 L66.2,906.4 L66.6,903.4 L67.0,901.8 L67.4,898.2 L67.8,895.1 L68.2,891.4 L68.6,885.4 L69.0,882.9 L69.4,883.2 L69.8,881.0 L70.2,877.3 L70.6,875.9 L71.0,876.4 L71.4,878.1 L71.8,880.6 L72.2,882.8 L72.6,884.7 L73.0,887.8 L73.4,891.4 L73.8,895.5 L74.2,900.2 L74.6,903.6 L75.0,906.9 L75.4,910.1 L75.8,913.5 L76.2,916.8 L76.6,919.7 L77.0,922.2 L77.4,924.6 L77.8,927.0 L78.2,929.1 L78.6,930.6 L79.0,931.9 L79.4,933.2 L79.8,934.1 L80.2,935.4 L80.6,936.5 L81.0,937.2 L81.4,938.0 L81.8,938.6 L82.2,938.9 L82.6,939.6 L83.0,940.3 L83.4,940.8 L83.8,941.1 L84.2,941.3 L84.6,941.4 L85.0,941.6 L85.4,941.7 L85.8,941.9 L86.2,942.0 L86.6,942.2 L87.0,942.3 L87.4,942.5 L87.8,942.9 L88.2,943.0 L88.6,943.0 L89.0,943.0 L89.4,943.0 L89.8,943.0 L90.2,943.0 L90.6,943.0 L91.0,943.0 L91.4,943.0 L91.8,943.0 L92.2,943.0 L92.6,943.0 L93.0,943.0 L93.4,943.0 L93.8,943.0 L94.2,943.0 L94.6,943.0 L95.0,943.0 L95.4,943.0 L95.8,943.0 L96.2,943.0 L96.6,943.0 L97.0,943.0 L97.4,943.0 L97.8,943.0 L98.2,943.0 L98.6,943.0 L99.0,943.0 L99.4,943.0 L99.8,943.0 L100.2,943.0 L100.6,943.0 L101.0,943.0 L101.4,943.0 L101.8,943.0 L102.2,943.0 L102.6,943.0 L103.0,943.0 L103.4,943.0 L103.8,943.0 L104.2,943.0 L104.6,943.0 L105.0,943.0 L105.4,943.0 L105.8,943.0 L106.2,943.0 L106.6,943.0 L107.0,943.0 L107.4,943.0 L107.8,943.0 L108.2,943.0 L108.6,943.0 L109.0,943.0 L109.4,943.0 L109.8,943.0 L110.2,943.0 L110.6,943.0 L111.0,943.0 L111.4,943.0 L111.8,943.0 L112.2,943.0 L112.6,943.0 L113.0,943.0 L113.4,943.0 L113.8,943.0 L114.2,943.0 L114.6,943.0 L115.0,943.0 L115.4,943.0 L115.8,943.0 L116.2,943.0 L116.6,943.0 L117.0,943.0 L117.4,943.0 L117.8,943.0 L118.2,943.0 L118.6,943.0 L119.0,943.0 L119.4,943.0 L119.8,943.0 L120.2,943.0 L120.6,943.0 L121.0,943.0 L121.4,943.0 L121.8,943.0 L122.2,943.0 L122.6,943.0 L123.0,943.0 L123.4,943.0 L123.8,943.0 L124.2,943.0 L124.6,943.0 L125.0,943.0 L125.4,943.0 L125.8,943.0 L126.2,943.0 L126.6,943.0 L127.0,943.0 L127.4,943.0 L127.8,943.0 L128.2,943.0 L128.6,943.0 L128.6,943.5 Z" fill="#686868" stroke="#2e2e2e" stroke-width="0.8" stroke-linejoin="round"/>
</g>
<rect x="55.7" y="870.1" width="74.1" height="73.4" fill="none" stroke="#000" stroke-width="1.7"/>
<text x="0" y="0" font-size="13.6" font-weight="bold" font-style="italic" text-anchor="start" transform="translate(55.1 866.9) scale(1 0.98)" >EBV-B#4</text>
<rect x="46.5" y="873.10" width="3.4" height="1.4" fill="#6e6e6e"/>
<rect x="46.5" y="887.04" width="3.4" height="1.4" fill="#6e6e6e"/>
<rect x="46.5" y="900.98" width="3.4" height="1.4" fill="#6e6e6e"/>
<rect x="46.5" y="914.92" width="3.4" height="1.4" fill="#6e6e6e"/>
<rect x="46.5" y="928.86" width="3.4" height="1.4" fill="#6e6e6e"/>
<rect x="50.1" y="943.30" width="1.3" height="1.3" fill="#777"/>
<rect x="54.80" y="948.20" width="1.2" height="1.3" fill="#6a6a6a"/>
<rect x="73.15" y="948.20" width="2.2" height="1.3" fill="#6a6a6a"/>
<rect x="90.80" y="948.20" width="3.2" height="1.3" fill="#6a6a6a"/>
<rect x="108.45" y="948.20" width="4.2" height="1.3" fill="#6a6a6a"/>
<rect x="126.00" y="948.20" width="5.4" height="1.3" fill="#6a6a6a"/>
<clipPath id="cl51"><rect x="151.3" y="870.1" width="74.1" height="73.4"/></clipPath>
<g clip-path="url(#cl51)">
<path d="M152.2,943.5 L152.2,939.5 L152.6,939.3 L153.0,938.9 L153.4,938.6 L153.8,938.4 L154.2,938.1 L154.6,937.5 L155.0,937.1 L155.4,936.6 L155.8,935.9 L156.2,935.1 L156.6,934.4 L157.0,933.4 L157.4,932.7 L157.8,932.2 L158.2,930.9 L158.6,928.8 L159.0,926.9 L159.4,925.3 L159.8,923.3 L160.2,921.5 L160.6,919.0 L161.0,916.0 L161.4,912.9 L161.8,910.1 L162.2,907.0 L162.6,904.1 L163.0,900.7 L163.4,895.5 L163.8,892.0 L164.2,890.4 L164.6,887.1 L165.0,882.8 L165.4,880.5 L165.8,879.2 L166.2,876.9 L166.6,877.9 L167.0,877.7 L167.4,878.1 L167.8,880.5 L168.2,881.6 L168.6,884.3 L169.0,886.1 L169.4,889.3 L169.8,894.3 L170.2,897.6 L170.6,900.0 L171.0,902.8 L171.4,906.7 L171.8,909.5 L172.2,911.6 L172.6,914.3 L173.0,916.4 L173.4,918.2 L173.8,920.4 L174.2,922.2 L174.6,924.6 L175.0,926.2 L175.4,926.9 L175.8,927.9 L176.2,929.3 L176.6,930.3 L177.0,931.0 L177.4,932.0 L177.8,932.8 L178.2,933.5 L178.6,933.8 L179.0,934.5 L179.4,935.1 L179.8,935.8 L180.2,936.5 L180.6,937.0 L181.0,937.4 L181.4,937.9 L181.8,938.4 L182.2,938.8 L182.6,939.3 L183.0,939.7 L183.4,940.2 L183.8,940.7 L184.2,940.9 L184.6,941.2 L185.0,941.4 L185.4,941.6 L185.8,941.8 L186.2,941.9 L186.6,942.1 L187.0,942.3 L187.4,942.5 L187.8,942.9 L188.2,943.0 L188.6,943.0 L189.0,943.0 L189.4,943.0 L189.8,943.0 L190.2,943.0 L190.6,943.0 L191.0,943.0 L191.4,943.0 L191.8,943.0 L192.2,943.0 L192.6,943.0 L193.0,943.0 L193.4,943.0 L193.8,943.0 L194.2,943.0 L194.6,943.0 L195.0,943.0 L195.4,943.0 L195.8,943.0 L196.2,943.0 L196.6,943.0 L197.0,943.0 L197.4,943.0 L197.8,943.0 L198.2,943.0 L198.6,943.0 L199.0,943.0 L199.4,943.0 L199.8,943.0 L200.2,943.0 L200.6,943.0 L201.0,943.0 L201.4,943.0 L201.8,943.0 L202.2,943.0 L202.6,943.0 L203.0,943.0 L203.4,943.0 L203.8,943.0 L204.2,943.0 L204.6,943.0 L205.0,943.0 L205.4,943.0 L205.8,943.0 L206.2,943.0 L206.6,943.0 L207.0,943.0 L207.4,943.0 L207.8,943.0 L208.2,943.0 L208.6,943.0 L209.0,943.0 L209.4,943.0 L209.8,943.0 L210.2,943.0 L210.6,943.0 L211.0,943.0 L211.4,943.0 L211.8,943.0 L212.2,943.0 L212.6,943.0 L213.0,943.0 L213.4,943.0 L213.8,943.0 L214.2,943.0 L214.6,943.0 L215.0,943.0 L215.4,943.0 L215.8,943.0 L216.2,943.0 L216.6,943.0 L217.0,943.0 L217.4,943.0 L217.8,943.0 L218.2,943.0 L218.6,943.0 L219.0,943.0 L219.4,943.0 L219.8,943.0 L220.2,943.0 L220.6,943.0 L221.0,943.0 L221.4,943.0 L221.8,943.0 L222.2,943.0 L222.6,943.0 L223.0,943.0 L223.4,943.0 L223.8,943.0 L224.2,943.0 L224.2,943.5 Z" fill="#686868" stroke="#2e2e2e" stroke-width="0.8" stroke-linejoin="round"/>
</g>
<rect x="151.3" y="870.1" width="74.1" height="73.4" fill="none" stroke="#000" stroke-width="1.7"/>
<text x="0" y="0" font-size="13.6" font-weight="bold" font-style="italic" text-anchor="start" transform="translate(150.70000000000002 866.9) scale(1 0.98)" >EBV-B#6</text>
<rect x="142.1" y="873.10" width="3.4" height="1.4" fill="#6e6e6e"/>
<rect x="142.1" y="887.04" width="3.4" height="1.4" fill="#6e6e6e"/>
<rect x="142.1" y="900.98" width="3.4" height="1.4" fill="#6e6e6e"/>
<rect x="142.1" y="914.92" width="3.4" height="1.4" fill="#6e6e6e"/>
<rect x="142.1" y="928.86" width="3.4" height="1.4" fill="#6e6e6e"/>
<rect x="145.7" y="943.30" width="1.3" height="1.3" fill="#777"/>
<rect x="150.40" y="948.20" width="1.2" height="1.3" fill="#6a6a6a"/>
<rect x="168.75" y="948.20" width="2.2" height="1.3" fill="#6a6a6a"/>
<rect x="186.40" y="948.20" width="3.2" height="1.3" fill="#6a6a6a"/>
<rect x="204.05" y="948.20" width="4.2" height="1.3" fill="#6a6a6a"/>
<rect x="221.60" y="948.20" width="5.4" height="1.3" fill="#6a6a6a"/>
<clipPath id="cl52"><rect x="247.1" y="870.1" width="74.1" height="73.4"/></clipPath>
<g clip-path="url(#cl52)">
<path d="M248.0,943.5 L248.0,940.1 L248.4,939.9 L248.8,939.8 L249.2,939.5 L249.6,939.0 L250.0,938.7 L250.4,938.5 L250.8,938.1 L251.2,937.4 L251.6,936.6 L252.0,936.0 L252.4,935.2 L252.8,934.1 L253.2,933.2 L253.6,932.9 L254.0,932.0 L254.4,929.9 L254.8,928.3 L255.2,927.3 L255.6,925.6 L256.0,924.3 L256.4,922.3 L256.8,919.2 L257.2,916.4 L257.6,912.8 L258.0,909.8 L258.4,907.9 L258.8,904.7 L259.2,900.5 L259.6,897.1 L260.0,895.0 L260.4,892.0 L260.8,888.6 L261.2,885.5 L261.6,881.8 L262.0,879.2 L262.4,876.8 L262.8,877.0 L263.2,879.4 L263.6,881.3 L264.0,881.8 L264.4,884.9 L264.8,890.0 L265.2,893.6 L265.6,896.6 L266.0,900.5 L266.4,904.4 L266.8,908.6 L267.2,912.6 L267.6,916.2 L268.0,919.4 L268.4,922.7 L268.8,926.0 L269.2,928.1 L269.6,929.8 L270.0,931.3 L270.4,932.7 L270.8,934.1 L271.2,935.3 L271.6,936.0 L272.0,936.8 L272.4,937.4 L272.8,937.9 L273.2,938.5 L273.6,939.1 L274.0,939.7 L274.4,940.1 L274.8,940.3 L275.2,940.5 L275.6,940.8 L276.0,941.0 L276.4,941.2 L276.8,941.3 L277.2,941.6 L277.6,941.8 L278.0,942.0 L278.4,942.2 L278.8,942.5 L279.2,942.9 L279.6,943.0 L280.0,943.0 L280.4,943.0 L280.8,943.0 L281.2,943.0 L281.6,943.0 L282.0,943.0 L282.4,943.0 L282.8,943.0 L283.2,943.0 L283.6,943.0 L284.0,943.0 L284.4,943.0 L284.8,943.0 L285.2,943.0 L285.6,943.0 L286.0,943.0 L286.4,943.0 L286.8,943.0 L287.2,943.0 L287.6,943.0 L288.0,943.0 L288.4,943.0 L288.8,943.0 L289.2,943.0 L289.6,943.0 L290.0,943.0 L290.4,943.0 L290.8,943.0 L291.2,943.0 L291.6,943.0 L292.0,943.0 L292.4,943.0 L292.8,943.0 L293.2,943.0 L293.6,943.0 L294.0,943.0 L294.4,943.0 L294.8,943.0 L295.2,943.0 L295.6,943.0 L296.0,943.0 L296.4,943.0 L296.8,943.0 L297.2,943.0 L297.6,943.0 L298.0,943.0 L298.4,943.0 L298.8,943.0 L299.2,943.0 L299.6,943.0 L300.0,943.0 L300.4,943.0 L300.8,943.0 L301.2,943.0 L301.6,943.0 L302.0,943.0 L302.4,943.0 L302.8,943.0 L303.2,943.0 L303.6,943.0 L304.0,943.0 L304.4,943.0 L304.8,943.0 L305.2,943.0 L305.6,943.0 L306.0,943.0 L306.4,943.0 L306.8,943.0 L307.2,943.0 L307.6,943.0 L308.0,943.0 L308.4,943.0 L308.8,943.0 L309.2,943.0 L309.6,943.0 L310.0,943.0 L310.4,943.0 L310.8,943.0 L311.2,943.0 L311.6,943.0 L312.0,943.0 L312.4,943.0 L312.8,943.0 L313.2,943.0 L313.6,943.0 L314.0,943.0 L314.4,943.0 L314.8,943.0 L315.2,943.0 L315.6,943.0 L316.0,943.0 L316.4,943.0 L316.8,943.0 L317.2,943.0 L317.6,943.0 L318.0,943.0 L318.4,943.0 L318.8,943.0 L319.2,943.0 L319.6,943.0 L320.0,943.0 L320.0,943.5 Z" fill="#686868" stroke="#2e2e2e" stroke-width="0.8" stroke-linejoin="round"/>
</g>
<rect x="247.1" y="870.1" width="74.1" height="73.4" fill="none" stroke="#000" stroke-width="1.7"/>
<text x="0" y="0" font-size="13.6" font-weight="bold" font-style="italic" text-anchor="start" transform="translate(246.5 866.9) scale(1 0.98)" >EBV-B#9</text>
<rect x="237.9" y="873.10" width="3.4" height="1.4" fill="#6e6e6e"/>
<rect x="237.9" y="887.04" width="3.4" height="1.4" fill="#6e6e6e"/>
<rect x="237.9" y="900.98" width="3.4" height="1.4" fill="#6e6e6e"/>
<rect x="237.9" y="914.92" width="3.4" height="1.4" fill="#6e6e6e"/>
<rect x="237.9" y="928.86" width="3.4" height="1.4" fill="#6e6e6e"/>
<rect x="241.5" y="943.30" width="1.3" height="1.3" fill="#777"/>
<rect x="246.20" y="948.20" width="1.2" height="1.3" fill="#6a6a6a"/>
<rect x="264.55" y="948.20" width="2.2" height="1.3" fill="#6a6a6a"/>
<rect x="282.20" y="948.20" width="3.2" height="1.3" fill="#6a6a6a"/>
<rect x="299.85" y="948.20" width="4.2" height="1.3" fill="#6a6a6a"/>
<rect x="317.40" y="948.20" width="5.4" height="1.3" fill="#6a6a6a"/>
<clipPath id="cl53"><rect x="343.0" y="870.1" width="74.1" height="73.4"/></clipPath>
<g clip-path="url(#cl53)">
<path d="M343.9,943.5 L343.9,940.8 L344.3,940.6 L344.7,940.4 L345.1,940.2 L345.5,940.1 L345.9,939.9 L346.3,939.6 L346.7,939.4 L347.1,938.9 L347.5,938.4 L347.9,938.0 L348.3,937.4 L348.7,936.7 L349.1,936.2 L349.5,935.5 L349.9,934.9 L350.3,934.0 L350.7,932.9 L351.1,932.4 L351.5,931.3 L351.9,930.2 L352.3,928.9 L352.7,926.2 L353.1,923.7 L353.5,921.8 L353.9,919.4 L354.3,917.6 L354.7,915.1 L355.1,911.3 L355.5,908.6 L355.9,907.0 L356.3,904.1 L356.7,900.0 L357.1,896.4 L357.5,892.7 L357.9,888.8 L358.3,886.3 L358.7,883.8 L359.1,881.5 L359.5,878.8 L359.9,875.7 L360.3,876.2 L360.7,877.8 L361.1,880.2 L361.5,884.3 L361.9,888.2 L362.3,891.2 L362.7,895.7 L363.1,899.6 L363.5,903.8 L363.9,910.0 L364.3,914.2 L364.7,917.4 L365.1,921.1 L365.5,924.7 L365.9,927.5 L366.3,929.1 L366.7,930.8 L367.1,932.6 L367.5,934.1 L367.9,935.2 L368.3,936.0 L368.7,936.7 L369.1,937.4 L369.5,937.9 L369.9,938.6 L370.3,939.3 L370.7,939.9 L371.1,940.3 L371.5,940.6 L371.9,940.7 L372.3,941.0 L372.7,941.3 L373.1,941.5 L373.5,941.7 L373.9,942.0 L374.3,942.2 L374.7,942.5 L375.1,942.9 L375.5,943.0 L375.9,943.0 L376.3,943.0 L376.7,943.0 L377.1,943.0 L377.5,943.0 L377.9,943.0 L378.3,943.0 L378.7,943.0 L379.1,943.0 L379.5,943.0 L379.9,943.0 L380.3,943.0 L380.7,943.0 L381.1,943.0 L381.5,943.0 L381.9,943.0 L382.3,943.0 L382.7,943.0 L383.1,943.0 L383.5,943.0 L383.9,943.0 L384.3,943.0 L384.7,943.0 L385.1,943.0 L385.5,943.0 L385.9,943.0 L386.3,943.0 L386.7,943.0 L387.1,943.0 L387.5,943.0 L387.9,943.0 L388.3,943.0 L388.7,943.0 L389.1,943.0 L389.5,943.0 L389.9,943.0 L390.3,943.0 L390.7,943.0 L391.1,943.0 L391.5,943.0 L391.9,943.0 L392.3,943.0 L392.7,943.0 L393.1,943.0 L393.5,943.0 L393.9,943.0 L394.3,943.0 L394.7,943.0 L395.1,943.0 L395.5,943.0 L395.9,943.0 L396.3,943.0 L396.7,943.0 L397.1,943.0 L397.5,943.0 L397.9,943.0 L398.3,943.0 L398.7,943.0 L399.1,943.0 L399.5,943.0 L399.9,943.0 L400.3,943.0 L400.7,943.0 L401.1,943.0 L401.5,943.0 L401.9,943.0 L402.3,943.0 L402.7,943.0 L403.1,943.0 L403.5,943.0 L403.9,943.0 L404.3,943.0 L404.7,943.0 L405.1,943.0 L405.5,943.0 L405.9,943.0 L406.3,943.0 L406.7,943.0 L407.1,943.0 L407.5,943.0 L407.9,943.0 L408.3,943.0 L408.7,943.0 L409.1,943.0 L409.5,943.0 L409.9,943.0 L410.3,943.0 L410.7,943.0 L411.1,943.0 L411.5,943.0 L411.9,943.0 L412.3,943.0 L412.7,943.0 L413.1,943.0 L413.5,943.0 L413.9,943.0 L414.3,943.0 L414.7,943.0 L415.1,943.0 L415.5,943.0 L415.9,943.0 L415.9,943.5 Z" fill="#686868" stroke="#2e2e2e" stroke-width="0.8" stroke-linejoin="round"/>
</g>
<rect x="343.0" y="870.1" width="74.1" height="73.4" fill="none" stroke="#000" stroke-width="1.7"/>
<text x="0" y="0" font-size="13.6" font-weight="bold" font-style="italic" text-anchor="start" transform="translate(342.4 866.9) scale(1 0.98)" >EBV-B#11</text>
<rect x="333.8" y="873.10" width="3.4" height="1.4" fill="#6e6e6e"/>
<rect x="333.8" y="887.04" width="3.4" height="1.4" fill="#6e6e6e"/>
<rect x="333.8" y="900.98" width="3.4" height="1.4" fill="#6e6e6e"/>
<rect x="333.8" y="914.92" width="3.4" height="1.4" fill="#6e6e6e"/>
<rect x="333.8" y="928.86" width="3.4" height="1.4" fill="#6e6e6e"/>
<rect x="337.4" y="943.30" width="1.3" height="1.3" fill="#777"/>
<rect x="342.10" y="948.20" width="1.2" height="1.3" fill="#6a6a6a"/>
<rect x="360.45" y="948.20" width="2.2" height="1.3" fill="#6a6a6a"/>
<rect x="378.10" y="948.20" width="3.2" height="1.3" fill="#6a6a6a"/>
<rect x="395.75" y="948.20" width="4.2" height="1.3" fill="#6a6a6a"/>
<rect x="413.30" y="948.20" width="5.4" height="1.3" fill="#6a6a6a"/>
<line x1="79" y1="978.3" x2="472" y2="978.3" stroke="#000" stroke-width="2.5" stroke-linecap="butt"/>
<path d="M488.4,978.3 L466.6,968.9 L471.3,978.3 L466.6,987.7 Z" fill="#000"/>
<text x="0" y="0" font-size="16.3" font-weight="bold" font-style="italic" text-anchor="start" transform="translate(257.2 974.0) scale(1 1.0)" >MMP14</text>
</svg>
</body></html>
